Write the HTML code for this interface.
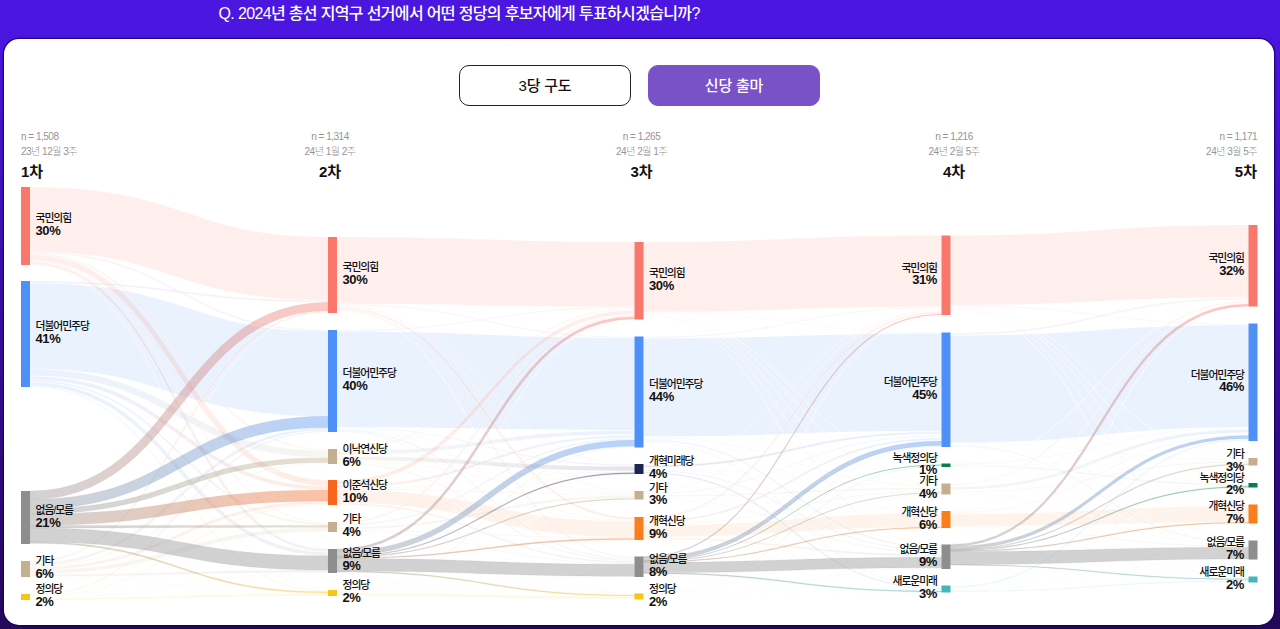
<!DOCTYPE html>
<html lang="ko"><head><meta charset="utf-8"><title>총선 지역구 투표 의향 패널 조사</title>
<style>
html,body{margin:0;padding:0}
body{width:1280px;height:629px;overflow:hidden;position:relative;background:linear-gradient(180deg,#4a16e0 0%,#4a16e0 5%,#370fa2 49%,#240859 100%);font-family:"Liberation Sans","Noto Sans CJK KR",sans-serif}
.title{position:absolute;left:218.5px;top:2px;height:24px;line-height:24px;color:#fff;font-size:16px;font-weight:500;letter-spacing:-0.65px;white-space:nowrap}
.card{position:absolute;left:4px;top:38.7px;width:1270.3px;height:586.3px;background:#fff;border-radius:15px;box-shadow:0 0 0 1.3px rgba(16,0,100,.75)}
.btn{position:absolute;top:65px;width:170px;height:38.5px;border-radius:10px;font-size:15px;font-weight:500;line-height:40.5px;text-align:center;letter-spacing:-0.2px}
.b1{left:459px;border:1px solid #222;background:#fff;color:#111}
.b2{left:648px;border:1px solid #7a52c8;background:#7a52c8;color:#fff}
svg{position:absolute;left:0;top:0}
svg text{font-family:"Liberation Sans","Noto Sans CJK KR",sans-serif}
.nm{font-size:10.8px;fill:#111;letter-spacing:-1.05px;font-weight:500}
.pc{font-size:13px;fill:#111;font-weight:700;letter-spacing:-0.4px}
.hn{font-size:10px;fill:#959595;letter-spacing:-0.5px;font-weight:300}
.hr{font-size:15px;fill:#111;font-weight:700}
.s{stroke:#fff;stroke-opacity:.45;stroke-width:1}
</style></head><body>
<div class="title">Q. 2024년 총선 지역구 선거에서 어떤 정당의 후보자에게 투표하시겠습니까?</div>
<div class="card"></div>
<div class="btn b1">3당 구도</div>
<div class="btn b2">신당 출마</div>
<svg width="1280" height="629" viewBox="0 0 1280 629">
<defs>
<linearGradient id="g1" gradientUnits="userSpaceOnUse" x1="30" x2="328" y1="0" y2="0"><stop offset="0" stop-color="#fa776c"/><stop offset="1" stop-color="#fa776c"/></linearGradient>
<linearGradient id="g2" gradientUnits="userSpaceOnUse" x1="30" x2="328" y1="0" y2="0"><stop offset="0" stop-color="#fa776c"/><stop offset="1" stop-color="#4d90f7"/></linearGradient>
<linearGradient id="g3" gradientUnits="userSpaceOnUse" x1="30" x2="328" y1="0" y2="0"><stop offset="0" stop-color="#fa776c"/><stop offset="1" stop-color="#c3af90"/></linearGradient>
<linearGradient id="g4" gradientUnits="userSpaceOnUse" x1="30" x2="328" y1="0" y2="0"><stop offset="0" stop-color="#fa776c"/><stop offset="1" stop-color="#f8651f"/></linearGradient>
<linearGradient id="g5" gradientUnits="userSpaceOnUse" x1="30" x2="328" y1="0" y2="0"><stop offset="0" stop-color="#fa776c"/><stop offset="1" stop-color="#c4b08f"/></linearGradient>
<linearGradient id="g6" gradientUnits="userSpaceOnUse" x1="30" x2="328" y1="0" y2="0"><stop offset="0" stop-color="#fa776c"/><stop offset="1" stop-color="#8e8e8e"/></linearGradient>
<linearGradient id="g7" gradientUnits="userSpaceOnUse" x1="30" x2="328" y1="0" y2="0"><stop offset="0" stop-color="#fa776c"/><stop offset="1" stop-color="#f5c518"/></linearGradient>
<linearGradient id="g8" gradientUnits="userSpaceOnUse" x1="30" x2="328" y1="0" y2="0"><stop offset="0" stop-color="#4d90f7"/><stop offset="1" stop-color="#fa776c"/></linearGradient>
<linearGradient id="g9" gradientUnits="userSpaceOnUse" x1="30" x2="328" y1="0" y2="0"><stop offset="0" stop-color="#4d90f7"/><stop offset="1" stop-color="#4d90f7"/></linearGradient>
<linearGradient id="g10" gradientUnits="userSpaceOnUse" x1="30" x2="328" y1="0" y2="0"><stop offset="0" stop-color="#4d90f7"/><stop offset="1" stop-color="#c3af90"/></linearGradient>
<linearGradient id="g11" gradientUnits="userSpaceOnUse" x1="30" x2="328" y1="0" y2="0"><stop offset="0" stop-color="#4d90f7"/><stop offset="1" stop-color="#f8651f"/></linearGradient>
<linearGradient id="g12" gradientUnits="userSpaceOnUse" x1="30" x2="328" y1="0" y2="0"><stop offset="0" stop-color="#4d90f7"/><stop offset="1" stop-color="#c4b08f"/></linearGradient>
<linearGradient id="g13" gradientUnits="userSpaceOnUse" x1="30" x2="328" y1="0" y2="0"><stop offset="0" stop-color="#4d90f7"/><stop offset="1" stop-color="#8e8e8e"/></linearGradient>
<linearGradient id="g14" gradientUnits="userSpaceOnUse" x1="30" x2="328" y1="0" y2="0"><stop offset="0" stop-color="#4d90f7"/><stop offset="1" stop-color="#f5c518"/></linearGradient>
<linearGradient id="g15" gradientUnits="userSpaceOnUse" x1="30" x2="328" y1="0" y2="0"><stop offset="0" stop-color="#8e8e8e"/><stop offset="1" stop-color="#fa776c"/></linearGradient>
<linearGradient id="g16" gradientUnits="userSpaceOnUse" x1="30" x2="328" y1="0" y2="0"><stop offset="0" stop-color="#8e8e8e"/><stop offset="1" stop-color="#4d90f7"/></linearGradient>
<linearGradient id="g17" gradientUnits="userSpaceOnUse" x1="30" x2="328" y1="0" y2="0"><stop offset="0" stop-color="#8e8e8e"/><stop offset="1" stop-color="#c3af90"/></linearGradient>
<linearGradient id="g18" gradientUnits="userSpaceOnUse" x1="30" x2="328" y1="0" y2="0"><stop offset="0" stop-color="#8e8e8e"/><stop offset="1" stop-color="#f8651f"/></linearGradient>
<linearGradient id="g19" gradientUnits="userSpaceOnUse" x1="30" x2="328" y1="0" y2="0"><stop offset="0" stop-color="#8e8e8e"/><stop offset="1" stop-color="#c4b08f"/></linearGradient>
<linearGradient id="g20" gradientUnits="userSpaceOnUse" x1="30" x2="328" y1="0" y2="0"><stop offset="0" stop-color="#8e8e8e"/><stop offset="1" stop-color="#8e8e8e"/></linearGradient>
<linearGradient id="g21" gradientUnits="userSpaceOnUse" x1="30" x2="328" y1="0" y2="0"><stop offset="0" stop-color="#8e8e8e"/><stop offset="1" stop-color="#f5c518"/></linearGradient>
<linearGradient id="g22" gradientUnits="userSpaceOnUse" x1="30" x2="328" y1="0" y2="0"><stop offset="0" stop-color="#c4b08f"/><stop offset="1" stop-color="#fa776c"/></linearGradient>
<linearGradient id="g23" gradientUnits="userSpaceOnUse" x1="30" x2="328" y1="0" y2="0"><stop offset="0" stop-color="#c4b08f"/><stop offset="1" stop-color="#4d90f7"/></linearGradient>
<linearGradient id="g24" gradientUnits="userSpaceOnUse" x1="30" x2="328" y1="0" y2="0"><stop offset="0" stop-color="#c4b08f"/><stop offset="1" stop-color="#c3af90"/></linearGradient>
<linearGradient id="g25" gradientUnits="userSpaceOnUse" x1="30" x2="328" y1="0" y2="0"><stop offset="0" stop-color="#c4b08f"/><stop offset="1" stop-color="#f8651f"/></linearGradient>
<linearGradient id="g26" gradientUnits="userSpaceOnUse" x1="30" x2="328" y1="0" y2="0"><stop offset="0" stop-color="#c4b08f"/><stop offset="1" stop-color="#c4b08f"/></linearGradient>
<linearGradient id="g27" gradientUnits="userSpaceOnUse" x1="30" x2="328" y1="0" y2="0"><stop offset="0" stop-color="#c4b08f"/><stop offset="1" stop-color="#8e8e8e"/></linearGradient>
<linearGradient id="g28" gradientUnits="userSpaceOnUse" x1="30" x2="328" y1="0" y2="0"><stop offset="0" stop-color="#c4b08f"/><stop offset="1" stop-color="#f5c518"/></linearGradient>
<linearGradient id="g29" gradientUnits="userSpaceOnUse" x1="30" x2="328" y1="0" y2="0"><stop offset="0" stop-color="#f5c518"/><stop offset="1" stop-color="#fa776c"/></linearGradient>
<linearGradient id="g30" gradientUnits="userSpaceOnUse" x1="30" x2="328" y1="0" y2="0"><stop offset="0" stop-color="#f5c518"/><stop offset="1" stop-color="#4d90f7"/></linearGradient>
<linearGradient id="g31" gradientUnits="userSpaceOnUse" x1="30" x2="328" y1="0" y2="0"><stop offset="0" stop-color="#f5c518"/><stop offset="1" stop-color="#c3af90"/></linearGradient>
<linearGradient id="g32" gradientUnits="userSpaceOnUse" x1="30" x2="328" y1="0" y2="0"><stop offset="0" stop-color="#f5c518"/><stop offset="1" stop-color="#f8651f"/></linearGradient>
<linearGradient id="g33" gradientUnits="userSpaceOnUse" x1="30" x2="328" y1="0" y2="0"><stop offset="0" stop-color="#f5c518"/><stop offset="1" stop-color="#c4b08f"/></linearGradient>
<linearGradient id="g34" gradientUnits="userSpaceOnUse" x1="30" x2="328" y1="0" y2="0"><stop offset="0" stop-color="#f5c518"/><stop offset="1" stop-color="#8e8e8e"/></linearGradient>
<linearGradient id="g35" gradientUnits="userSpaceOnUse" x1="30" x2="328" y1="0" y2="0"><stop offset="0" stop-color="#f5c518"/><stop offset="1" stop-color="#f5c518"/></linearGradient>
<linearGradient id="g36" gradientUnits="userSpaceOnUse" x1="337" x2="634.5" y1="0" y2="0"><stop offset="0" stop-color="#fa776c"/><stop offset="1" stop-color="#fa776c"/></linearGradient>
<linearGradient id="g37" gradientUnits="userSpaceOnUse" x1="337" x2="634.5" y1="0" y2="0"><stop offset="0" stop-color="#fa776c"/><stop offset="1" stop-color="#4d90f7"/></linearGradient>
<linearGradient id="g38" gradientUnits="userSpaceOnUse" x1="337" x2="634.5" y1="0" y2="0"><stop offset="0" stop-color="#fa776c"/><stop offset="1" stop-color="#1b2550"/></linearGradient>
<linearGradient id="g39" gradientUnits="userSpaceOnUse" x1="337" x2="634.5" y1="0" y2="0"><stop offset="0" stop-color="#fa776c"/><stop offset="1" stop-color="#c4b08f"/></linearGradient>
<linearGradient id="g40" gradientUnits="userSpaceOnUse" x1="337" x2="634.5" y1="0" y2="0"><stop offset="0" stop-color="#fa776c"/><stop offset="1" stop-color="#fa7d1e"/></linearGradient>
<linearGradient id="g41" gradientUnits="userSpaceOnUse" x1="337" x2="634.5" y1="0" y2="0"><stop offset="0" stop-color="#fa776c"/><stop offset="1" stop-color="#8e8e8e"/></linearGradient>
<linearGradient id="g42" gradientUnits="userSpaceOnUse" x1="337" x2="634.5" y1="0" y2="0"><stop offset="0" stop-color="#fa776c"/><stop offset="1" stop-color="#f5c518"/></linearGradient>
<linearGradient id="g43" gradientUnits="userSpaceOnUse" x1="337" x2="634.5" y1="0" y2="0"><stop offset="0" stop-color="#4d90f7"/><stop offset="1" stop-color="#fa776c"/></linearGradient>
<linearGradient id="g44" gradientUnits="userSpaceOnUse" x1="337" x2="634.5" y1="0" y2="0"><stop offset="0" stop-color="#4d90f7"/><stop offset="1" stop-color="#4d90f7"/></linearGradient>
<linearGradient id="g45" gradientUnits="userSpaceOnUse" x1="337" x2="634.5" y1="0" y2="0"><stop offset="0" stop-color="#4d90f7"/><stop offset="1" stop-color="#1b2550"/></linearGradient>
<linearGradient id="g46" gradientUnits="userSpaceOnUse" x1="337" x2="634.5" y1="0" y2="0"><stop offset="0" stop-color="#4d90f7"/><stop offset="1" stop-color="#c4b08f"/></linearGradient>
<linearGradient id="g47" gradientUnits="userSpaceOnUse" x1="337" x2="634.5" y1="0" y2="0"><stop offset="0" stop-color="#4d90f7"/><stop offset="1" stop-color="#fa7d1e"/></linearGradient>
<linearGradient id="g48" gradientUnits="userSpaceOnUse" x1="337" x2="634.5" y1="0" y2="0"><stop offset="0" stop-color="#4d90f7"/><stop offset="1" stop-color="#8e8e8e"/></linearGradient>
<linearGradient id="g49" gradientUnits="userSpaceOnUse" x1="337" x2="634.5" y1="0" y2="0"><stop offset="0" stop-color="#4d90f7"/><stop offset="1" stop-color="#f5c518"/></linearGradient>
<linearGradient id="g50" gradientUnits="userSpaceOnUse" x1="337" x2="634.5" y1="0" y2="0"><stop offset="0" stop-color="#c3af90"/><stop offset="1" stop-color="#fa776c"/></linearGradient>
<linearGradient id="g51" gradientUnits="userSpaceOnUse" x1="337" x2="634.5" y1="0" y2="0"><stop offset="0" stop-color="#c3af90"/><stop offset="1" stop-color="#4d90f7"/></linearGradient>
<linearGradient id="g52" gradientUnits="userSpaceOnUse" x1="337" x2="634.5" y1="0" y2="0"><stop offset="0" stop-color="#c3af90"/><stop offset="1" stop-color="#1b2550"/></linearGradient>
<linearGradient id="g53" gradientUnits="userSpaceOnUse" x1="337" x2="634.5" y1="0" y2="0"><stop offset="0" stop-color="#c3af90"/><stop offset="1" stop-color="#c4b08f"/></linearGradient>
<linearGradient id="g54" gradientUnits="userSpaceOnUse" x1="337" x2="634.5" y1="0" y2="0"><stop offset="0" stop-color="#c3af90"/><stop offset="1" stop-color="#fa7d1e"/></linearGradient>
<linearGradient id="g55" gradientUnits="userSpaceOnUse" x1="337" x2="634.5" y1="0" y2="0"><stop offset="0" stop-color="#c3af90"/><stop offset="1" stop-color="#8e8e8e"/></linearGradient>
<linearGradient id="g56" gradientUnits="userSpaceOnUse" x1="337" x2="634.5" y1="0" y2="0"><stop offset="0" stop-color="#c3af90"/><stop offset="1" stop-color="#f5c518"/></linearGradient>
<linearGradient id="g57" gradientUnits="userSpaceOnUse" x1="337" x2="634.5" y1="0" y2="0"><stop offset="0" stop-color="#f8651f"/><stop offset="1" stop-color="#fa776c"/></linearGradient>
<linearGradient id="g58" gradientUnits="userSpaceOnUse" x1="337" x2="634.5" y1="0" y2="0"><stop offset="0" stop-color="#f8651f"/><stop offset="1" stop-color="#4d90f7"/></linearGradient>
<linearGradient id="g59" gradientUnits="userSpaceOnUse" x1="337" x2="634.5" y1="0" y2="0"><stop offset="0" stop-color="#f8651f"/><stop offset="1" stop-color="#1b2550"/></linearGradient>
<linearGradient id="g60" gradientUnits="userSpaceOnUse" x1="337" x2="634.5" y1="0" y2="0"><stop offset="0" stop-color="#f8651f"/><stop offset="1" stop-color="#c4b08f"/></linearGradient>
<linearGradient id="g61" gradientUnits="userSpaceOnUse" x1="337" x2="634.5" y1="0" y2="0"><stop offset="0" stop-color="#f8651f"/><stop offset="1" stop-color="#fa7d1e"/></linearGradient>
<linearGradient id="g62" gradientUnits="userSpaceOnUse" x1="337" x2="634.5" y1="0" y2="0"><stop offset="0" stop-color="#f8651f"/><stop offset="1" stop-color="#8e8e8e"/></linearGradient>
<linearGradient id="g63" gradientUnits="userSpaceOnUse" x1="337" x2="634.5" y1="0" y2="0"><stop offset="0" stop-color="#f8651f"/><stop offset="1" stop-color="#f5c518"/></linearGradient>
<linearGradient id="g64" gradientUnits="userSpaceOnUse" x1="337" x2="634.5" y1="0" y2="0"><stop offset="0" stop-color="#c4b08f"/><stop offset="1" stop-color="#fa776c"/></linearGradient>
<linearGradient id="g65" gradientUnits="userSpaceOnUse" x1="337" x2="634.5" y1="0" y2="0"><stop offset="0" stop-color="#c4b08f"/><stop offset="1" stop-color="#4d90f7"/></linearGradient>
<linearGradient id="g66" gradientUnits="userSpaceOnUse" x1="337" x2="634.5" y1="0" y2="0"><stop offset="0" stop-color="#c4b08f"/><stop offset="1" stop-color="#1b2550"/></linearGradient>
<linearGradient id="g67" gradientUnits="userSpaceOnUse" x1="337" x2="634.5" y1="0" y2="0"><stop offset="0" stop-color="#c4b08f"/><stop offset="1" stop-color="#c4b08f"/></linearGradient>
<linearGradient id="g68" gradientUnits="userSpaceOnUse" x1="337" x2="634.5" y1="0" y2="0"><stop offset="0" stop-color="#c4b08f"/><stop offset="1" stop-color="#fa7d1e"/></linearGradient>
<linearGradient id="g69" gradientUnits="userSpaceOnUse" x1="337" x2="634.5" y1="0" y2="0"><stop offset="0" stop-color="#c4b08f"/><stop offset="1" stop-color="#8e8e8e"/></linearGradient>
<linearGradient id="g70" gradientUnits="userSpaceOnUse" x1="337" x2="634.5" y1="0" y2="0"><stop offset="0" stop-color="#c4b08f"/><stop offset="1" stop-color="#f5c518"/></linearGradient>
<linearGradient id="g71" gradientUnits="userSpaceOnUse" x1="337" x2="634.5" y1="0" y2="0"><stop offset="0" stop-color="#8e8e8e"/><stop offset="1" stop-color="#fa776c"/></linearGradient>
<linearGradient id="g72" gradientUnits="userSpaceOnUse" x1="337" x2="634.5" y1="0" y2="0"><stop offset="0" stop-color="#8e8e8e"/><stop offset="1" stop-color="#4d90f7"/></linearGradient>
<linearGradient id="g73" gradientUnits="userSpaceOnUse" x1="337" x2="634.5" y1="0" y2="0"><stop offset="0" stop-color="#8e8e8e"/><stop offset="1" stop-color="#1b2550"/></linearGradient>
<linearGradient id="g74" gradientUnits="userSpaceOnUse" x1="337" x2="634.5" y1="0" y2="0"><stop offset="0" stop-color="#8e8e8e"/><stop offset="1" stop-color="#c4b08f"/></linearGradient>
<linearGradient id="g75" gradientUnits="userSpaceOnUse" x1="337" x2="634.5" y1="0" y2="0"><stop offset="0" stop-color="#8e8e8e"/><stop offset="1" stop-color="#fa7d1e"/></linearGradient>
<linearGradient id="g76" gradientUnits="userSpaceOnUse" x1="337" x2="634.5" y1="0" y2="0"><stop offset="0" stop-color="#8e8e8e"/><stop offset="1" stop-color="#8e8e8e"/></linearGradient>
<linearGradient id="g77" gradientUnits="userSpaceOnUse" x1="337" x2="634.5" y1="0" y2="0"><stop offset="0" stop-color="#8e8e8e"/><stop offset="1" stop-color="#f5c518"/></linearGradient>
<linearGradient id="g78" gradientUnits="userSpaceOnUse" x1="337" x2="634.5" y1="0" y2="0"><stop offset="0" stop-color="#f5c518"/><stop offset="1" stop-color="#fa776c"/></linearGradient>
<linearGradient id="g79" gradientUnits="userSpaceOnUse" x1="337" x2="634.5" y1="0" y2="0"><stop offset="0" stop-color="#f5c518"/><stop offset="1" stop-color="#4d90f7"/></linearGradient>
<linearGradient id="g80" gradientUnits="userSpaceOnUse" x1="337" x2="634.5" y1="0" y2="0"><stop offset="0" stop-color="#f5c518"/><stop offset="1" stop-color="#1b2550"/></linearGradient>
<linearGradient id="g81" gradientUnits="userSpaceOnUse" x1="337" x2="634.5" y1="0" y2="0"><stop offset="0" stop-color="#f5c518"/><stop offset="1" stop-color="#c4b08f"/></linearGradient>
<linearGradient id="g82" gradientUnits="userSpaceOnUse" x1="337" x2="634.5" y1="0" y2="0"><stop offset="0" stop-color="#f5c518"/><stop offset="1" stop-color="#fa7d1e"/></linearGradient>
<linearGradient id="g83" gradientUnits="userSpaceOnUse" x1="337" x2="634.5" y1="0" y2="0"><stop offset="0" stop-color="#f5c518"/><stop offset="1" stop-color="#8e8e8e"/></linearGradient>
<linearGradient id="g84" gradientUnits="userSpaceOnUse" x1="337" x2="634.5" y1="0" y2="0"><stop offset="0" stop-color="#f5c518"/><stop offset="1" stop-color="#f5c518"/></linearGradient>
<linearGradient id="g85" gradientUnits="userSpaceOnUse" x1="643.5" x2="941.5" y1="0" y2="0"><stop offset="0" stop-color="#fa776c"/><stop offset="1" stop-color="#fa776c"/></linearGradient>
<linearGradient id="g86" gradientUnits="userSpaceOnUse" x1="643.5" x2="941.5" y1="0" y2="0"><stop offset="0" stop-color="#fa776c"/><stop offset="1" stop-color="#4d90f7"/></linearGradient>
<linearGradient id="g87" gradientUnits="userSpaceOnUse" x1="643.5" x2="941.5" y1="0" y2="0"><stop offset="0" stop-color="#fa776c"/><stop offset="1" stop-color="#0b7d48"/></linearGradient>
<linearGradient id="g88" gradientUnits="userSpaceOnUse" x1="643.5" x2="941.5" y1="0" y2="0"><stop offset="0" stop-color="#fa776c"/><stop offset="1" stop-color="#c4b08f"/></linearGradient>
<linearGradient id="g89" gradientUnits="userSpaceOnUse" x1="643.5" x2="941.5" y1="0" y2="0"><stop offset="0" stop-color="#fa776c"/><stop offset="1" stop-color="#fa7d1e"/></linearGradient>
<linearGradient id="g90" gradientUnits="userSpaceOnUse" x1="643.5" x2="941.5" y1="0" y2="0"><stop offset="0" stop-color="#fa776c"/><stop offset="1" stop-color="#8e8e8e"/></linearGradient>
<linearGradient id="g91" gradientUnits="userSpaceOnUse" x1="643.5" x2="941.5" y1="0" y2="0"><stop offset="0" stop-color="#fa776c"/><stop offset="1" stop-color="#45b5b8"/></linearGradient>
<linearGradient id="g92" gradientUnits="userSpaceOnUse" x1="643.5" x2="941.5" y1="0" y2="0"><stop offset="0" stop-color="#4d90f7"/><stop offset="1" stop-color="#fa776c"/></linearGradient>
<linearGradient id="g93" gradientUnits="userSpaceOnUse" x1="643.5" x2="941.5" y1="0" y2="0"><stop offset="0" stop-color="#4d90f7"/><stop offset="1" stop-color="#4d90f7"/></linearGradient>
<linearGradient id="g94" gradientUnits="userSpaceOnUse" x1="643.5" x2="941.5" y1="0" y2="0"><stop offset="0" stop-color="#4d90f7"/><stop offset="1" stop-color="#0b7d48"/></linearGradient>
<linearGradient id="g95" gradientUnits="userSpaceOnUse" x1="643.5" x2="941.5" y1="0" y2="0"><stop offset="0" stop-color="#4d90f7"/><stop offset="1" stop-color="#c4b08f"/></linearGradient>
<linearGradient id="g96" gradientUnits="userSpaceOnUse" x1="643.5" x2="941.5" y1="0" y2="0"><stop offset="0" stop-color="#4d90f7"/><stop offset="1" stop-color="#fa7d1e"/></linearGradient>
<linearGradient id="g97" gradientUnits="userSpaceOnUse" x1="643.5" x2="941.5" y1="0" y2="0"><stop offset="0" stop-color="#4d90f7"/><stop offset="1" stop-color="#8e8e8e"/></linearGradient>
<linearGradient id="g98" gradientUnits="userSpaceOnUse" x1="643.5" x2="941.5" y1="0" y2="0"><stop offset="0" stop-color="#4d90f7"/><stop offset="1" stop-color="#45b5b8"/></linearGradient>
<linearGradient id="g99" gradientUnits="userSpaceOnUse" x1="643.5" x2="941.5" y1="0" y2="0"><stop offset="0" stop-color="#1b2550"/><stop offset="1" stop-color="#fa776c"/></linearGradient>
<linearGradient id="g100" gradientUnits="userSpaceOnUse" x1="643.5" x2="941.5" y1="0" y2="0"><stop offset="0" stop-color="#1b2550"/><stop offset="1" stop-color="#4d90f7"/></linearGradient>
<linearGradient id="g101" gradientUnits="userSpaceOnUse" x1="643.5" x2="941.5" y1="0" y2="0"><stop offset="0" stop-color="#1b2550"/><stop offset="1" stop-color="#0b7d48"/></linearGradient>
<linearGradient id="g102" gradientUnits="userSpaceOnUse" x1="643.5" x2="941.5" y1="0" y2="0"><stop offset="0" stop-color="#1b2550"/><stop offset="1" stop-color="#c4b08f"/></linearGradient>
<linearGradient id="g103" gradientUnits="userSpaceOnUse" x1="643.5" x2="941.5" y1="0" y2="0"><stop offset="0" stop-color="#1b2550"/><stop offset="1" stop-color="#fa7d1e"/></linearGradient>
<linearGradient id="g104" gradientUnits="userSpaceOnUse" x1="643.5" x2="941.5" y1="0" y2="0"><stop offset="0" stop-color="#1b2550"/><stop offset="1" stop-color="#8e8e8e"/></linearGradient>
<linearGradient id="g105" gradientUnits="userSpaceOnUse" x1="643.5" x2="941.5" y1="0" y2="0"><stop offset="0" stop-color="#1b2550"/><stop offset="1" stop-color="#45b5b8"/></linearGradient>
<linearGradient id="g106" gradientUnits="userSpaceOnUse" x1="643.5" x2="941.5" y1="0" y2="0"><stop offset="0" stop-color="#c4b08f"/><stop offset="1" stop-color="#fa776c"/></linearGradient>
<linearGradient id="g107" gradientUnits="userSpaceOnUse" x1="643.5" x2="941.5" y1="0" y2="0"><stop offset="0" stop-color="#c4b08f"/><stop offset="1" stop-color="#4d90f7"/></linearGradient>
<linearGradient id="g108" gradientUnits="userSpaceOnUse" x1="643.5" x2="941.5" y1="0" y2="0"><stop offset="0" stop-color="#c4b08f"/><stop offset="1" stop-color="#0b7d48"/></linearGradient>
<linearGradient id="g109" gradientUnits="userSpaceOnUse" x1="643.5" x2="941.5" y1="0" y2="0"><stop offset="0" stop-color="#c4b08f"/><stop offset="1" stop-color="#c4b08f"/></linearGradient>
<linearGradient id="g110" gradientUnits="userSpaceOnUse" x1="643.5" x2="941.5" y1="0" y2="0"><stop offset="0" stop-color="#c4b08f"/><stop offset="1" stop-color="#fa7d1e"/></linearGradient>
<linearGradient id="g111" gradientUnits="userSpaceOnUse" x1="643.5" x2="941.5" y1="0" y2="0"><stop offset="0" stop-color="#c4b08f"/><stop offset="1" stop-color="#8e8e8e"/></linearGradient>
<linearGradient id="g112" gradientUnits="userSpaceOnUse" x1="643.5" x2="941.5" y1="0" y2="0"><stop offset="0" stop-color="#c4b08f"/><stop offset="1" stop-color="#45b5b8"/></linearGradient>
<linearGradient id="g113" gradientUnits="userSpaceOnUse" x1="643.5" x2="941.5" y1="0" y2="0"><stop offset="0" stop-color="#fa7d1e"/><stop offset="1" stop-color="#fa776c"/></linearGradient>
<linearGradient id="g114" gradientUnits="userSpaceOnUse" x1="643.5" x2="941.5" y1="0" y2="0"><stop offset="0" stop-color="#fa7d1e"/><stop offset="1" stop-color="#4d90f7"/></linearGradient>
<linearGradient id="g115" gradientUnits="userSpaceOnUse" x1="643.5" x2="941.5" y1="0" y2="0"><stop offset="0" stop-color="#fa7d1e"/><stop offset="1" stop-color="#0b7d48"/></linearGradient>
<linearGradient id="g116" gradientUnits="userSpaceOnUse" x1="643.5" x2="941.5" y1="0" y2="0"><stop offset="0" stop-color="#fa7d1e"/><stop offset="1" stop-color="#c4b08f"/></linearGradient>
<linearGradient id="g117" gradientUnits="userSpaceOnUse" x1="643.5" x2="941.5" y1="0" y2="0"><stop offset="0" stop-color="#fa7d1e"/><stop offset="1" stop-color="#fa7d1e"/></linearGradient>
<linearGradient id="g118" gradientUnits="userSpaceOnUse" x1="643.5" x2="941.5" y1="0" y2="0"><stop offset="0" stop-color="#fa7d1e"/><stop offset="1" stop-color="#8e8e8e"/></linearGradient>
<linearGradient id="g119" gradientUnits="userSpaceOnUse" x1="643.5" x2="941.5" y1="0" y2="0"><stop offset="0" stop-color="#fa7d1e"/><stop offset="1" stop-color="#45b5b8"/></linearGradient>
<linearGradient id="g120" gradientUnits="userSpaceOnUse" x1="643.5" x2="941.5" y1="0" y2="0"><stop offset="0" stop-color="#8e8e8e"/><stop offset="1" stop-color="#fa776c"/></linearGradient>
<linearGradient id="g121" gradientUnits="userSpaceOnUse" x1="643.5" x2="941.5" y1="0" y2="0"><stop offset="0" stop-color="#8e8e8e"/><stop offset="1" stop-color="#4d90f7"/></linearGradient>
<linearGradient id="g122" gradientUnits="userSpaceOnUse" x1="643.5" x2="941.5" y1="0" y2="0"><stop offset="0" stop-color="#8e8e8e"/><stop offset="1" stop-color="#0b7d48"/></linearGradient>
<linearGradient id="g123" gradientUnits="userSpaceOnUse" x1="643.5" x2="941.5" y1="0" y2="0"><stop offset="0" stop-color="#8e8e8e"/><stop offset="1" stop-color="#c4b08f"/></linearGradient>
<linearGradient id="g124" gradientUnits="userSpaceOnUse" x1="643.5" x2="941.5" y1="0" y2="0"><stop offset="0" stop-color="#8e8e8e"/><stop offset="1" stop-color="#fa7d1e"/></linearGradient>
<linearGradient id="g125" gradientUnits="userSpaceOnUse" x1="643.5" x2="941.5" y1="0" y2="0"><stop offset="0" stop-color="#8e8e8e"/><stop offset="1" stop-color="#8e8e8e"/></linearGradient>
<linearGradient id="g126" gradientUnits="userSpaceOnUse" x1="643.5" x2="941.5" y1="0" y2="0"><stop offset="0" stop-color="#8e8e8e"/><stop offset="1" stop-color="#45b5b8"/></linearGradient>
<linearGradient id="g127" gradientUnits="userSpaceOnUse" x1="643.5" x2="941.5" y1="0" y2="0"><stop offset="0" stop-color="#f5c518"/><stop offset="1" stop-color="#fa776c"/></linearGradient>
<linearGradient id="g128" gradientUnits="userSpaceOnUse" x1="643.5" x2="941.5" y1="0" y2="0"><stop offset="0" stop-color="#f5c518"/><stop offset="1" stop-color="#4d90f7"/></linearGradient>
<linearGradient id="g129" gradientUnits="userSpaceOnUse" x1="643.5" x2="941.5" y1="0" y2="0"><stop offset="0" stop-color="#f5c518"/><stop offset="1" stop-color="#0b7d48"/></linearGradient>
<linearGradient id="g130" gradientUnits="userSpaceOnUse" x1="643.5" x2="941.5" y1="0" y2="0"><stop offset="0" stop-color="#f5c518"/><stop offset="1" stop-color="#c4b08f"/></linearGradient>
<linearGradient id="g131" gradientUnits="userSpaceOnUse" x1="643.5" x2="941.5" y1="0" y2="0"><stop offset="0" stop-color="#f5c518"/><stop offset="1" stop-color="#fa7d1e"/></linearGradient>
<linearGradient id="g132" gradientUnits="userSpaceOnUse" x1="643.5" x2="941.5" y1="0" y2="0"><stop offset="0" stop-color="#f5c518"/><stop offset="1" stop-color="#8e8e8e"/></linearGradient>
<linearGradient id="g133" gradientUnits="userSpaceOnUse" x1="643.5" x2="941.5" y1="0" y2="0"><stop offset="0" stop-color="#f5c518"/><stop offset="1" stop-color="#45b5b8"/></linearGradient>
<linearGradient id="g134" gradientUnits="userSpaceOnUse" x1="950.5" x2="1248.5" y1="0" y2="0"><stop offset="0" stop-color="#fa776c"/><stop offset="1" stop-color="#fa776c"/></linearGradient>
<linearGradient id="g135" gradientUnits="userSpaceOnUse" x1="950.5" x2="1248.5" y1="0" y2="0"><stop offset="0" stop-color="#fa776c"/><stop offset="1" stop-color="#4d90f7"/></linearGradient>
<linearGradient id="g136" gradientUnits="userSpaceOnUse" x1="950.5" x2="1248.5" y1="0" y2="0"><stop offset="0" stop-color="#fa776c"/><stop offset="1" stop-color="#c4b08f"/></linearGradient>
<linearGradient id="g137" gradientUnits="userSpaceOnUse" x1="950.5" x2="1248.5" y1="0" y2="0"><stop offset="0" stop-color="#fa776c"/><stop offset="1" stop-color="#0b7d48"/></linearGradient>
<linearGradient id="g138" gradientUnits="userSpaceOnUse" x1="950.5" x2="1248.5" y1="0" y2="0"><stop offset="0" stop-color="#fa776c"/><stop offset="1" stop-color="#fa7d1e"/></linearGradient>
<linearGradient id="g139" gradientUnits="userSpaceOnUse" x1="950.5" x2="1248.5" y1="0" y2="0"><stop offset="0" stop-color="#fa776c"/><stop offset="1" stop-color="#8e8e8e"/></linearGradient>
<linearGradient id="g140" gradientUnits="userSpaceOnUse" x1="950.5" x2="1248.5" y1="0" y2="0"><stop offset="0" stop-color="#fa776c"/><stop offset="1" stop-color="#45b5b8"/></linearGradient>
<linearGradient id="g141" gradientUnits="userSpaceOnUse" x1="950.5" x2="1248.5" y1="0" y2="0"><stop offset="0" stop-color="#4d90f7"/><stop offset="1" stop-color="#fa776c"/></linearGradient>
<linearGradient id="g142" gradientUnits="userSpaceOnUse" x1="950.5" x2="1248.5" y1="0" y2="0"><stop offset="0" stop-color="#4d90f7"/><stop offset="1" stop-color="#4d90f7"/></linearGradient>
<linearGradient id="g143" gradientUnits="userSpaceOnUse" x1="950.5" x2="1248.5" y1="0" y2="0"><stop offset="0" stop-color="#4d90f7"/><stop offset="1" stop-color="#c4b08f"/></linearGradient>
<linearGradient id="g144" gradientUnits="userSpaceOnUse" x1="950.5" x2="1248.5" y1="0" y2="0"><stop offset="0" stop-color="#4d90f7"/><stop offset="1" stop-color="#0b7d48"/></linearGradient>
<linearGradient id="g145" gradientUnits="userSpaceOnUse" x1="950.5" x2="1248.5" y1="0" y2="0"><stop offset="0" stop-color="#4d90f7"/><stop offset="1" stop-color="#fa7d1e"/></linearGradient>
<linearGradient id="g146" gradientUnits="userSpaceOnUse" x1="950.5" x2="1248.5" y1="0" y2="0"><stop offset="0" stop-color="#4d90f7"/><stop offset="1" stop-color="#8e8e8e"/></linearGradient>
<linearGradient id="g147" gradientUnits="userSpaceOnUse" x1="950.5" x2="1248.5" y1="0" y2="0"><stop offset="0" stop-color="#4d90f7"/><stop offset="1" stop-color="#45b5b8"/></linearGradient>
<linearGradient id="g148" gradientUnits="userSpaceOnUse" x1="950.5" x2="1248.5" y1="0" y2="0"><stop offset="0" stop-color="#0b7d48"/><stop offset="1" stop-color="#fa776c"/></linearGradient>
<linearGradient id="g149" gradientUnits="userSpaceOnUse" x1="950.5" x2="1248.5" y1="0" y2="0"><stop offset="0" stop-color="#0b7d48"/><stop offset="1" stop-color="#4d90f7"/></linearGradient>
<linearGradient id="g150" gradientUnits="userSpaceOnUse" x1="950.5" x2="1248.5" y1="0" y2="0"><stop offset="0" stop-color="#0b7d48"/><stop offset="1" stop-color="#c4b08f"/></linearGradient>
<linearGradient id="g151" gradientUnits="userSpaceOnUse" x1="950.5" x2="1248.5" y1="0" y2="0"><stop offset="0" stop-color="#0b7d48"/><stop offset="1" stop-color="#0b7d48"/></linearGradient>
<linearGradient id="g152" gradientUnits="userSpaceOnUse" x1="950.5" x2="1248.5" y1="0" y2="0"><stop offset="0" stop-color="#0b7d48"/><stop offset="1" stop-color="#fa7d1e"/></linearGradient>
<linearGradient id="g153" gradientUnits="userSpaceOnUse" x1="950.5" x2="1248.5" y1="0" y2="0"><stop offset="0" stop-color="#0b7d48"/><stop offset="1" stop-color="#8e8e8e"/></linearGradient>
<linearGradient id="g154" gradientUnits="userSpaceOnUse" x1="950.5" x2="1248.5" y1="0" y2="0"><stop offset="0" stop-color="#0b7d48"/><stop offset="1" stop-color="#45b5b8"/></linearGradient>
<linearGradient id="g155" gradientUnits="userSpaceOnUse" x1="950.5" x2="1248.5" y1="0" y2="0"><stop offset="0" stop-color="#c4b08f"/><stop offset="1" stop-color="#fa776c"/></linearGradient>
<linearGradient id="g156" gradientUnits="userSpaceOnUse" x1="950.5" x2="1248.5" y1="0" y2="0"><stop offset="0" stop-color="#c4b08f"/><stop offset="1" stop-color="#4d90f7"/></linearGradient>
<linearGradient id="g157" gradientUnits="userSpaceOnUse" x1="950.5" x2="1248.5" y1="0" y2="0"><stop offset="0" stop-color="#c4b08f"/><stop offset="1" stop-color="#c4b08f"/></linearGradient>
<linearGradient id="g158" gradientUnits="userSpaceOnUse" x1="950.5" x2="1248.5" y1="0" y2="0"><stop offset="0" stop-color="#c4b08f"/><stop offset="1" stop-color="#0b7d48"/></linearGradient>
<linearGradient id="g159" gradientUnits="userSpaceOnUse" x1="950.5" x2="1248.5" y1="0" y2="0"><stop offset="0" stop-color="#c4b08f"/><stop offset="1" stop-color="#fa7d1e"/></linearGradient>
<linearGradient id="g160" gradientUnits="userSpaceOnUse" x1="950.5" x2="1248.5" y1="0" y2="0"><stop offset="0" stop-color="#c4b08f"/><stop offset="1" stop-color="#8e8e8e"/></linearGradient>
<linearGradient id="g161" gradientUnits="userSpaceOnUse" x1="950.5" x2="1248.5" y1="0" y2="0"><stop offset="0" stop-color="#c4b08f"/><stop offset="1" stop-color="#45b5b8"/></linearGradient>
<linearGradient id="g162" gradientUnits="userSpaceOnUse" x1="950.5" x2="1248.5" y1="0" y2="0"><stop offset="0" stop-color="#fa7d1e"/><stop offset="1" stop-color="#fa776c"/></linearGradient>
<linearGradient id="g163" gradientUnits="userSpaceOnUse" x1="950.5" x2="1248.5" y1="0" y2="0"><stop offset="0" stop-color="#fa7d1e"/><stop offset="1" stop-color="#4d90f7"/></linearGradient>
<linearGradient id="g164" gradientUnits="userSpaceOnUse" x1="950.5" x2="1248.5" y1="0" y2="0"><stop offset="0" stop-color="#fa7d1e"/><stop offset="1" stop-color="#c4b08f"/></linearGradient>
<linearGradient id="g165" gradientUnits="userSpaceOnUse" x1="950.5" x2="1248.5" y1="0" y2="0"><stop offset="0" stop-color="#fa7d1e"/><stop offset="1" stop-color="#0b7d48"/></linearGradient>
<linearGradient id="g166" gradientUnits="userSpaceOnUse" x1="950.5" x2="1248.5" y1="0" y2="0"><stop offset="0" stop-color="#fa7d1e"/><stop offset="1" stop-color="#fa7d1e"/></linearGradient>
<linearGradient id="g167" gradientUnits="userSpaceOnUse" x1="950.5" x2="1248.5" y1="0" y2="0"><stop offset="0" stop-color="#fa7d1e"/><stop offset="1" stop-color="#8e8e8e"/></linearGradient>
<linearGradient id="g168" gradientUnits="userSpaceOnUse" x1="950.5" x2="1248.5" y1="0" y2="0"><stop offset="0" stop-color="#fa7d1e"/><stop offset="1" stop-color="#45b5b8"/></linearGradient>
<linearGradient id="g169" gradientUnits="userSpaceOnUse" x1="950.5" x2="1248.5" y1="0" y2="0"><stop offset="0" stop-color="#8e8e8e"/><stop offset="1" stop-color="#fa776c"/></linearGradient>
<linearGradient id="g170" gradientUnits="userSpaceOnUse" x1="950.5" x2="1248.5" y1="0" y2="0"><stop offset="0" stop-color="#8e8e8e"/><stop offset="1" stop-color="#4d90f7"/></linearGradient>
<linearGradient id="g171" gradientUnits="userSpaceOnUse" x1="950.5" x2="1248.5" y1="0" y2="0"><stop offset="0" stop-color="#8e8e8e"/><stop offset="1" stop-color="#c4b08f"/></linearGradient>
<linearGradient id="g172" gradientUnits="userSpaceOnUse" x1="950.5" x2="1248.5" y1="0" y2="0"><stop offset="0" stop-color="#8e8e8e"/><stop offset="1" stop-color="#0b7d48"/></linearGradient>
<linearGradient id="g173" gradientUnits="userSpaceOnUse" x1="950.5" x2="1248.5" y1="0" y2="0"><stop offset="0" stop-color="#8e8e8e"/><stop offset="1" stop-color="#fa7d1e"/></linearGradient>
<linearGradient id="g174" gradientUnits="userSpaceOnUse" x1="950.5" x2="1248.5" y1="0" y2="0"><stop offset="0" stop-color="#8e8e8e"/><stop offset="1" stop-color="#8e8e8e"/></linearGradient>
<linearGradient id="g175" gradientUnits="userSpaceOnUse" x1="950.5" x2="1248.5" y1="0" y2="0"><stop offset="0" stop-color="#8e8e8e"/><stop offset="1" stop-color="#45b5b8"/></linearGradient>
<linearGradient id="g176" gradientUnits="userSpaceOnUse" x1="950.5" x2="1248.5" y1="0" y2="0"><stop offset="0" stop-color="#45b5b8"/><stop offset="1" stop-color="#fa776c"/></linearGradient>
<linearGradient id="g177" gradientUnits="userSpaceOnUse" x1="950.5" x2="1248.5" y1="0" y2="0"><stop offset="0" stop-color="#45b5b8"/><stop offset="1" stop-color="#4d90f7"/></linearGradient>
<linearGradient id="g178" gradientUnits="userSpaceOnUse" x1="950.5" x2="1248.5" y1="0" y2="0"><stop offset="0" stop-color="#45b5b8"/><stop offset="1" stop-color="#c4b08f"/></linearGradient>
<linearGradient id="g179" gradientUnits="userSpaceOnUse" x1="950.5" x2="1248.5" y1="0" y2="0"><stop offset="0" stop-color="#45b5b8"/><stop offset="1" stop-color="#0b7d48"/></linearGradient>
<linearGradient id="g180" gradientUnits="userSpaceOnUse" x1="950.5" x2="1248.5" y1="0" y2="0"><stop offset="0" stop-color="#45b5b8"/><stop offset="1" stop-color="#fa7d1e"/></linearGradient>
<linearGradient id="g181" gradientUnits="userSpaceOnUse" x1="950.5" x2="1248.5" y1="0" y2="0"><stop offset="0" stop-color="#45b5b8"/><stop offset="1" stop-color="#8e8e8e"/></linearGradient>
<linearGradient id="g182" gradientUnits="userSpaceOnUse" x1="950.5" x2="1248.5" y1="0" y2="0"><stop offset="0" stop-color="#45b5b8"/><stop offset="1" stop-color="#45b5b8"/></linearGradient>
</defs>
<g fill-opacity="0.118">
<path d="M30.0,187.0L47.4,187.2L63.6,187.9L78.8,189.0L93.0,190.4L106.3,192.2L118.8,194.3L130.5,196.6L141.6,199.2L152.0,202.0L161.9,204.8L171.3,207.8L180.4,210.7L189.1,213.6L197.6,216.5L205.9,219.2L214.3,221.8L222.9,224.3L231.7,226.6L240.9,228.8L250.7,230.8L261.1,232.5L272.4,234.0L284.6,235.3L297.9,236.2L312.3,236.8L328.0,237.0L328.0,300.3L310.6,300.1L294.4,299.5L279.2,298.4L265.0,297.0L251.8,295.3L239.3,293.2L227.6,290.9L216.5,288.4L206.1,285.7L196.1,282.9L186.7,280.0L177.7,277.1L168.9,274.3L160.4,271.5L152.0,268.8L143.6,266.3L135.0,263.9L126.2,261.6L117.0,259.5L107.2,257.6L96.8,255.9L85.5,254.4L73.4,253.2L60.1,252.3L45.7,251.7L30.0,251.5Z" fill="url(#g1)"/>
<path d="M30.0,283.0L47.7,283.2L64.2,283.9L79.6,284.9L94.1,286.4L107.7,288.1L120.5,290.2L132.5,292.6L143.8,295.1L154.5,297.9L164.6,300.7L174.2,303.6L183.3,306.5L192.1,309.3L200.5,312.1L208.8,314.7L217.1,317.2L225.4,319.5L234.0,321.7L242.9,323.8L252.4,325.6L262.5,327.3L273.5,328.7L285.4,329.9L298.4,330.8L312.5,331.3L328.0,331.5L328.0,416.3L310.4,416.1L293.9,415.4L278.4,414.4L264.0,413.0L250.4,411.3L237.6,409.2L225.6,406.9L214.2,404.4L203.5,401.8L193.4,399.0L183.8,396.2L174.7,393.4L165.9,390.6L157.5,387.9L149.1,385.3L140.9,382.9L132.5,380.6L124.0,378.5L115.0,376.5L105.5,374.7L95.4,373.1L84.4,371.7L72.6,370.6L59.6,369.7L45.4,369.2L30.0,369.0Z" fill="url(#g9)"/>
<path d="M337.0,237.0L353.6,237.0L369.0,237.1L383.2,237.2L396.5,237.3L408.8,237.5L420.3,237.7L431.2,237.9L441.4,238.1L451.1,238.4L460.3,238.7L469.3,238.9L478.0,239.2L486.6,239.5L495.2,239.8L503.9,240.1L512.7,240.4L521.9,240.6L531.4,240.9L541.4,241.1L552.1,241.3L563.5,241.5L575.6,241.7L588.7,241.8L602.8,241.9L618.0,242.0L634.5,242.0L634.5,306.6L617.9,306.6L602.5,306.5L588.3,306.5L575.0,306.4L562.7,306.3L551.2,306.2L540.3,306.1L530.1,306.0L520.5,305.8L511.2,305.7L502.2,305.5L493.5,305.4L484.9,305.2L476.3,305.0L467.6,304.9L458.8,304.7L449.6,304.6L440.1,304.4L430.0,304.3L419.4,304.2L408.0,304.1L395.9,304.0L382.8,303.9L368.7,303.9L353.5,303.8L337.0,303.8Z" fill="url(#g36)"/>
<path d="M337.0,331.5L353.6,331.5L369.1,331.6L383.4,331.7L396.7,331.9L409.1,332.1L420.7,332.4L431.6,332.7L441.8,333.0L451.6,333.3L460.9,333.7L469.9,334.0L478.6,334.4L487.2,334.8L495.8,335.1L504.4,335.5L513.3,335.9L522.4,336.2L531.9,336.5L541.8,336.9L552.4,337.1L563.7,337.4L575.8,337.6L588.9,337.8L602.9,337.9L618.1,338.0L634.5,338.0L634.5,429.9L617.9,429.9L602.4,429.9L588.1,429.8L574.8,429.7L562.4,429.6L550.8,429.5L540.0,429.4L529.7,429.3L520.0,429.1L510.6,429.0L501.7,428.8L492.9,428.7L484.3,428.5L475.7,428.3L467.0,428.2L458.2,428.0L449.1,427.9L439.6,427.7L429.6,427.6L419.1,427.5L407.8,427.4L395.6,427.3L382.6,427.2L368.6,427.2L353.4,427.1L337.0,427.1Z" fill="url(#g44)"/>
<path d="M337.0,489.7L353.6,489.8L369.1,490.2L383.4,490.8L396.7,491.7L409.1,492.8L420.7,494.0L431.6,495.4L441.8,496.9L451.6,498.6L460.9,500.3L469.9,502.1L478.7,503.9L487.3,505.7L495.9,507.6L504.6,509.4L513.4,511.1L522.5,512.8L532.0,514.4L542.0,515.9L552.6,517.2L563.8,518.4L575.9,519.5L588.9,520.3L603.0,520.9L618.1,521.3L634.5,521.5L634.5,537.2L617.8,537.1L602.4,536.6L588.0,535.9L574.7,535.0L562.3,533.9L550.7,532.5L539.8,531.0L529.5,529.4L519.8,527.6L510.5,525.7L501.5,523.8L492.8,521.8L484.2,519.9L475.6,517.9L467.0,516.0L458.2,514.1L449.1,512.2L439.6,510.5L429.6,508.9L419.0,507.5L407.8,506.2L395.7,505.0L382.6,504.1L368.6,503.4L353.4,503.0L337.0,502.9Z" fill="url(#g61)" fill-opacity=".09"/>
<path d="M643.5,242.0L659.9,242.0L675.1,241.9L689.2,241.8L702.3,241.6L714.4,241.4L725.8,241.1L736.4,240.9L746.4,240.5L755.9,240.2L765.0,239.9L773.9,239.5L782.5,239.2L791.1,238.8L799.8,238.4L808.5,238.0L817.5,237.7L826.8,237.3L836.6,237.0L846.8,236.7L857.7,236.4L869.3,236.1L881.7,235.9L895.1,235.7L909.4,235.6L924.8,235.5L941.5,235.5L941.5,306.6L925.1,306.6L909.9,306.7L895.8,306.8L882.7,306.9L870.6,307.1L859.3,307.3L848.6,307.5L838.6,307.7L829.1,308.0L820.0,308.3L811.1,308.5L802.5,308.8L793.9,309.1L785.2,309.4L776.5,309.7L767.5,310.0L758.2,310.3L748.4,310.6L738.1,310.8L727.3,311.0L715.7,311.2L703.3,311.4L689.9,311.5L675.6,311.6L660.2,311.7L643.5,311.7Z" fill="url(#g85)"/>
<path d="M643.5,338.5L659.9,338.5L675.1,338.4L689.1,338.3L702.2,338.2L714.3,338.0L725.5,337.8L736.1,337.6L746.1,337.4L755.6,337.1L764.7,336.9L773.5,336.6L782.2,336.3L790.8,336.0L799.4,335.7L808.2,335.5L817.2,335.2L826.5,334.9L836.3,334.7L846.6,334.4L857.5,334.2L869.2,334.0L881.6,333.8L895.0,333.7L909.3,333.6L924.8,333.5L941.5,333.5L941.5,430.8L925.1,430.8L909.9,430.9L895.9,431.0L882.8,431.1L870.7,431.3L859.4,431.5L848.9,431.8L838.9,432.1L829.4,432.3L820.3,432.6L811.5,432.9L802.8,433.3L794.2,433.6L785.6,433.9L776.8,434.2L767.8,434.6L758.5,434.9L748.7,435.2L738.4,435.4L727.5,435.7L715.8,435.9L703.4,436.1L690.0,436.2L675.7,436.4L660.2,436.4L643.5,436.5Z" fill="url(#g93)"/>
<path d="M643.5,525.4L660.0,525.4L675.3,525.2L689.5,525.0L702.6,524.7L714.9,524.3L726.3,523.8L737.0,523.3L747.1,522.7L756.7,522.1L765.8,521.5L774.7,520.8L783.4,520.1L792.0,519.4L800.7,518.7L809.4,518.0L818.3,517.4L827.6,516.7L837.2,516.1L847.4,515.5L858.2,515.0L869.7,514.5L882.1,514.2L895.3,513.8L909.5,513.6L924.9,513.4L941.5,513.4L941.5,527.0L925.0,527.0L909.7,527.1L895.5,527.3L882.4,527.6L870.2,527.9L858.8,528.3L848.1,528.7L838.0,529.2L828.4,529.7L819.2,530.3L810.3,530.8L801.6,531.4L793.0,531.9L784.3,532.5L775.6,533.1L766.7,533.6L757.4,534.2L747.7,534.7L737.5,535.2L726.8,535.6L715.2,536.0L702.9,536.3L689.7,536.6L675.4,536.8L660.1,536.9L643.5,536.9Z" fill="url(#g117)" fill-opacity=".09"/>
<path d="M950.5,235.5L966.9,235.5L982.0,235.3L996.0,235.1L1009.0,234.8L1021.1,234.5L1032.3,234.1L1042.9,233.7L1052.8,233.2L1062.3,232.6L1071.3,232.1L1080.1,231.5L1088.8,230.9L1097.3,230.3L1106.0,229.7L1114.8,229.1L1123.8,228.5L1133.2,227.9L1143.0,227.4L1153.3,226.9L1164.3,226.4L1176.0,226.0L1188.5,225.7L1201.9,225.4L1216.3,225.2L1231.8,225.0L1248.5,225.0L1248.5,297.2L1232.1,297.3L1217.0,297.4L1203.0,297.5L1190.0,297.7L1177.9,298.0L1166.7,298.3L1156.2,298.6L1146.2,298.9L1136.8,299.3L1127.7,299.7L1118.9,300.1L1110.2,300.6L1101.7,301.0L1093.0,301.5L1084.2,301.9L1075.2,302.3L1065.8,302.7L1056.0,303.1L1045.6,303.5L1034.7,303.9L1023.0,304.2L1010.5,304.4L997.1,304.6L982.7,304.8L967.2,304.9L950.5,304.9Z" fill="url(#g134)"/>
<path d="M950.5,335.5L966.7,335.4L981.6,335.3L995.4,335.1L1008.1,334.8L1019.9,334.5L1030.9,334.1L1041.2,333.7L1051.0,333.2L1060.2,332.7L1069.1,332.2L1077.8,331.6L1086.4,331.0L1094.9,330.4L1103.6,329.8L1112.5,329.2L1121.7,328.6L1131.2,328.0L1141.2,327.5L1151.8,327.0L1163.0,326.5L1174.9,326.1L1187.6,325.7L1201.3,325.4L1215.9,325.2L1231.6,325.1L1248.5,325.0L1248.5,426.9L1232.3,427.0L1217.4,427.2L1203.6,427.5L1190.8,427.9L1179.0,428.4L1168.0,429.0L1157.7,429.7L1148.0,430.4L1138.7,431.2L1129.8,432.0L1121.2,432.8L1112.6,433.7L1104.1,434.6L1095.4,435.5L1086.6,436.4L1077.4,437.3L1067.9,438.2L1057.8,439.0L1047.3,439.8L1036.1,440.5L1024.2,441.1L1011.4,441.6L997.8,442.1L983.2,442.4L967.4,442.6L950.5,442.7Z" fill="url(#g142)"/>
<path d="M950.5,514.0L967.0,514.0L982.3,513.9L996.5,513.7L1009.7,513.5L1021.9,513.3L1033.4,513.0L1044.1,512.6L1054.2,512.2L1063.8,511.8L1073.0,511.4L1081.9,511.0L1090.6,510.5L1099.2,510.1L1107.8,509.6L1116.6,509.2L1125.5,508.7L1134.7,508.3L1144.4,507.9L1154.5,507.5L1165.3,507.2L1176.8,506.9L1189.1,506.6L1202.3,506.4L1216.6,506.2L1231.9,506.1L1248.5,506.1L1248.5,522.2L1232.0,522.3L1216.7,522.3L1202.5,522.4L1189.3,522.5L1177.1,522.6L1165.7,522.8L1154.9,522.9L1144.8,523.1L1135.2,523.3L1126.0,523.5L1117.1,523.7L1108.4,524.0L1099.8,524.2L1091.2,524.4L1082.4,524.7L1073.5,524.9L1064.2,525.1L1054.6,525.3L1044.4,525.5L1033.7,525.6L1022.2,525.8L1009.9,525.9L996.6,526.0L982.4,526.1L967.1,526.2L950.5,526.2Z" fill="url(#g166)" fill-opacity=".09"/>
<path class="s" d="M30.0,251.5L46.6,251.8L61.9,252.8L76.2,254.4L89.4,256.5L101.7,259.1L113.2,262.1L124.0,265.5L134.2,269.3L143.8,273.3L153.1,277.5L162.0,281.8L170.7,286.3L179.4,290.8L188.0,295.4L196.7,299.8L205.6,304.2L214.8,308.4L224.4,312.3L234.5,316.0L245.2,319.4L256.6,322.4L268.9,325.0L282.0,327.1L296.2,328.7L311.5,329.7L328.0,330.0L328.0,331.5L311.4,331.2L296.1,330.2L281.8,328.6L268.6,326.5L256.3,323.9L244.8,320.9L234.0,317.5L223.8,313.7L214.2,309.7L204.9,305.5L196.0,301.2L187.3,296.7L178.6,292.2L170.0,287.7L161.3,283.2L152.4,278.8L143.2,274.6L133.6,270.7L123.5,267.0L112.8,263.6L101.4,260.6L89.1,258.0L76.0,255.9L61.8,254.3L46.5,253.3L30.0,253.0Z" fill="url(#g2)"/>
<path class="s" d="M30.0,253.0L46.6,253.9L62.0,256.3L76.3,260.3L89.6,265.6L101.9,272.1L113.5,279.6L124.2,288.2L134.4,297.5L144.1,307.4L153.3,317.9L162.3,328.8L171.0,340.0L179.6,351.3L188.2,362.6L196.9,373.7L205.8,384.6L215.0,395.0L224.6,405.0L234.7,414.2L245.4,422.6L256.8,430.1L269.0,436.6L282.2,441.8L296.3,445.7L311.5,448.2L328.0,449.0L328.0,450.5L311.4,449.7L296.0,447.2L281.7,443.3L268.4,438.0L256.1,431.5L244.5,423.9L233.7,415.4L223.6,406.1L213.9,396.1L204.7,385.6L195.7,374.7L187.0,363.5L178.4,352.2L169.8,340.9L161.1,329.8L152.2,318.9L143.0,308.5L133.4,298.5L123.3,289.3L112.6,280.9L101.2,273.4L89.0,266.9L75.8,261.7L61.7,257.8L46.5,255.3L30.0,254.5Z" fill="url(#g3)"/>
<path class="s" d="M30.0,254.5L46.9,255.5L62.6,258.4L77.2,263.0L90.7,269.2L103.2,276.8L114.9,285.7L125.9,295.6L136.1,306.4L145.9,318.0L155.2,330.1L164.1,342.7L172.9,355.6L181.5,368.6L190.1,381.6L198.8,394.4L207.7,406.8L216.8,418.8L226.4,430.1L236.4,440.6L246.9,450.2L258.2,458.7L270.1,466.0L283.0,471.9L296.9,476.3L311.8,479.0L328.0,480.0L328.0,486.0L311.1,485.1L295.4,482.2L280.8,477.5L267.3,471.3L254.7,463.7L243.1,454.9L232.1,444.9L221.8,434.1L212.1,422.5L202.8,410.4L193.8,397.8L185.1,384.9L176.5,371.9L167.9,359.0L159.2,346.2L150.3,333.7L141.2,321.7L131.7,310.4L121.7,299.9L111.1,290.3L99.9,281.8L87.9,274.5L75.0,268.6L61.1,264.2L46.2,261.5L30.0,260.5Z" fill="url(#g4)"/>
<path class="s" d="M30.0,260.5L46.6,261.6L62.0,264.9L76.3,270.2L89.5,277.2L101.9,285.9L113.4,296.0L124.1,307.3L134.3,319.7L144.0,333.0L153.2,347.0L162.1,361.6L170.8,376.5L179.5,391.5L188.1,406.6L196.8,421.4L205.7,436.0L214.9,449.9L224.5,463.2L234.7,475.5L245.4,486.8L256.8,496.8L269.0,505.4L282.1,512.4L296.3,517.6L311.5,520.9L328.0,522.0L328.0,523.1L311.4,522.0L296.0,518.7L281.7,513.4L268.4,506.4L256.1,497.7L244.6,487.6L233.8,476.3L223.7,463.8L214.0,450.5L204.8,436.5L195.9,422.0L187.2,407.1L178.5,392.0L169.9,377.0L161.2,362.1L152.3,347.6L143.1,333.6L133.5,320.4L123.4,308.0L112.7,296.7L101.2,286.7L89.0,278.1L75.9,271.1L61.7,265.9L46.5,262.6L30.0,261.5Z" fill="url(#g5)"/>
<path class="s" d="M30.0,261.5L46.8,262.8L62.3,266.4L76.7,272.3L90.1,280.1L102.5,289.7L114.1,300.8L124.9,313.4L135.1,327.0L144.8,341.7L154.0,357.1L163.0,373.1L171.7,389.5L180.3,406.0L188.9,422.6L197.6,438.9L206.5,454.9L215.7,470.2L225.3,484.7L235.4,498.3L246.1,510.6L257.4,521.6L269.5,530.9L282.6,538.6L296.6,544.2L311.7,547.8L328.0,549.0L328.0,551.9L311.2,550.7L295.7,547.0L281.3,541.2L267.9,533.4L255.5,523.8L243.9,512.6L233.1,500.1L222.9,486.4L213.2,471.8L204.0,456.3L195.0,440.3L186.3,424.0L177.7,407.4L169.1,390.9L160.4,374.5L151.5,358.6L142.3,343.3L132.7,328.8L122.6,315.2L111.9,302.9L100.6,291.9L88.4,282.6L75.4,274.9L61.4,269.3L46.3,265.7L30.0,264.5Z" fill="url(#g6)"/>
<path class="s" d="M30.0,264.5L46.6,265.9L62.0,270.0L76.2,276.5L89.4,285.3L101.7,296.1L113.2,308.6L124.0,322.7L134.1,338.1L143.8,354.6L153.0,372.1L161.9,390.1L170.6,408.7L179.2,427.4L187.9,446.2L196.6,464.7L205.5,482.7L214.7,500.1L224.3,516.6L234.5,532.0L245.2,546.1L256.7,558.6L268.9,569.3L282.1,578.0L296.2,584.5L311.5,588.6L328.0,590.0L328.0,590.6L311.4,589.2L296.0,585.1L281.8,578.5L268.5,569.8L256.2,559.0L244.8,546.5L234.0,532.4L223.9,516.9L214.2,500.4L205.0,483.0L196.1,464.9L187.4,446.4L178.8,427.6L170.1,408.9L161.4,390.4L152.5,372.3L143.3,354.9L133.7,338.4L123.6,323.0L112.8,308.9L101.4,296.4L89.1,285.7L76.0,277.0L61.8,270.5L46.5,266.4L30.0,265.0Z" fill="url(#g7)"/>
<path class="s" d="M30.0,281.0L46.6,281.1L61.9,281.3L76.1,281.7L89.3,282.2L101.6,282.9L113.1,283.6L123.8,284.5L134.0,285.4L143.6,286.4L152.9,287.4L161.8,288.5L170.5,289.6L179.1,290.7L187.7,291.8L196.5,292.9L205.4,294.0L214.6,295.0L224.2,296.0L234.3,296.9L245.1,297.7L256.5,298.5L268.8,299.1L281.9,299.6L296.1,300.0L311.5,300.2L328.0,300.3L328.0,302.3L311.4,302.3L296.1,302.0L281.9,301.6L268.7,301.1L256.4,300.5L244.9,299.7L234.2,298.9L224.0,298.0L214.4,297.0L205.1,296.0L196.2,294.9L187.5,293.8L178.9,292.7L170.3,291.6L161.5,290.4L152.6,289.4L143.4,288.3L133.8,287.4L123.7,286.4L112.9,285.6L101.5,284.9L89.2,284.2L76.1,283.7L61.9,283.3L46.5,283.1L30.0,283.0Z" fill="url(#g8)"/>
<path class="s" d="M30.0,369.0L46.7,369.4L62.2,370.4L76.6,372.0L89.9,374.3L102.4,377.0L114.0,380.2L124.9,383.7L135.2,387.7L145.0,391.9L154.3,396.3L163.3,400.8L172.1,405.5L180.7,410.2L189.3,414.9L198.0,419.5L206.8,424.0L215.9,428.3L225.4,432.4L235.4,436.2L246.0,439.7L257.3,442.7L269.4,445.4L282.4,447.6L296.4,449.2L311.6,450.2L328.0,450.5L328.0,457.7L311.3,457.3L295.8,456.3L281.4,454.6L268.1,452.4L255.6,449.7L244.0,446.5L233.0,442.9L222.8,439.0L213.0,434.8L203.7,430.4L194.7,425.8L185.9,421.1L177.3,416.4L168.7,411.7L160.0,407.1L151.2,402.6L142.1,398.3L132.6,394.2L122.6,390.4L112.0,386.9L100.7,383.8L88.6,381.1L75.6,379.0L61.6,377.4L46.4,376.3L30.0,376.0Z" fill="url(#g10)"/>
<path class="s" d="M30.0,376.0L46.7,376.5L62.1,377.9L76.5,380.1L89.8,383.1L102.2,386.7L113.8,391.0L124.6,395.8L134.9,401.1L144.6,406.7L153.9,412.7L162.8,418.8L171.6,425.1L180.2,431.4L188.8,437.7L197.5,444.0L206.4,450.1L215.5,455.9L225.1,461.5L235.1,466.6L245.7,471.3L257.1,475.5L269.2,479.1L282.3,482.0L296.4,484.2L311.6,485.6L328.0,486.0L328.0,490.1L311.3,489.6L295.9,488.2L281.5,486.0L268.2,483.0L255.8,479.3L244.2,475.1L233.4,470.2L223.1,465.0L213.4,459.3L204.1,453.4L195.2,447.3L186.4,441.0L177.8,434.6L169.2,428.3L160.5,422.1L151.6,416.0L142.5,410.1L132.9,404.6L122.9,399.4L112.3,394.7L100.9,390.5L88.8,387.0L75.7,384.0L61.6,381.8L46.4,380.5L30.0,380.0Z" fill="url(#g11)"/>
<path class="s" d="M30.0,380.0L46.6,380.6L62.0,382.4L76.3,385.3L89.6,389.2L102.0,393.9L113.5,399.5L124.3,405.7L134.5,412.5L144.2,419.8L153.4,427.5L162.4,435.5L171.1,443.6L179.7,451.9L188.3,460.1L197.1,468.2L206.0,476.2L215.1,483.8L224.7,491.0L234.8,497.8L245.5,503.9L256.9,509.4L269.1,514.1L282.2,517.9L296.3,520.7L311.5,522.5L328.0,523.1L328.0,525.4L311.4,524.7L295.9,522.9L281.6,520.1L268.4,516.2L256.0,511.4L244.5,505.9L233.7,499.6L223.5,492.8L213.8,485.5L204.5,477.8L195.6,469.8L186.9,461.6L178.3,453.4L169.7,445.1L161.0,437.0L152.1,429.1L142.9,421.4L133.3,414.2L123.2,407.4L112.5,401.3L101.1,395.8L89.0,391.1L75.8,387.3L61.7,384.4L46.5,382.6L30.0,382.0Z" fill="url(#g12)"/>
<path class="s" d="M30.0,382.0L46.7,382.7L62.2,384.9L76.6,388.3L90.0,393.0L102.5,398.7L114.1,405.3L124.9,412.7L135.2,420.8L144.9,429.5L154.2,438.7L163.1,448.2L171.9,457.8L180.5,467.6L189.1,477.4L197.8,487.1L206.7,496.4L215.8,505.5L225.4,514.0L235.4,522.0L246.0,529.3L257.3,535.7L269.5,541.2L282.5,545.7L296.5,549.1L311.6,551.2L328.0,551.9L328.0,555.8L311.3,555.1L295.8,552.9L281.4,549.5L268.0,544.9L255.6,539.2L243.9,532.6L233.1,525.1L222.8,517.0L213.1,508.3L203.8,499.2L194.9,489.7L186.1,480.0L177.5,470.2L168.9,460.5L160.2,450.8L151.3,441.4L142.2,432.4L132.6,423.9L122.6,415.9L112.0,408.7L100.6,402.2L88.5,396.7L75.5,392.2L61.5,388.8L46.4,386.7L30.0,386.0Z" fill="url(#g13)"/>
<path class="s" d="M30.0,386.0L46.6,386.9L62.0,389.5L76.3,393.6L89.5,399.1L101.8,405.9L113.3,413.8L124.1,422.6L134.3,432.3L143.9,442.7L153.2,453.7L162.1,465.1L170.8,476.7L179.4,488.5L188.1,500.3L196.8,511.9L205.7,523.3L214.9,534.2L224.5,544.6L234.6,554.2L245.3,563.0L256.8,570.9L269.0,577.6L282.1,583.1L296.3,587.2L311.5,589.7L328.0,590.6L328.0,591.8L311.4,590.9L296.0,588.3L281.7,584.2L268.5,578.7L256.1,571.9L244.6,564.0L233.9,555.1L223.7,545.4L214.0,535.0L204.8,524.0L195.9,512.6L187.2,500.9L178.6,489.2L170.0,477.4L161.2,465.7L152.3,454.4L143.1,443.4L133.5,433.1L123.4,423.4L112.7,414.6L101.3,406.7L89.1,400.0L75.9,394.5L61.8,390.4L46.5,387.9L30.0,387.0Z" fill="url(#g14)"/>
<path class="s" d="M30.0,561.0L46.4,559.9L61.6,556.8L75.7,551.9L88.8,545.2L100.9,537.0L112.3,527.4L123.0,516.7L133.1,504.9L142.7,492.2L151.9,478.8L160.8,465.0L169.5,450.7L178.1,436.3L186.8,421.9L195.5,407.7L204.4,393.7L213.7,380.3L223.3,367.6L233.5,355.7L244.3,344.8L255.8,335.1L268.2,326.8L281.5,320.0L295.9,314.9L311.3,311.8L328.0,310.7L328.0,312.7L311.6,313.8L296.4,316.9L282.3,321.8L269.2,328.5L257.1,336.7L245.7,346.3L235.0,357.0L224.9,368.8L215.3,381.5L206.1,394.8L197.2,408.7L188.5,423.0L179.9,437.4L171.2,451.8L162.5,466.0L153.6,480.0L144.3,493.4L134.7,506.1L124.5,518.0L113.7,528.9L102.2,538.6L89.8,546.9L76.5,553.7L62.1,558.7L46.7,561.9L30.0,563.0Z" fill="url(#g22)"/>
<path class="s" d="M30.0,563.0L46.4,562.4L61.7,560.7L75.7,558.0L88.8,554.4L101.0,550.0L112.3,544.8L123.0,539.0L133.1,532.7L142.6,525.8L151.8,518.6L160.7,511.1L169.4,503.4L178.0,495.6L186.6,487.8L195.3,480.1L204.3,472.5L213.6,465.2L223.3,458.3L233.5,451.8L244.3,445.9L255.9,440.7L268.3,436.1L281.6,432.5L295.9,429.7L311.3,428.0L328.0,427.4L328.0,430.5L311.6,431.1L296.4,432.7L282.3,435.4L269.2,439.0L257.0,443.5L245.7,448.6L235.0,454.4L224.9,460.8L215.4,467.6L206.2,474.9L197.3,482.4L188.6,490.0L180.0,497.8L171.4,505.7L162.7,513.4L153.7,520.9L144.4,528.2L134.7,535.1L124.5,541.6L113.7,547.5L102.1,552.8L89.7,557.3L76.4,561.0L62.1,563.7L46.7,565.4L30.0,566.0Z" fill="url(#g23)"/>
<path class="s" d="M30.0,566.0L46.5,565.6L61.8,564.3L76.0,562.2L89.2,559.4L101.4,556.0L112.8,552.0L123.6,547.6L133.7,542.7L143.3,537.4L152.5,531.9L161.4,526.2L170.1,520.3L178.7,514.3L187.3,508.4L196.0,502.5L205.0,496.7L214.2,491.2L223.9,485.9L234.0,481.0L244.8,476.5L256.3,472.5L268.6,469.1L281.8,466.3L296.1,464.2L311.4,462.9L328.0,462.5L328.0,463.5L311.5,463.9L296.2,465.2L282.0,467.3L268.8,470.1L256.6,473.5L245.2,477.4L234.4,481.9L224.3,486.8L214.7,492.0L205.5,497.6L196.6,503.3L187.9,509.2L179.3,515.2L170.7,521.1L162.0,527.0L153.0,532.8L143.8,538.3L134.1,543.6L124.0,548.5L113.2,553.0L101.7,557.0L89.4,560.4L76.2,563.2L61.9,565.3L46.6,566.6L30.0,567.0Z" fill="url(#g24)"/>
<path class="s" d="M30.0,567.0L46.5,566.7L61.8,565.9L75.9,564.6L89.0,562.8L101.3,560.6L112.7,558.1L123.3,555.3L133.4,552.2L143.0,548.8L152.2,545.3L161.1,541.7L169.8,537.9L178.4,534.1L187.0,530.3L195.7,526.5L204.7,522.9L214.0,519.3L223.6,516.0L233.8,512.8L244.6,509.9L256.2,507.4L268.5,505.2L281.7,503.4L296.0,502.1L311.4,501.3L328.0,501.0L328.0,504.0L311.5,504.3L296.2,505.1L282.1,506.4L269.0,508.2L256.7,510.3L245.3,512.9L234.7,515.7L224.6,518.8L215.0,522.2L205.8,525.7L196.9,529.3L188.2,533.1L179.6,536.9L171.0,540.7L162.3,544.4L153.3,548.1L144.0,551.7L134.4,555.0L124.2,558.2L113.4,561.0L101.8,563.6L89.5,565.8L76.3,567.6L62.0,568.9L46.6,569.7L30.0,570.0Z" fill="url(#g25)"/>
<path class="s" d="M30.0,570.0L46.5,569.8L61.8,569.3L75.9,568.4L89.1,567.3L101.3,565.9L112.7,564.2L123.4,562.4L133.5,560.4L143.1,558.2L152.2,556.0L161.1,553.6L169.8,551.2L178.4,548.7L187.0,546.3L195.8,543.8L204.7,541.4L214.0,539.2L223.6,537.0L233.8,534.9L244.6,533.1L256.2,531.4L268.5,530.0L281.8,528.9L296.0,528.0L311.4,527.5L328.0,527.3L328.0,531.8L311.5,532.0L296.2,532.5L282.1,533.3L268.9,534.5L256.7,535.8L245.3,537.5L234.6,539.3L224.6,541.3L215.0,543.4L205.8,545.6L196.9,548.0L188.2,550.4L179.6,552.8L171.0,555.2L162.2,557.6L153.3,560.0L144.0,562.3L134.3,564.4L124.1,566.4L113.3,568.3L101.8,569.9L89.5,571.3L76.2,572.4L62.0,573.3L46.6,573.8L30.0,574.0Z" fill="url(#g26)"/>
<path class="s" d="M30.0,574.0L46.5,574.0L61.9,573.9L76.1,573.9L89.3,573.7L101.5,573.6L113.0,573.5L123.7,573.3L133.9,573.1L143.5,572.9L152.7,572.7L161.6,572.5L170.4,572.3L179.0,572.0L187.6,571.8L196.3,571.6L205.2,571.4L214.4,571.2L224.1,571.0L234.2,570.8L245.0,570.6L256.4,570.5L268.7,570.3L281.9,570.2L296.1,570.1L311.4,570.1L328.0,570.1L328.0,572.5L311.5,572.5L296.1,572.6L281.9,572.7L268.7,572.8L256.5,572.9L245.0,573.1L234.3,573.2L224.1,573.4L214.5,573.6L205.3,573.8L196.4,574.0L187.6,574.3L179.0,574.5L170.4,574.7L161.7,575.0L152.8,575.2L143.6,575.4L133.9,575.6L123.8,575.8L113.0,576.0L101.6,576.1L89.3,576.2L76.1,576.4L61.9,576.4L46.6,576.5L30.0,576.5Z" fill="url(#g27)"/>
<path class="s" d="M30.0,576.5L46.6,576.6L61.9,576.8L76.1,577.1L89.3,577.6L101.6,578.1L113.0,578.7L123.8,579.5L133.9,580.2L143.6,581.1L152.8,582.0L161.7,582.9L170.4,583.8L179.0,584.8L187.6,585.7L196.4,586.7L205.3,587.6L214.5,588.5L224.1,589.3L234.3,590.1L245.0,590.8L256.5,591.5L268.7,592.0L281.9,592.4L296.1,592.8L311.5,593.0L328.0,593.1L328.0,593.6L311.4,593.6L296.1,593.4L281.9,593.0L268.7,592.6L256.4,592.0L245.0,591.4L234.2,590.7L224.1,589.9L214.4,589.0L205.2,588.2L196.3,587.2L187.6,586.3L179.0,585.3L170.4,584.4L161.6,583.4L152.7,582.5L143.5,581.6L133.9,580.8L123.7,580.0L113.0,579.2L101.5,578.6L89.3,578.1L76.1,577.6L61.9,577.3L46.5,577.1L30.0,577.0Z" fill="url(#g28)"/>
<path class="s" d="M30.0,594.0L46.5,592.8L61.8,589.3L76.0,583.6L89.2,576.1L101.5,566.8L112.9,556.0L123.6,543.9L133.8,530.6L143.4,516.3L152.6,501.2L161.5,485.6L170.3,469.6L178.9,453.4L187.5,437.2L196.2,421.2L205.1,405.6L214.3,390.6L224.0,376.3L234.1,362.9L244.9,350.8L256.4,339.9L268.6,330.6L281.9,323.1L296.1,317.4L311.4,313.9L328.0,312.7L328.0,313.0L311.5,314.2L296.2,317.7L282.0,323.4L268.8,330.9L256.5,340.2L245.1,351.0L234.4,363.1L224.2,376.4L214.6,390.7L205.4,405.8L196.5,421.4L187.7,437.4L179.1,453.6L170.5,469.8L161.8,485.8L152.9,501.4L143.7,516.4L134.0,530.7L123.9,544.1L113.1,556.2L101.6,567.1L89.4,576.3L76.1,583.9L61.9,589.6L46.6,593.1L30.0,594.3Z" fill="url(#g29)"/>
<path class="s" d="M30.0,594.3L46.5,593.6L61.7,591.6L75.9,588.3L89.0,583.9L101.2,578.5L112.6,572.3L123.3,565.2L133.4,557.5L143.0,549.2L152.2,540.5L161.1,531.4L169.8,522.1L178.4,512.6L187.1,503.2L195.8,493.9L204.7,484.8L214.0,476.0L223.6,467.6L233.8,459.8L244.6,452.7L256.1,446.4L268.5,441.0L281.7,436.5L296.0,433.2L311.4,431.2L328.0,430.5L328.0,432.0L311.5,432.7L296.3,434.7L282.1,438.0L269.0,442.4L256.8,447.8L245.4,454.0L234.7,461.1L224.6,468.8L215.0,477.1L205.8,485.8L196.9,494.9L188.2,504.2L179.6,513.7L170.9,523.1L162.2,532.4L153.3,541.5L144.0,550.3L134.4,558.7L124.2,566.4L113.4,573.5L101.9,579.9L89.5,585.3L76.3,589.7L62.0,593.0L46.6,595.1L30.0,595.8Z" fill="url(#g30)"/>
<path class="s" d="M30.0,595.8L46.5,595.2L61.8,593.6L76.0,590.9L89.2,587.4L101.5,583.0L112.9,577.9L123.6,572.2L133.8,566.0L143.4,559.3L152.6,552.2L161.5,544.9L170.2,537.3L178.8,529.7L187.4,522.1L196.2,514.6L205.1,507.2L214.3,500.1L224.0,493.4L234.1,487.1L244.9,481.4L256.4,476.3L268.6,471.9L281.9,468.4L296.1,465.7L311.4,464.1L328.0,463.5L328.0,464.0L311.5,464.6L296.2,466.2L282.0,468.9L268.8,472.4L256.5,476.8L245.1,481.9L234.4,487.6L224.2,493.8L214.6,500.5L205.4,507.6L196.5,514.9L187.8,522.5L179.2,530.1L170.6,537.7L161.8,545.2L152.9,552.6L143.7,559.7L134.0,566.4L123.9,572.7L113.1,578.4L101.6,583.5L89.3,587.9L76.1,591.4L61.9,594.1L46.6,595.7L30.0,596.3Z" fill="url(#g31)"/>
<path class="s" d="M30.0,596.3L46.5,595.9L61.8,594.7L76.0,592.9L89.2,590.4L101.4,587.4L112.8,583.8L123.6,579.9L133.7,575.5L143.3,570.8L152.5,565.9L161.4,560.8L170.1,555.5L178.7,550.2L187.4,544.9L196.1,539.6L205.0,534.5L214.2,529.6L223.9,524.9L234.1,520.5L244.8,516.5L256.3,512.9L268.6,509.9L281.8,507.4L296.1,505.5L311.4,504.4L328.0,504.0L328.0,505.0L311.5,505.4L296.2,506.6L282.0,508.4L268.8,510.9L256.6,513.9L245.2,517.5L234.4,521.4L224.3,525.8L214.7,530.5L205.5,535.4L196.6,540.5L187.9,545.8L179.3,551.1L170.6,556.4L161.9,561.6L153.0,566.8L143.8,571.7L134.1,576.4L123.9,580.8L113.2,584.8L101.7,588.4L89.4,591.4L76.2,593.9L61.9,595.7L46.6,596.9L30.0,597.3Z" fill="url(#g32)"/>
<path class="s" d="M30.0,597.3L46.5,597.0L61.9,596.2L76.1,594.9L89.3,593.1L101.5,591.0L113.0,588.4L123.7,585.6L133.9,582.5L143.5,579.2L152.7,575.7L161.6,572.0L170.3,568.3L179.0,564.5L187.6,560.8L196.3,557.0L205.2,553.4L214.4,549.9L224.1,546.6L234.2,543.5L245.0,540.6L256.4,538.1L268.7,536.0L281.9,534.2L296.1,532.9L311.4,532.1L328.0,531.8L328.0,532.0L311.5,532.3L296.1,533.1L281.9,534.4L268.7,536.2L256.5,538.3L245.0,540.9L234.3,543.7L224.1,546.8L214.5,550.1L205.3,553.6L196.4,557.2L187.7,561.0L179.0,564.7L170.4,568.5L161.7,572.2L152.8,575.9L143.6,579.4L133.9,582.7L123.8,585.8L113.0,588.6L101.6,591.2L89.3,593.3L76.1,595.1L61.9,596.4L46.6,597.2L30.0,597.5Z" fill="url(#g33)"/>
<path class="s" d="M30.0,597.5L46.5,597.4L61.9,597.1L76.1,596.6L89.3,595.9L101.5,595.1L113.0,594.1L123.7,593.0L133.9,591.9L143.5,590.6L152.7,589.3L161.6,587.9L170.3,586.4L179.0,585.0L187.6,583.6L196.3,582.1L205.2,580.8L214.4,579.4L224.1,578.2L234.2,577.0L245.0,575.9L256.4,574.9L268.7,574.1L281.9,573.4L296.1,572.9L311.4,572.6L328.0,572.5L328.0,573.0L311.5,573.1L296.1,573.4L281.9,573.9L268.7,574.6L256.5,575.4L245.0,576.4L234.3,577.5L224.1,578.6L214.5,579.9L205.3,581.2L196.4,582.6L187.7,584.1L179.0,585.5L170.4,586.9L161.7,588.4L152.8,589.7L143.6,591.1L133.9,592.4L123.8,593.5L113.0,594.6L101.6,595.6L89.3,596.4L76.1,597.1L61.9,597.6L46.6,597.9L30.0,598.0Z" fill="url(#g34)"/>
<path class="s" d="M30.0,598.0L46.5,598.0L61.9,597.9L76.1,597.8L89.3,597.7L101.5,597.6L113.0,597.4L123.7,597.2L133.9,597.0L143.5,596.8L152.7,596.6L161.6,596.3L170.4,596.1L179.0,595.8L187.6,595.6L196.3,595.3L205.2,595.1L214.4,594.9L224.1,594.6L234.2,594.4L245.0,594.2L256.4,594.1L268.7,593.9L281.9,593.8L296.1,593.7L311.4,593.7L328.0,593.6L328.0,596.0L311.5,596.0L296.1,596.1L281.9,596.1L268.7,596.3L256.5,596.4L245.0,596.5L234.3,596.7L224.1,596.9L214.5,597.1L205.3,597.3L196.4,597.5L187.6,597.8L179.0,598.0L170.4,598.2L161.7,598.5L152.8,598.7L143.6,598.9L133.9,599.1L123.8,599.3L113.0,599.5L101.6,599.6L89.3,599.7L76.1,599.9L61.9,599.9L46.6,600.0L30.0,600.0Z" fill="url(#g35)"/>
<path class="s" d="M337.0,304.0L353.5,304.1L368.8,304.5L383.0,305.2L396.2,306.1L408.5,307.1L419.9,308.4L430.7,309.8L440.8,311.4L450.4,313.0L459.7,314.8L468.6,316.6L477.3,318.4L485.9,320.3L494.5,322.2L503.2,324.1L512.1,325.9L521.3,327.6L530.9,329.3L541.0,330.8L551.7,332.2L563.1,333.5L575.4,334.6L588.5,335.4L602.7,336.1L618.0,336.5L634.5,336.7L634.5,337.9L618.0,337.7L602.7,337.3L588.5,336.7L575.3,335.8L563.0,334.7L551.6,333.4L540.8,332.0L530.7,330.5L521.1,328.8L511.8,327.1L502.9,325.2L494.2,323.4L485.6,321.5L477.0,319.6L468.3,317.8L459.4,315.9L450.2,314.2L440.6,312.5L430.5,311.0L419.8,309.6L408.4,308.3L396.1,307.3L383.0,306.4L368.8,305.7L353.5,305.3L337.0,305.2Z" fill="url(#g37)"/>
<path class="s" d="M337.0,305.4L353.5,306.1L368.9,308.0L383.1,311.2L396.2,315.5L408.5,320.7L420.0,326.9L430.7,333.7L440.9,341.2L450.5,349.3L459.7,357.8L468.6,366.6L477.3,375.6L485.9,384.8L494.5,393.9L503.2,402.9L512.1,411.8L521.3,420.2L530.9,428.3L541.0,435.8L551.7,442.6L563.2,448.7L575.4,454.0L588.6,458.2L602.7,461.4L618.0,463.4L634.5,464.1L634.5,464.5L618.0,463.8L602.6,461.8L588.4,458.7L575.2,454.4L563.0,449.1L551.5,443.0L540.8,436.2L530.6,428.6L521.0,420.6L511.8,412.1L502.9,403.3L494.2,394.2L485.6,385.1L477.0,375.9L468.3,366.9L459.4,358.1L450.2,349.6L440.6,341.6L430.5,334.1L419.8,327.2L408.3,321.1L396.1,315.9L383.0,311.6L368.8,308.4L353.5,306.5L337.0,305.8Z" fill="url(#g38)"/>
<path class="s" d="M337.0,305.9L353.6,306.7L368.9,309.0L383.1,312.8L396.3,317.8L408.6,323.9L420.1,331.0L430.9,339.1L441.0,347.8L450.6,357.3L459.9,367.2L468.8,377.5L477.5,388.0L486.1,398.7L494.7,409.3L503.4,419.9L512.3,430.1L521.5,440.0L531.1,449.4L541.2,458.2L551.9,466.2L563.3,473.3L575.5,479.3L588.6,484.3L602.8,488.0L618.0,490.3L634.5,491.1L634.5,492.0L617.9,491.2L602.6,488.9L588.4,485.1L575.1,480.2L562.9,474.0L551.4,466.9L540.6,458.8L530.5,450.1L520.9,440.6L511.6,430.7L502.7,420.4L494.0,409.9L485.4,399.2L476.8,388.5L468.1,378.0L459.2,367.7L450.0,357.8L440.4,348.4L430.3,339.7L419.6,331.7L408.2,324.6L396.0,318.5L382.9,313.5L368.7,309.8L353.5,307.5L337.0,306.7Z" fill="url(#g39)"/>
<path class="s" d="M337.0,307.1L353.6,308.0L369.1,310.6L383.3,314.9L396.6,320.6L409.0,327.6L420.5,335.7L431.3,344.8L441.5,354.9L451.1,365.6L460.4,376.9L469.3,388.6L478.0,400.5L486.7,412.7L495.3,424.8L504.0,436.7L512.8,448.4L522.0,459.6L531.6,470.2L541.7,480.1L552.4,489.1L563.7,497.2L575.9,504.0L588.9,509.6L603.0,513.8L618.1,516.4L634.5,517.3L634.5,519.7L617.8,518.8L602.4,516.1L588.1,511.9L574.8,506.2L562.4,499.2L550.9,491.0L540.1,481.8L529.9,471.8L520.3,461.1L511.1,449.8L502.1,438.1L493.4,426.1L484.8,413.9L476.3,401.8L467.6,389.8L458.7,378.2L449.5,366.9L440.0,356.3L429.9,346.4L419.2,337.3L407.9,329.3L395.7,322.4L382.7,316.8L368.6,312.6L353.4,310.0L337.0,309.1Z" fill="url(#g40)"/>
<path class="s" d="M337.0,309.5L353.6,310.5L369.0,313.6L383.2,318.6L396.5,325.3L408.8,333.5L420.3,343.0L431.0,353.8L441.2,365.5L450.8,378.1L460.1,391.3L469.0,405.0L477.7,419.1L486.3,433.4L494.9,447.6L503.6,461.6L512.5,475.4L521.7,488.6L531.3,501.1L541.4,512.7L552.0,523.4L563.4,532.9L575.6,541.0L588.7,547.6L602.8,552.5L618.1,555.6L634.5,556.7L634.5,557.9L617.9,556.8L602.5,553.7L588.2,548.7L575.0,542.1L562.7,533.9L551.2,524.3L540.4,513.6L530.3,501.9L520.7,489.3L511.4,476.0L502.5,462.3L493.8,448.2L485.2,434.0L476.6,419.8L467.9,405.7L459.0,392.0L449.9,378.8L440.3,366.3L430.2,354.6L419.5,343.9L408.1,334.5L395.9,326.3L382.8,319.7L368.7,314.8L353.4,311.7L337.0,310.7Z" fill="url(#g41)"/>
<path class="s" d="M337.0,310.8L353.5,312.0L368.8,315.6L383.0,321.3L396.2,328.9L408.5,338.2L419.9,349.1L430.7,361.3L440.8,374.7L450.4,389.0L459.6,404.2L468.5,419.9L477.2,435.9L485.8,452.2L494.4,468.5L503.1,484.6L512.0,500.3L521.2,515.4L530.8,529.7L541.0,543.1L551.7,555.3L563.1,566.2L575.4,575.5L588.5,583.1L602.7,588.8L618.0,592.3L634.5,593.5L634.5,593.7L618.0,592.5L602.7,588.9L588.5,583.2L575.3,575.7L563.0,566.3L551.6,555.4L540.8,543.2L530.7,529.8L521.1,515.5L511.9,500.4L503.0,484.7L494.3,468.6L485.7,452.3L477.1,436.0L468.4,419.9L459.5,404.2L450.3,389.1L440.7,374.8L430.5,361.4L419.8,349.2L408.4,338.3L396.1,329.0L383.0,321.4L368.8,315.7L353.5,312.2L337.0,311.0Z" fill="url(#g42)"/>
<path class="s" d="M337.0,330.1L353.5,330.0L368.8,329.8L383.0,329.3L396.1,328.7L408.4,327.9L419.8,327.0L430.5,326.0L440.7,324.9L450.3,323.7L459.5,322.4L468.4,321.1L477.1,319.8L485.7,318.4L494.3,317.1L503.0,315.8L511.9,314.5L521.1,313.2L530.7,312.0L540.8,310.9L551.6,309.9L563.0,309.0L575.3,308.2L588.5,307.6L602.7,307.1L618.0,306.8L634.5,306.7L634.5,307.9L618.0,308.0L602.7,308.3L588.5,308.8L575.4,309.4L563.1,310.2L551.7,311.1L541.0,312.1L530.8,313.2L521.2,314.4L512.0,315.7L503.1,317.0L494.4,318.3L485.8,319.6L477.2,321.0L468.5,322.3L459.6,323.6L450.4,324.9L440.8,326.1L430.7,327.2L419.9,328.2L408.5,329.1L396.2,329.9L383.0,330.5L368.8,331.0L353.5,331.2L337.0,331.3Z" fill="url(#g43)"/>
<path class="s" d="M337.0,427.2L353.5,427.4L368.8,427.9L383.0,428.6L396.2,429.6L408.5,430.8L419.9,432.3L430.7,433.9L440.8,435.7L450.4,437.6L459.6,439.6L468.6,441.7L477.3,443.8L485.9,446.0L494.5,448.1L503.2,450.3L512.1,452.3L521.3,454.3L530.9,456.2L541.0,458.0L551.7,459.6L563.1,461.1L575.4,462.3L588.5,463.3L602.7,464.1L618.0,464.5L634.5,464.7L634.5,465.6L618.0,465.5L602.7,465.0L588.5,464.2L575.3,463.2L563.0,462.0L551.6,460.5L540.8,458.9L530.7,457.1L521.1,455.2L511.9,453.2L502.9,451.1L494.2,449.0L485.6,446.8L477.0,444.6L468.4,442.5L459.5,440.4L450.3,438.4L440.6,436.5L430.5,434.7L419.8,433.1L408.4,431.7L396.1,430.4L383.0,429.4L368.8,428.6L353.5,428.2L337.0,428.0Z" fill="url(#g45)"/>
<path class="s" d="M337.0,428.2L353.5,428.5L368.8,429.3L383.0,430.5L396.2,432.3L408.5,434.4L419.9,436.8L430.7,439.6L440.8,442.6L450.4,445.9L459.7,449.3L468.6,452.9L477.3,456.5L485.9,460.2L494.5,463.9L503.2,467.5L512.1,471.1L521.3,474.5L530.9,477.7L541.0,480.8L551.7,483.5L563.1,486.0L575.4,488.1L588.5,489.8L602.7,491.1L618.0,491.9L634.5,492.2L634.5,492.8L618.0,492.5L602.7,491.7L588.5,490.4L575.3,488.7L563.0,486.6L551.6,484.1L540.8,481.4L530.7,478.3L521.1,475.1L511.8,471.6L502.9,468.1L494.2,464.4L485.6,460.7L477.0,457.1L468.3,453.4L459.4,449.9L450.2,446.4L440.6,443.2L430.5,440.2L419.8,437.4L408.4,434.9L396.1,432.8L383.0,431.1L368.8,429.8L353.5,429.0L337.0,428.7Z" fill="url(#g46)"/>
<path class="s" d="M337.0,428.9L353.5,429.3L368.9,430.4L383.0,432.2L396.2,434.7L408.5,437.7L420.0,441.2L430.7,445.2L440.8,449.5L450.5,454.1L459.7,459.0L468.6,464.1L477.3,469.3L485.9,474.5L494.5,479.8L503.2,485.0L512.1,490.0L521.3,494.9L530.9,499.5L541.0,503.9L551.7,507.8L563.2,511.3L575.4,514.3L588.5,516.8L602.7,518.6L618.0,519.7L634.5,520.1L634.5,520.8L618.0,520.4L602.6,519.2L588.4,517.4L575.3,515.0L563.0,511.9L551.5,508.4L540.8,504.5L530.6,500.1L521.0,495.5L511.8,490.6L502.9,485.5L494.2,480.3L485.6,475.1L477.0,469.8L468.3,464.6L459.4,459.5L450.2,454.7L440.6,450.0L430.5,445.7L419.8,441.8L408.4,438.3L396.1,435.3L383.0,432.8L368.8,431.0L353.5,429.8L337.0,429.4Z" fill="url(#g47)"/>
<path class="s" d="M337.0,429.7L353.6,430.2L368.9,431.8L383.1,434.4L396.3,437.9L408.6,442.1L420.1,447.1L430.9,452.7L441.1,458.8L450.7,465.3L459.9,472.2L468.8,479.4L477.5,486.7L486.1,494.1L494.7,501.5L503.4,508.8L512.3,515.9L521.5,522.8L531.1,529.3L541.2,535.4L551.9,540.9L563.3,545.8L575.5,550.1L588.6,553.5L602.8,556.1L618.0,557.7L634.5,558.2L634.5,559.5L617.9,558.9L602.6,557.3L588.4,554.7L575.1,551.2L562.8,547.0L551.4,542.0L540.6,536.4L530.4,530.3L520.8,523.8L511.6,516.9L502.7,509.7L494.0,502.4L485.4,495.0L476.8,487.6L468.1,480.3L459.2,473.2L450.0,466.3L440.4,459.8L430.3,453.7L419.6,448.2L408.2,443.3L396.0,439.0L382.9,435.6L368.7,433.0L353.5,431.4L337.0,430.9Z" fill="url(#g48)"/>
<path class="s" d="M337.0,431.1L353.6,431.8L368.9,433.8L383.1,437.1L396.3,441.5L408.6,446.9L420.1,453.2L430.8,460.2L441.0,467.9L450.6,476.2L459.8,484.9L468.7,494.0L477.4,503.2L486.0,512.6L494.6,521.9L503.3,531.2L512.2,540.2L521.4,548.9L531.0,557.2L541.1,564.8L551.8,571.9L563.2,578.1L575.5,583.5L588.6,587.8L602.7,591.1L618.0,593.1L634.5,593.8L634.5,594.6L617.9,593.9L602.6,591.9L588.4,588.6L575.2,584.2L562.9,578.8L551.4,572.5L540.7,565.5L530.5,557.8L520.9,549.5L511.7,540.8L502.8,531.8L494.1,522.5L485.5,513.1L476.9,503.8L468.2,494.5L459.3,485.5L450.1,476.8L440.5,468.5L430.4,460.9L419.7,453.8L408.3,447.6L396.0,442.2L382.9,437.9L368.8,434.6L353.5,432.6L337.0,431.9Z" fill="url(#g49)"/>
<path class="s" d="M337.0,449.2L353.5,448.5L368.7,446.8L382.9,444.0L396.0,440.2L408.2,435.6L419.6,430.2L430.3,424.1L440.4,417.5L450.0,410.3L459.2,402.8L468.0,395.0L476.7,387.0L485.3,378.9L493.9,370.8L502.6,362.7L511.6,354.9L520.8,347.3L530.4,340.2L540.6,333.5L551.3,327.4L562.8,321.9L575.1,317.3L588.4,313.5L602.6,310.6L617.9,308.9L634.5,308.2L634.5,309.5L618.0,310.1L602.8,311.8L588.6,314.6L575.5,318.4L563.3,323.0L551.9,328.4L541.2,334.5L531.1,341.2L521.5,348.3L512.3,355.8L503.5,363.6L494.8,371.6L486.2,379.8L477.6,387.9L468.9,395.9L459.9,403.7L450.7,411.3L441.1,418.5L430.9,425.2L420.2,431.3L408.7,436.7L396.4,441.4L383.2,445.2L368.9,448.0L353.6,449.8L337.0,450.4Z" fill="url(#g50)"/>
<path class="s" d="M337.0,451.1L353.5,451.0L368.8,450.7L382.9,450.3L396.1,449.7L408.3,449.1L419.7,448.3L430.4,447.4L440.5,446.4L450.1,445.4L459.3,444.3L468.2,443.1L476.9,441.9L485.5,440.8L494.1,439.6L502.8,438.4L511.7,437.2L520.9,436.1L530.6,435.1L540.7,434.1L551.5,433.2L562.9,432.4L575.2,431.7L588.4,431.2L602.6,430.8L618.0,430.5L634.5,430.4L634.5,434.4L618.0,434.5L602.7,434.8L588.6,435.2L575.4,435.8L563.2,436.4L551.8,437.2L541.1,438.1L531.0,439.1L521.4,440.2L512.2,441.3L503.3,442.4L494.6,443.6L486.0,444.8L477.4,446.0L468.7,447.2L459.8,448.3L450.6,449.4L440.9,450.5L430.8,451.5L420.0,452.4L408.6,453.2L396.3,453.8L383.1,454.4L368.9,454.8L353.5,455.1L337.0,455.2Z" fill="url(#g51)"/>
<path class="s" d="M337.0,456.2L353.5,456.2L368.8,456.4L383.0,456.6L396.2,456.8L408.5,457.2L420.0,457.6L430.7,458.0L440.8,458.5L450.5,459.0L459.7,459.5L468.6,460.1L477.3,460.7L485.9,461.3L494.5,461.8L503.2,462.4L512.1,463.0L521.3,463.5L530.9,464.0L541.0,464.5L551.7,465.0L563.1,465.3L575.4,465.7L588.5,466.0L602.7,466.2L618.0,466.3L634.5,466.3L634.5,471.0L618.0,470.9L602.7,470.8L588.5,470.6L575.3,470.3L563.0,469.9L551.5,469.5L540.8,469.1L530.7,468.6L521.0,468.0L511.8,467.4L502.9,466.9L494.2,466.2L485.6,465.6L477.0,465.0L468.3,464.4L459.4,463.8L450.2,463.2L440.6,462.7L430.5,462.2L419.8,461.7L408.4,461.3L396.1,461.0L383.0,460.7L368.8,460.5L353.5,460.3L337.0,460.3Z" fill="url(#g52)"/>
<path class="s" d="M337.0,460.9L353.5,461.1L368.8,461.5L383.0,462.1L396.2,463.0L408.5,464.0L419.9,465.3L430.7,466.6L440.8,468.2L450.4,469.8L459.6,471.5L468.5,473.3L477.2,475.1L485.8,477.0L494.4,478.8L503.1,480.6L512.0,482.4L521.2,484.1L530.8,485.8L541.0,487.3L551.7,488.7L563.1,489.9L575.4,490.9L588.5,491.8L602.7,492.4L618.0,492.8L634.5,493.0L634.5,493.9L618.0,493.7L602.7,493.3L588.5,492.7L575.3,491.8L563.0,490.8L551.6,489.5L540.8,488.1L530.7,486.6L521.1,485.0L511.9,483.3L503.0,481.5L494.3,479.6L485.7,477.8L477.1,475.9L468.4,474.1L459.5,472.3L450.3,470.6L440.7,469.0L430.5,467.5L419.8,466.1L408.4,464.8L396.1,463.8L383.0,462.9L368.8,462.3L353.5,461.9L337.0,461.7Z" fill="url(#g53)"/>
<path class="s" d="M337.0,461.9L353.5,462.1L368.8,462.9L383.0,464.1L396.2,465.7L408.5,467.6L419.9,469.9L430.7,472.4L440.8,475.2L450.4,478.2L459.6,481.4L468.5,484.7L477.2,488.0L485.8,491.4L494.4,494.8L503.1,498.2L512.0,501.5L521.2,504.6L530.8,507.6L541.0,510.4L551.7,513.0L563.1,515.2L575.4,517.2L588.5,518.8L602.7,519.9L618.0,520.7L634.5,520.9L634.5,521.4L618.0,521.2L602.7,520.4L588.5,519.2L575.3,517.6L563.0,515.7L551.6,513.4L540.8,510.9L530.7,508.1L521.1,505.1L511.9,501.9L503.0,498.6L494.3,495.2L485.7,491.8L477.1,488.4L468.4,485.1L459.5,481.8L450.3,478.6L440.7,475.6L430.6,472.8L419.8,470.3L408.4,468.0L396.1,466.1L383.0,464.5L368.8,463.3L353.5,462.6L337.0,462.3Z" fill="url(#g54)"/>
<path class="s" d="M337.0,462.5L353.6,462.9L368.9,464.2L383.1,466.1L396.3,468.7L408.6,471.9L420.1,475.7L430.8,479.9L441.0,484.5L450.6,489.5L459.9,494.7L468.8,500.1L477.5,505.6L486.1,511.2L494.7,516.8L503.4,522.4L512.3,527.8L521.5,533.0L531.0,537.9L541.1,542.5L551.8,546.7L563.2,550.4L575.5,553.6L588.6,556.2L602.7,558.1L618.0,559.4L634.5,559.8L634.5,561.0L617.9,560.6L602.6,559.4L588.4,557.4L575.2,554.8L562.9,551.6L551.4,547.8L540.7,543.6L530.5,539.0L520.9,534.1L511.6,528.8L502.7,523.4L494.0,517.9L485.4,512.3L476.8,506.7L468.1,501.2L459.2,495.8L450.0,490.6L440.5,485.6L430.4,481.1L419.7,476.9L408.3,473.1L396.0,469.9L382.9,467.3L368.8,465.4L353.5,464.2L337.0,463.7Z" fill="url(#g55)"/>
<path class="s" d="M337.0,463.9L353.5,464.5L368.8,466.1L383.0,468.7L396.2,472.2L408.4,476.6L419.9,481.6L430.6,487.3L440.7,493.4L450.4,500.1L459.6,507.1L468.5,514.3L477.2,521.8L485.8,529.3L494.4,536.9L503.1,544.3L512.0,551.6L521.2,558.5L530.8,565.2L540.9,571.4L551.6,577.0L563.1,582.1L575.3,586.4L588.5,589.9L602.7,592.5L618.0,594.1L634.5,594.7L634.5,594.8L618.0,594.2L602.7,592.6L588.5,590.0L575.3,586.5L563.1,582.1L551.6,577.1L540.9,571.4L530.8,565.3L521.1,558.6L511.9,551.6L503.0,544.4L494.3,536.9L485.7,529.4L477.1,521.8L468.4,514.4L459.5,507.1L450.3,500.1L440.7,493.5L430.6,487.3L419.9,481.7L408.4,476.6L396.2,472.3L383.0,468.8L368.8,466.2L353.5,464.6L337.0,464.0Z" fill="url(#g56)"/>
<path class="s" d="M337.0,480.5L353.3,479.8L368.4,477.7L382.4,474.3L395.4,469.8L407.5,464.3L418.8,457.8L429.4,450.5L439.4,442.5L448.9,433.9L458.1,424.9L467.0,415.5L475.6,405.8L484.2,396.0L492.8,386.2L501.6,376.5L510.5,367.0L519.8,357.8L529.5,349.1L539.7,340.9L550.6,333.5L562.1,326.8L574.6,321.1L587.9,316.5L602.3,313.0L617.8,310.9L634.5,310.1L634.5,314.2L618.2,314.9L603.1,317.0L589.1,320.4L576.1,324.9L564.0,330.4L552.7,336.9L542.1,344.2L532.1,352.1L522.6,360.7L513.4,369.8L504.5,379.2L495.9,388.9L487.3,398.7L478.7,408.5L469.9,418.2L461.0,427.7L451.7,436.9L442.0,445.6L431.8,453.8L421.0,461.2L409.4,467.9L396.9,473.6L383.6,478.2L369.2,481.7L353.7,483.8L337.0,484.6Z" fill="url(#g57)"/>
<path class="s" d="M337.0,485.4L353.5,485.2L368.8,484.5L382.9,483.5L396.0,482.2L408.2,480.6L419.6,478.6L430.3,476.5L440.4,474.1L450.0,471.6L459.2,468.9L468.1,466.1L476.8,463.3L485.4,460.4L494.0,457.5L502.7,454.6L511.6,451.8L520.8,449.2L530.5,446.6L540.6,444.2L551.4,442.0L562.9,440.1L575.2,438.4L588.4,437.1L602.6,436.1L617.9,435.5L634.5,435.2L634.5,437.7L618.0,437.9L602.7,438.5L588.6,439.5L575.5,440.8L563.3,442.5L551.8,444.4L541.2,446.6L531.1,448.9L521.5,451.5L512.3,454.2L503.4,456.9L494.7,459.8L486.1,462.7L477.5,465.6L468.8,468.4L459.9,471.2L450.7,473.9L441.0,476.5L430.9,478.8L420.1,481.0L408.6,483.0L396.3,484.6L383.1,486.0L368.9,487.0L353.6,487.6L337.0,487.8Z" fill="url(#g58)"/>
<path class="s" d="M337.0,488.2L353.5,488.1L368.8,487.9L383.0,487.6L396.2,487.1L408.4,486.6L419.9,485.9L430.6,485.2L440.7,484.4L450.3,483.6L459.5,482.7L468.4,481.8L477.1,480.9L485.7,479.9L494.3,478.9L503.0,478.0L511.9,477.1L521.1,476.2L530.8,475.4L540.9,474.6L551.6,473.9L563.1,473.2L575.3,472.7L588.5,472.2L602.7,471.9L618.0,471.7L634.5,471.6L634.5,472.1L618.0,472.2L602.7,472.4L588.5,472.7L575.3,473.1L563.1,473.7L551.6,474.3L540.9,475.0L530.8,475.8L521.2,476.6L512.0,477.5L503.1,478.4L494.4,479.4L485.8,480.3L477.2,481.3L468.5,482.2L459.6,483.1L450.4,484.0L440.7,484.9L430.6,485.6L419.9,486.4L408.4,487.0L396.2,487.5L383.0,488.0L368.8,488.3L353.5,488.5L337.0,488.6Z" fill="url(#g59)"/>
<path class="s" d="M337.0,488.7L353.5,488.8L368.8,488.8L383.0,488.9L396.2,489.1L408.4,489.3L419.9,489.5L430.6,489.7L440.7,489.9L450.4,490.2L459.6,490.5L468.5,490.8L477.2,491.1L485.8,491.4L494.4,491.7L503.1,492.0L512.0,492.3L521.2,492.6L530.8,492.9L540.9,493.1L551.6,493.4L563.1,493.6L575.3,493.7L588.5,493.9L602.7,494.0L618.0,494.1L634.5,494.1L634.5,495.0L618.0,495.0L602.7,494.9L588.5,494.8L575.3,494.6L563.1,494.4L551.6,494.2L540.9,494.0L530.8,493.7L521.1,493.5L511.9,493.2L503.0,492.9L494.3,492.6L485.7,492.3L477.1,492.0L468.4,491.6L459.5,491.3L450.3,491.1L440.7,490.8L430.6,490.5L419.9,490.3L408.4,490.1L396.2,489.9L383.0,489.8L368.8,489.6L353.5,489.6L337.0,489.6Z" fill="url(#g60)"/>
<path class="s" d="M337.0,503.1L353.5,503.3L368.9,504.1L383.1,505.2L396.3,506.8L408.6,508.7L420.0,511.0L430.8,513.5L441.0,516.3L450.6,519.2L459.8,522.4L468.7,525.6L477.4,528.9L486.1,532.3L494.6,535.6L503.3,539.0L512.2,542.2L521.4,545.3L531.0,548.3L541.1,551.0L551.8,553.5L563.2,555.8L575.4,557.7L588.6,559.2L602.7,560.4L618.0,561.1L634.5,561.4L634.5,563.1L618.0,562.8L602.6,562.1L588.4,560.9L575.2,559.3L562.9,557.4L551.5,555.1L540.7,552.6L530.5,549.8L520.9,546.9L511.7,543.8L502.8,540.5L494.1,537.2L485.4,533.8L476.9,530.5L468.2,527.1L459.3,523.9L450.1,520.8L440.5,517.8L430.4,515.1L419.7,512.6L408.3,510.3L396.1,508.4L382.9,506.8L368.8,505.7L353.5,504.9L337.0,504.7Z" fill="url(#g62)"/>
<path class="s" d="M337.0,504.9L353.5,505.3L368.8,506.4L383.0,508.2L396.2,510.6L408.4,513.6L419.9,517.1L430.6,521.0L440.7,525.2L450.4,529.8L459.6,534.6L468.5,539.6L477.2,544.7L485.8,549.9L494.4,555.0L503.1,560.2L512.0,565.1L521.2,570.0L530.8,574.5L540.9,578.8L551.6,582.7L563.1,586.1L575.3,589.1L588.5,591.5L602.7,593.3L618.0,594.4L634.5,594.8L634.5,594.9L618.0,594.5L602.7,593.4L588.5,591.6L575.3,589.2L563.1,586.2L551.6,582.7L540.9,578.8L530.8,574.6L521.1,570.0L511.9,565.2L503.0,560.2L494.3,555.1L485.7,549.9L477.1,544.8L468.4,539.6L459.5,534.7L450.3,529.8L440.7,525.3L430.6,521.0L419.9,517.1L408.4,513.7L396.2,510.7L383.0,508.3L368.8,506.5L353.5,505.4L337.0,505.0Z" fill="url(#g63)"/>
<path class="s" d="M337.0,522.2L353.4,521.3L368.6,518.7L382.7,514.6L395.8,509.1L408.0,502.3L419.4,494.3L430.0,485.4L440.1,475.6L449.7,465.2L458.9,454.1L467.8,442.6L476.5,430.8L485.1,418.9L493.7,406.9L502.4,395.1L511.3,383.6L520.5,372.5L530.2,361.9L540.4,352.1L551.1,343.1L562.6,335.0L575.0,328.2L588.2,322.5L602.5,318.4L617.9,315.8L634.5,314.9L634.5,316.5L618.1,317.4L602.9,319.9L588.8,324.1L575.7,329.6L563.5,336.4L552.1,344.3L541.4,353.3L531.4,363.0L521.8,373.5L512.6,384.6L503.7,396.1L495.0,407.9L486.4,419.8L477.8,431.8L469.1,443.6L460.2,455.1L451.0,466.2L441.3,476.8L431.2,486.7L420.4,495.7L408.9,503.7L396.5,510.6L383.3,516.2L369.0,520.4L353.6,523.0L337.0,523.9Z" fill="url(#g64)"/>
<path class="s" d="M337.0,524.3L353.5,523.9L368.7,522.8L382.9,521.1L396.0,518.8L408.2,516.0L419.6,512.7L430.3,509.0L440.4,504.9L450.0,500.6L459.2,496.0L468.1,491.2L476.7,486.3L485.3,481.3L493.9,476.4L502.7,471.5L511.6,466.7L520.8,462.1L530.5,457.7L540.6,453.6L551.4,449.8L562.9,446.5L575.2,443.7L588.4,441.3L602.6,439.6L617.9,438.5L634.5,438.2L634.5,439.8L618.0,440.1L602.8,441.2L588.6,442.9L575.5,445.2L563.3,448.1L551.9,451.4L541.2,455.1L531.1,459.2L521.5,463.5L512.3,468.1L503.4,472.9L494.8,477.8L486.2,482.8L477.6,487.7L468.8,492.6L459.9,497.4L450.7,502.0L441.1,506.4L430.9,510.5L420.1,514.3L408.6,517.6L396.3,520.4L383.1,522.8L368.9,524.5L353.6,525.6L337.0,526.0Z" fill="url(#g65)"/>
<path class="s" d="M337.0,526.2L353.5,526.0L368.8,525.3L383.0,524.2L396.1,522.8L408.4,521.0L419.8,518.9L430.6,516.6L440.7,514.0L450.3,511.3L459.5,508.4L468.4,505.4L477.1,502.3L485.7,499.2L494.3,496.1L503.0,493.0L511.9,490.0L521.1,487.1L530.7,484.4L540.8,481.8L551.6,479.5L563.0,477.4L575.3,475.6L588.5,474.2L602.7,473.1L618.0,472.4L634.5,472.2L634.5,472.7L618.0,472.9L602.7,473.6L588.5,474.7L575.4,476.1L563.1,477.9L551.7,480.0L540.9,482.3L530.8,484.8L521.2,487.6L512.0,490.5L503.1,493.5L494.4,496.5L485.8,499.6L477.2,502.7L468.5,505.8L459.6,508.8L450.4,511.7L440.8,514.4L430.7,517.0L419.9,519.3L408.5,521.4L396.2,523.2L383.0,524.6L368.8,525.7L353.5,526.4L337.0,526.6Z" fill="url(#g66)"/>
<path class="s" d="M337.0,527.0L353.5,526.9L368.8,526.5L382.9,525.8L396.1,525.0L408.3,524.0L419.7,522.7L430.4,521.4L440.5,519.9L450.1,518.3L459.3,516.6L468.2,514.8L476.9,513.1L485.5,511.2L494.1,509.4L502.8,507.6L511.7,505.9L520.9,504.2L530.6,502.6L540.7,501.1L551.5,499.7L562.9,498.5L575.2,497.4L588.4,496.6L602.6,495.9L618.0,495.6L634.5,495.4L634.5,498.1L618.0,498.2L602.7,498.6L588.6,499.2L575.4,500.1L563.2,501.1L551.8,502.3L541.1,503.7L531.0,505.1L521.4,506.7L512.2,508.4L503.3,510.2L494.6,511.9L486.0,513.8L477.4,515.6L468.7,517.4L459.8,519.1L450.6,520.8L440.9,522.4L430.8,523.9L420.0,525.2L408.5,526.5L396.3,527.5L383.1,528.3L368.9,529.0L353.5,529.4L337.0,529.5Z" fill="url(#g67)"/>
<path class="s" d="M337.0,529.9L353.5,529.9L368.8,530.0L383.0,530.2L396.2,530.4L408.4,530.6L419.9,530.9L430.6,531.2L440.7,531.6L450.4,532.0L459.6,532.4L468.5,532.8L477.2,533.2L485.8,533.6L494.4,534.1L503.1,534.5L512.0,534.9L521.2,535.3L530.8,535.7L540.9,536.0L551.6,536.3L563.1,536.6L575.3,536.9L588.5,537.1L602.7,537.2L618.0,537.3L634.5,537.3L634.5,538.3L618.0,538.3L602.7,538.2L588.5,538.0L575.3,537.8L563.1,537.6L551.6,537.3L540.9,537.0L530.8,536.6L521.1,536.2L511.9,535.8L503.0,535.4L494.3,535.0L485.7,534.5L477.1,534.1L468.4,533.7L459.5,533.2L450.3,532.8L440.7,532.5L430.6,532.1L419.9,531.8L408.4,531.5L396.2,531.2L383.0,531.0L368.8,530.9L353.5,530.8L337.0,530.8Z" fill="url(#g68)"/>
<path class="s" d="M337.0,531.0L353.5,531.1L368.8,531.5L383.0,532.2L396.2,533.0L408.5,534.1L419.9,535.3L430.7,536.7L440.8,538.3L450.4,539.9L459.6,541.7L468.5,543.5L477.2,545.3L485.8,547.2L494.4,549.0L503.1,550.9L512.0,552.7L521.2,554.4L530.8,556.1L541.0,557.6L551.7,559.0L563.1,560.2L575.4,561.3L588.5,562.2L602.7,562.8L618.0,563.2L634.5,563.4L634.5,564.2L618.0,564.1L602.7,563.7L588.5,563.0L575.3,562.1L563.0,561.1L551.6,559.8L540.8,558.4L530.7,556.9L521.1,555.2L511.9,553.5L503.0,551.7L494.3,549.9L485.7,548.0L477.1,546.1L468.4,544.3L459.5,542.5L450.3,540.7L440.7,539.1L430.5,537.6L419.8,536.2L408.4,534.9L396.1,533.9L383.0,533.0L368.8,532.3L353.5,531.9L337.0,531.8Z" fill="url(#g69)"/>
<path class="s" d="M337.0,531.9L353.5,532.2L368.8,533.0L383.0,534.2L396.2,535.9L408.4,538.0L419.9,540.4L430.6,543.1L440.7,546.1L450.4,549.3L459.6,552.7L468.5,556.2L477.2,559.8L485.8,563.4L494.4,567.0L503.1,570.6L512.0,574.1L521.2,577.5L530.8,580.7L540.9,583.7L551.6,586.4L563.1,588.8L575.3,590.9L588.5,592.6L602.7,593.8L618.0,594.6L634.5,594.9L634.5,595.0L618.0,594.7L602.7,593.9L588.5,592.7L575.3,591.0L563.1,588.9L551.6,586.5L540.9,583.7L530.8,580.8L521.1,577.6L511.9,574.2L503.0,570.7L494.3,567.1L485.7,563.5L477.1,559.9L468.4,556.3L459.5,552.8L450.3,549.4L440.7,546.2L430.6,543.2L419.9,540.5L408.4,538.1L396.2,536.0L383.0,534.3L368.8,533.1L353.5,532.3L337.0,532.0Z" fill="url(#g70)"/>
<path class="s" d="M337.0,590.0L353.5,588.9L368.8,585.5L382.9,580.1L396.1,572.8L408.3,563.9L419.7,553.5L430.5,541.8L440.6,528.9L450.2,515.2L459.4,500.7L468.3,485.7L477.0,470.2L485.6,454.6L494.2,439.0L502.9,423.6L511.8,408.6L521.0,394.1L530.6,380.3L540.7,367.5L551.5,355.7L562.9,345.3L575.2,336.3L588.4,329.1L602.6,323.6L618.0,320.2L634.5,319.0L634.5,319.4L618.0,320.6L602.7,324.0L588.6,329.4L575.4,336.7L563.2,345.6L551.8,356.0L541.0,367.7L530.9,380.5L521.3,394.3L512.1,408.8L503.2,423.8L494.5,439.2L485.9,454.8L477.3,470.4L468.6,485.8L459.7,500.9L450.5,515.4L440.9,529.1L430.7,542.0L420.0,553.7L408.5,564.1L396.3,573.1L383.1,580.4L368.9,585.8L353.5,589.2L337.0,590.4Z" fill="url(#g78)"/>
<path class="s" d="M337.0,590.6L353.5,589.9L368.7,588.1L382.9,585.2L396.0,581.4L408.2,576.6L419.6,571.1L430.3,564.9L440.4,558.1L450.0,550.7L459.2,543.0L468.1,535.0L476.8,526.8L485.4,518.5L494.0,510.2L502.7,502.0L511.6,493.9L520.8,486.2L530.4,478.9L540.6,472.0L551.3,465.7L562.8,460.2L575.1,455.4L588.3,451.5L602.6,448.6L617.9,446.8L634.5,446.1L634.5,447.3L618.0,448.0L602.8,449.8L588.6,452.6L575.5,456.5L563.3,461.3L551.9,466.8L541.2,473.0L531.1,479.8L521.5,487.1L512.3,494.8L503.4,502.8L494.7,511.0L486.1,519.3L477.5,527.6L468.8,535.8L459.9,543.9L450.7,551.6L441.0,558.9L430.9,565.8L420.1,572.0L408.6,577.6L396.3,582.4L383.1,586.3L368.9,589.2L353.6,591.0L337.0,591.6Z" fill="url(#g79)"/>
<path class="s" d="M337.0,591.7L353.5,591.2L368.8,589.8L383.0,587.4L396.1,584.2L408.4,580.3L419.8,575.8L430.6,570.7L440.7,565.1L450.3,559.1L459.5,552.8L468.4,546.3L477.1,539.5L485.7,532.7L494.3,525.9L503.0,519.2L511.9,512.7L521.1,506.4L530.7,500.4L540.8,494.8L551.6,489.7L563.0,485.1L575.3,481.2L588.5,478.0L602.7,475.7L618.0,474.2L634.5,473.7L634.5,474.0L618.0,474.5L602.7,476.0L588.5,478.3L575.4,481.5L563.1,485.4L551.7,489.9L541.0,495.0L530.8,500.6L521.2,506.6L512.0,512.9L503.1,519.4L494.4,526.1L485.8,532.9L477.2,539.7L468.5,546.4L459.6,553.0L450.4,559.3L440.8,565.3L430.7,570.9L419.9,576.0L408.5,580.5L396.2,584.4L383.0,587.6L368.8,590.0L353.5,591.4L337.0,591.9Z" fill="url(#g80)"/>
<path class="s" d="M337.0,592.0L353.5,591.6L368.8,590.4L383.0,588.6L396.2,586.1L408.4,583.0L419.8,579.5L430.6,575.5L440.7,571.1L450.3,566.4L459.5,561.4L468.4,556.3L477.1,551.0L485.7,545.7L494.3,540.3L503.0,535.0L511.9,529.9L521.1,524.9L530.7,520.2L540.9,515.8L551.6,511.8L563.0,508.3L575.3,505.2L588.5,502.7L602.7,500.9L618.0,499.7L634.5,499.3L634.5,499.5L618.0,499.9L602.7,501.0L588.5,502.9L575.3,505.4L563.1,508.4L551.7,512.0L540.9,516.0L530.8,520.4L521.2,525.1L512.0,530.0L503.1,535.2L494.4,540.5L485.8,545.8L477.2,551.1L468.5,556.4L459.6,561.5L450.4,566.5L440.8,571.2L430.6,575.6L419.9,579.6L408.4,583.2L396.2,586.2L383.0,588.7L368.8,590.6L353.5,591.7L337.0,592.1Z" fill="url(#g81)"/>
<path class="s" d="M337.0,592.2L353.5,591.9L368.8,591.3L383.0,590.2L396.2,588.8L408.4,587.1L419.9,585.1L430.6,582.8L440.7,580.3L450.3,577.7L459.5,574.9L468.4,571.9L477.1,569.0L485.7,565.9L494.3,562.9L503.0,559.9L511.9,557.0L521.1,554.2L530.7,551.5L540.9,549.0L551.6,546.8L563.0,544.8L575.3,543.0L588.5,541.6L602.7,540.6L618.0,539.9L634.5,539.7L634.5,540.0L618.0,540.2L602.7,540.8L588.5,541.9L575.3,543.3L563.1,545.0L551.7,547.0L540.9,549.3L530.8,551.8L521.2,554.5L512.0,557.3L503.1,560.2L494.4,563.1L485.8,566.2L477.2,569.2L468.5,572.2L459.6,575.1L450.4,577.9L440.8,580.5L430.6,583.0L419.9,585.3L408.4,587.3L396.2,589.0L383.0,590.4L368.8,591.5L353.5,592.1L337.0,592.4Z" fill="url(#g82)"/>
<path class="s" d="M337.0,592.5L353.5,592.4L368.8,592.2L383.0,591.9L396.2,591.4L408.4,590.9L419.9,590.3L430.6,589.6L440.7,588.8L450.3,588.0L459.5,587.1L468.4,586.2L477.1,585.3L485.7,584.4L494.3,583.5L503.0,582.6L511.9,581.7L521.1,580.8L530.8,580.0L540.9,579.2L551.6,578.5L563.1,577.9L575.3,577.4L588.5,576.9L602.7,576.6L618.0,576.4L634.5,576.3L634.5,576.9L618.0,577.0L602.7,577.2L588.5,577.5L575.3,577.9L563.1,578.5L551.6,579.1L540.9,579.8L530.8,580.5L521.2,581.4L512.0,582.2L503.1,583.1L494.4,584.0L485.8,584.9L477.2,585.9L468.5,586.8L459.6,587.7L450.4,588.5L440.7,589.3L430.6,590.1L419.9,590.8L408.4,591.4L396.2,591.9L383.0,592.3L368.8,592.7L353.5,592.9L337.0,592.9Z" fill="url(#g83)"/>
<path class="s" d="M337.0,593.3L353.5,593.3L368.8,593.4L383.0,593.4L396.2,593.5L408.4,593.6L419.9,593.7L430.6,593.8L440.7,594.0L450.4,594.1L459.6,594.3L468.5,594.5L477.2,594.6L485.8,594.8L494.4,595.0L503.1,595.2L512.0,595.3L521.2,595.5L530.8,595.7L540.9,595.8L551.6,595.9L563.1,596.1L575.3,596.2L588.5,596.2L602.7,596.3L618.0,596.3L634.5,596.4L634.5,599.2L618.0,599.1L602.7,599.1L588.5,599.0L575.3,598.9L563.1,598.8L551.6,598.7L540.9,598.5L530.8,598.4L521.1,598.2L511.9,598.0L503.0,597.8L494.3,597.6L485.7,597.4L477.1,597.2L468.4,597.0L459.5,596.8L450.3,596.7L440.7,596.5L430.6,596.3L419.9,596.2L408.4,596.0L396.2,595.9L383.0,595.8L368.8,595.8L353.5,595.7L337.0,595.7Z" fill="url(#g84)"/>
<path class="s" d="M643.5,312.0L660.1,312.0L675.4,312.3L689.6,312.7L702.8,313.3L715.1,314.0L726.5,314.8L737.3,315.7L747.4,316.6L757.1,317.7L766.3,318.8L775.2,320.0L783.9,321.1L792.5,322.3L801.2,323.5L809.9,324.7L818.8,325.9L828.0,327.0L837.6,328.0L847.8,329.0L858.5,329.9L870.0,330.7L882.2,331.4L895.4,332.0L909.6,332.4L925.0,332.6L941.5,332.7L941.5,333.3L924.9,333.2L909.6,332.9L895.4,332.5L882.2,332.0L869.9,331.3L858.5,330.5L847.7,329.6L837.6,328.6L827.9,327.5L818.7,326.4L809.8,325.3L801.1,324.1L792.5,322.9L783.8,321.7L775.1,320.5L766.2,319.4L757.0,318.2L747.4,317.2L737.2,316.2L726.5,315.3L715.0,314.5L702.8,313.8L689.6,313.3L675.4,312.9L660.0,312.6L643.5,312.5Z" fill="url(#g86)"/>
<path class="s" d="M643.5,312.7L660.1,313.4L675.4,315.3L689.6,318.3L702.8,322.4L715.1,327.3L726.5,333.1L737.3,339.7L747.4,346.8L757.0,354.4L766.3,362.5L775.2,370.9L783.9,379.5L792.5,388.1L801.1,396.8L809.8,405.4L818.8,413.8L828.0,421.8L837.6,429.5L847.8,436.6L858.5,443.1L870.0,448.9L882.2,453.9L895.4,458.0L909.6,461.0L925.0,462.9L941.5,463.5L941.5,463.6L924.9,462.9L909.6,461.1L895.4,458.0L882.2,454.0L869.9,449.0L858.5,443.2L847.7,436.7L837.6,429.5L827.9,421.9L818.7,413.8L809.8,405.5L801.1,396.9L792.5,388.2L783.9,379.5L775.2,370.9L766.2,362.6L757.0,354.5L747.4,346.8L737.2,339.7L726.5,333.2L715.0,327.4L702.8,322.4L689.6,318.4L675.4,315.3L660.0,313.5L643.5,312.8Z" fill="url(#g87)"/>
<path class="s" d="M643.5,313.0L660.1,313.7L675.4,315.9L689.6,319.3L702.8,323.9L715.1,329.5L726.6,336.1L737.4,343.5L747.5,351.6L757.2,360.3L766.4,369.4L775.3,378.9L784.1,388.6L792.7,398.4L801.3,408.3L810.0,418.0L818.9,427.5L828.1,436.6L837.8,445.2L847.9,453.3L858.6,460.7L870.1,467.2L882.3,472.9L895.5,477.4L909.7,480.8L925.0,483.0L941.5,483.7L941.5,484.3L924.9,483.5L909.6,481.4L895.3,477.9L882.1,473.3L869.8,467.7L858.4,461.1L847.6,453.7L837.4,445.6L827.8,436.9L818.6,427.8L809.7,418.3L800.9,408.6L792.3,398.7L783.7,388.9L775.0,379.2L766.1,369.7L756.9,360.6L747.3,351.9L737.1,343.8L726.4,336.4L715.0,329.9L702.7,324.2L689.5,319.7L675.3,316.2L660.0,314.1L643.5,313.4Z" fill="url(#g88)"/>
<path class="s" d="M643.5,313.6L660.1,314.5L675.4,317.0L689.6,320.9L702.8,326.2L715.1,332.8L726.6,340.4L737.4,348.9L747.5,358.3L757.1,368.3L766.4,378.9L775.3,389.8L784.0,401.1L792.6,412.4L801.2,423.8L809.9,435.0L818.9,446.0L828.1,456.6L837.7,466.6L847.8,475.9L858.6,484.5L870.0,492.0L882.3,498.6L895.5,503.9L909.7,507.8L925.0,510.3L941.5,511.1L941.5,511.4L924.9,510.6L909.6,508.1L895.4,504.1L882.2,498.8L869.9,492.3L858.4,484.7L847.6,476.2L837.5,466.8L827.9,456.8L818.6,446.2L809.7,435.2L801.0,424.0L792.4,412.6L783.8,401.2L775.1,390.0L766.1,379.0L756.9,368.5L747.3,358.5L737.2,349.1L726.4,340.6L715.0,333.0L702.7,326.5L689.5,321.2L675.3,317.2L660.0,314.8L643.5,313.9Z" fill="url(#g89)"/>
<path class="s" d="M643.5,314.3L660.1,315.3L675.5,318.2L689.7,322.8L702.9,329.0L715.2,336.7L726.7,345.5L737.5,355.5L747.7,366.5L757.3,378.2L766.5,390.5L775.5,403.3L784.2,416.5L792.8,429.7L801.4,443.0L810.2,456.1L819.1,468.9L828.3,481.3L837.9,492.9L848.0,503.8L858.8,513.8L870.2,522.6L882.4,530.2L895.6,536.4L909.7,541.0L925.0,543.9L941.5,544.9L941.5,545.7L924.9,544.7L909.5,541.8L895.3,537.2L882.0,531.0L869.7,523.3L858.2,514.4L847.4,504.4L837.3,493.5L827.7,481.8L818.4,469.4L809.5,456.6L800.8,443.4L792.2,430.2L783.6,416.9L774.9,403.8L766.0,390.9L756.7,378.6L747.1,366.9L737.0,356.0L726.3,346.1L714.9,337.2L702.6,329.6L689.5,323.4L675.3,318.8L660.0,315.9L643.5,314.9Z" fill="url(#g90)"/>
<path class="s" d="M643.5,315.3L660.1,316.5L675.4,319.8L689.6,325.3L702.8,332.5L715.1,341.4L726.6,351.8L737.3,363.5L747.5,376.3L757.1,390.1L766.3,404.5L775.2,419.5L784.0,434.9L792.6,450.5L801.2,466.0L809.9,481.4L818.8,496.4L828.0,510.9L837.7,524.6L847.8,537.4L858.5,549.1L870.0,559.4L882.3,568.4L895.5,575.6L909.6,581.0L925.0,584.4L941.5,585.6L941.5,585.7L924.9,584.6L909.6,581.2L895.4,575.8L882.2,568.5L869.9,559.6L858.4,549.2L847.7,537.5L837.5,524.7L827.9,511.0L818.7,496.5L809.8,481.5L801.0,466.1L792.4,450.6L783.8,435.0L775.1,419.6L766.2,404.6L757.0,390.2L747.3,376.4L737.2,363.6L726.5,352.0L715.0,341.6L702.7,332.7L689.5,325.4L675.4,320.0L660.0,316.6L643.5,315.4Z" fill="url(#g91)"/>
<path class="s" d="M643.5,336.9L660.0,336.8L675.4,336.4L689.6,335.8L702.7,335.0L715.0,334.1L726.5,332.9L737.2,331.6L747.3,330.2L756.9,328.7L766.2,327.1L775.1,325.4L783.8,323.7L792.4,322.0L801.0,320.3L809.7,318.6L818.6,316.9L827.9,315.3L837.5,313.8L847.7,312.4L858.4,311.1L869.9,310.0L882.2,309.0L895.4,308.2L909.6,307.6L924.9,307.2L941.5,307.1L941.5,308.2L925.0,308.3L909.6,308.7L895.4,309.3L882.3,310.1L870.0,311.1L858.6,312.2L847.8,313.5L837.7,314.9L828.1,316.4L818.8,318.0L809.9,319.7L801.2,321.4L792.6,323.1L784.0,324.8L775.3,326.5L766.4,328.2L757.1,329.8L747.5,331.3L737.3,332.7L726.6,334.0L715.1,335.2L702.8,336.1L689.6,336.9L675.4,337.5L660.1,337.9L643.5,338.0Z" fill="url(#g92)"/>
<path class="s" d="M643.5,436.5L660.0,436.6L675.4,437.0L689.6,437.5L702.8,438.3L715.1,439.2L726.5,440.2L737.3,441.4L747.4,442.7L757.0,444.0L766.3,445.5L775.2,447.0L783.9,448.6L792.5,450.1L801.1,451.7L809.8,453.2L818.8,454.7L828.0,456.2L837.6,457.6L847.8,458.9L858.5,460.0L870.0,461.1L882.2,462.0L895.4,462.7L909.6,463.2L925.0,463.6L941.5,463.7L941.5,463.9L925.0,463.8L909.6,463.4L895.4,462.9L882.2,462.2L869.9,461.3L858.5,460.2L847.7,459.0L837.6,457.8L828.0,456.4L818.7,454.9L809.8,453.4L801.1,451.9L792.5,450.3L783.9,448.7L775.2,447.2L766.2,445.7L757.0,444.2L747.4,442.8L737.3,441.5L726.5,440.4L715.0,439.3L702.8,438.4L689.6,437.7L675.4,437.1L660.0,436.8L643.5,436.7Z" fill="url(#g94)"/>
<path class="s" d="M643.5,437.0L660.1,437.2L675.4,437.8L689.6,438.8L702.8,440.1L715.1,441.7L726.6,443.5L737.3,445.6L747.5,447.8L757.1,450.3L766.4,452.8L775.3,455.5L784.0,458.2L792.6,461.0L801.2,463.7L809.9,466.4L818.9,469.1L828.1,471.6L837.7,474.1L847.8,476.3L858.6,478.4L870.0,480.2L882.3,481.8L895.5,483.1L909.6,484.0L925.0,484.6L941.5,484.9L941.5,485.8L924.9,485.6L909.6,485.0L895.4,484.0L882.2,482.7L869.9,481.1L858.4,479.3L847.7,477.2L837.5,474.9L827.9,472.5L818.6,469.9L809.7,467.2L801.0,464.5L792.4,461.7L783.8,458.9L775.1,456.2L766.2,453.5L756.9,451.0L747.3,448.5L737.2,446.3L726.5,444.2L715.0,442.3L702.7,440.7L689.6,439.5L675.4,438.5L660.0,437.9L643.5,437.7Z" fill="url(#g95)"/>
<path class="s" d="M643.5,438.1L660.1,438.4L675.4,439.3L689.6,440.8L702.8,442.8L715.1,445.2L726.6,448.0L737.3,451.2L747.5,454.7L757.1,458.5L766.3,462.4L775.2,466.5L784.0,470.7L792.6,474.9L801.2,479.2L809.9,483.3L818.8,487.4L828.0,491.4L837.7,495.1L847.8,498.6L858.5,501.8L870.0,504.6L882.3,507.0L895.4,509.0L909.6,510.5L925.0,511.4L941.5,511.7L941.5,512.1L924.9,511.8L909.6,510.9L895.4,509.4L882.2,507.4L869.9,505.0L858.4,502.1L847.7,498.9L837.5,495.4L827.9,491.7L818.7,487.8L809.8,483.7L801.0,479.5L792.4,475.2L783.8,471.0L775.1,466.8L766.2,462.7L757.0,458.8L747.3,455.0L737.2,451.6L726.5,448.4L715.0,445.5L702.7,443.1L689.6,441.1L675.4,439.7L660.0,438.7L643.5,438.4Z" fill="url(#g96)"/>
<path class="s" d="M643.5,439.1L660.1,439.6L675.5,440.9L689.7,443.1L702.9,446.0L715.3,449.6L726.8,453.7L737.6,458.4L747.7,463.5L757.4,469.0L766.7,474.8L775.6,480.8L784.3,486.9L793.0,493.1L801.6,499.3L810.3,505.4L819.2,511.4L828.4,517.1L838.0,522.6L848.1,527.7L858.8,532.3L870.2,536.4L882.4,540.0L895.6,542.9L909.7,545.0L925.0,546.3L941.5,546.8L941.5,548.6L924.9,548.1L909.5,546.8L895.3,544.6L882.0,541.7L869.7,538.1L858.2,533.9L847.4,529.2L837.2,524.1L827.5,518.6L818.3,512.8L809.4,506.8L800.6,500.6L792.0,494.4L783.4,488.2L774.7,482.0L765.8,476.0L756.6,470.3L747.1,464.8L737.0,459.7L726.2,455.0L714.8,450.9L702.6,447.3L689.5,444.5L675.3,442.3L660.0,440.9L643.5,440.5Z" fill="url(#g97)"/>
<path class="s" d="M643.5,441.4L660.1,442.0L675.4,443.8L689.7,446.7L702.9,450.6L715.2,455.4L726.7,461.0L737.5,467.3L747.6,474.1L757.3,481.5L766.5,489.3L775.5,497.3L784.2,505.5L792.8,513.9L801.4,522.2L810.1,530.4L819.0,538.5L828.2,546.2L837.8,553.5L848.0,560.4L858.7,566.6L870.1,572.2L882.4,577.0L895.5,580.8L909.7,583.7L925.0,585.5L941.5,586.2L941.5,587.0L924.9,586.4L909.6,584.6L895.3,581.7L882.1,577.8L869.8,573.0L858.3,567.4L847.5,561.1L837.4,554.2L827.7,546.9L818.5,539.1L809.5,531.1L800.8,522.8L792.2,514.5L783.6,506.1L774.9,497.9L766.0,489.9L756.8,482.1L747.2,474.8L737.0,468.0L726.3,461.7L714.9,456.2L702.6,451.4L689.5,447.5L675.3,444.6L660.0,442.8L643.5,442.2Z" fill="url(#g98)"/>
<path class="s" d="M643.5,464.1L660.0,463.4L675.4,461.5L689.5,458.4L702.7,454.2L715.0,449.1L726.4,443.1L737.2,436.4L747.3,429.1L756.9,421.2L766.2,412.9L775.1,404.3L783.8,395.4L792.4,386.5L801.0,377.5L809.7,368.7L818.7,360.1L827.9,351.8L837.5,343.9L847.7,336.5L858.4,329.8L869.9,323.8L882.2,318.7L895.4,314.5L909.6,311.4L924.9,309.5L941.5,308.8L941.5,309.1L925.0,309.7L909.6,311.7L895.5,314.8L882.3,319.0L870.0,324.1L858.6,330.0L847.8,336.8L837.7,344.1L828.1,352.0L818.8,360.3L809.9,368.9L801.2,377.7L792.6,386.7L784.0,395.6L775.3,404.5L766.3,413.1L757.1,421.4L747.5,429.3L737.3,436.6L726.6,443.4L715.1,449.3L702.8,454.5L689.6,458.7L675.4,461.8L660.1,463.7L643.5,464.4Z" fill="url(#g99)"/>
<path class="s" d="M643.5,465.4L660.0,465.2L675.3,464.8L689.5,464.1L702.7,463.2L714.9,462.1L726.4,460.8L737.1,459.4L747.2,457.8L756.8,456.1L766.0,454.3L774.9,452.4L783.6,450.5L792.3,448.6L800.9,446.6L809.6,444.7L818.5,442.8L827.8,441.0L837.4,439.3L847.6,437.7L858.4,436.3L869.8,435.0L882.1,433.8L895.4,432.9L909.6,432.3L924.9,431.8L941.5,431.7L941.5,433.9L925.0,434.1L909.7,434.5L895.5,435.2L882.3,436.1L870.1,437.2L858.6,438.5L847.9,439.9L837.8,441.5L828.2,443.2L819.0,445.0L810.1,446.9L801.4,448.8L792.7,450.7L784.1,452.7L775.4,454.6L766.5,456.4L757.2,458.2L747.6,460.0L737.4,461.6L726.6,463.0L715.2,464.3L702.9,465.4L689.6,466.3L675.4,467.0L660.1,467.4L643.5,467.6Z" fill="url(#g100)"/>
<path class="s" d="M643.5,468.5L660.0,468.5L675.4,468.4L689.6,468.3L702.8,468.2L715.0,468.0L726.5,467.9L737.3,467.7L747.4,467.5L757.0,467.2L766.3,467.0L775.2,466.8L783.9,466.5L792.5,466.2L801.1,466.0L809.8,465.7L818.7,465.5L828.0,465.2L837.6,465.0L847.7,464.8L858.5,464.6L869.9,464.4L882.2,464.3L895.4,464.2L909.6,464.1L925.0,464.0L941.5,464.0L941.5,464.1L925.0,464.1L909.6,464.2L895.4,464.2L882.2,464.4L870.0,464.5L858.5,464.7L847.7,464.9L837.6,465.1L828.0,465.3L818.7,465.5L809.8,465.8L801.1,466.0L792.5,466.3L783.9,466.6L775.2,466.8L766.3,467.1L757.0,467.3L747.4,467.5L737.3,467.7L726.5,467.9L715.1,468.1L702.8,468.2L689.6,468.4L675.4,468.5L660.0,468.5L643.5,468.5Z" fill="url(#g101)"/>
<path class="s" d="M643.5,468.7L660.0,468.7L675.4,469.0L689.6,469.3L702.8,469.8L715.1,470.4L726.5,471.1L737.3,471.8L747.4,472.6L757.0,473.5L766.3,474.5L775.2,475.5L783.9,476.5L792.5,477.5L801.1,478.5L809.8,479.5L818.8,480.5L828.0,481.4L837.6,482.3L847.8,483.2L858.5,483.9L870.0,484.6L882.2,485.2L895.4,485.7L909.6,486.0L925.0,486.2L941.5,486.3L941.5,486.7L925.0,486.6L909.6,486.4L895.4,486.0L882.2,485.6L869.9,485.0L858.5,484.3L847.7,483.5L837.6,482.7L828.0,481.8L818.7,480.8L809.8,479.8L801.1,478.8L792.5,477.8L783.9,476.8L775.2,475.8L766.2,474.8L757.0,473.8L747.4,472.9L737.2,472.1L726.5,471.3L715.0,470.7L702.8,470.1L689.6,469.6L675.4,469.2L660.0,469.0L643.5,468.9Z" fill="url(#g102)"/>
<path class="s" d="M643.5,469.2L660.1,469.3L675.4,469.9L689.6,470.8L702.8,471.9L715.1,473.3L726.5,475.0L737.3,476.9L747.4,478.9L757.1,481.1L766.3,483.4L775.2,485.8L783.9,488.3L792.5,490.8L801.2,493.3L809.9,495.7L818.8,498.1L828.0,500.4L837.6,502.6L847.8,504.7L858.5,506.5L870.0,508.2L882.2,509.6L895.4,510.8L909.6,511.6L925.0,512.2L941.5,512.4L941.5,512.7L924.9,512.5L909.6,512.0L895.4,511.1L882.2,509.9L869.9,508.5L858.5,506.8L847.7,505.0L837.6,502.9L827.9,500.7L818.7,498.4L809.8,496.0L801.1,493.5L792.5,491.1L783.8,488.6L775.1,486.1L766.2,483.7L757.0,481.4L747.4,479.2L737.2,477.1L726.5,475.3L715.0,473.6L702.8,472.2L689.6,471.0L675.4,470.2L660.0,469.6L643.5,469.4Z" fill="url(#g103)"/>
<path class="s" d="M643.5,469.9L660.1,470.2L675.4,471.2L689.6,472.8L702.9,475.0L715.1,477.6L726.6,480.7L737.4,484.2L747.6,488.0L757.2,492.0L766.5,496.3L775.4,500.7L784.1,505.3L792.7,509.9L801.3,514.5L810.1,519.0L819.0,523.5L828.2,527.7L837.8,531.8L847.9,535.6L858.6,539.0L870.1,542.1L882.3,544.7L895.5,546.8L909.7,548.4L925.0,549.4L941.5,549.8L941.5,550.9L924.9,550.5L909.6,549.5L895.3,547.9L882.1,545.8L869.8,543.1L858.3,540.0L847.6,536.5L837.4,532.7L827.8,528.7L818.5,524.4L809.6,519.9L800.9,515.3L792.3,510.7L783.7,506.1L775.0,501.6L766.1,497.1L756.8,492.8L747.2,488.8L737.1,485.0L726.4,481.5L715.0,478.4L702.7,475.8L689.5,473.6L675.3,472.0L660.0,471.0L643.5,470.7Z" fill="url(#g104)"/>
<path class="s" d="M643.5,471.7L660.1,472.2L675.5,473.7L689.7,476.0L703.0,479.1L715.3,483.0L726.8,487.5L737.6,492.5L747.8,498.1L757.5,504.0L766.7,510.2L775.7,516.7L784.4,523.3L793.0,530.0L801.6,536.7L810.3,543.4L819.2,549.8L828.4,556.0L838.0,561.9L848.1,567.4L858.8,572.4L870.2,576.8L882.5,580.7L895.6,583.8L909.7,586.1L925.0,587.5L941.5,588.0L941.5,589.7L924.9,589.2L909.5,587.8L895.2,585.4L882.0,582.3L869.7,578.4L858.2,573.9L847.4,568.9L837.2,563.4L827.5,557.4L818.3,551.2L809.3,544.7L800.6,538.1L792.0,531.4L783.4,524.7L774.7,518.0L765.8,511.6L756.6,505.4L747.0,499.5L736.9,494.0L726.2,489.0L714.8,484.5L702.6,480.7L689.4,477.6L675.3,475.3L660.0,473.8L643.5,473.3Z" fill="url(#g105)"/>
<path class="s" d="M643.5,491.3L660.0,490.6L675.3,488.3L689.5,484.7L702.6,479.8L714.9,473.8L726.3,466.8L737.0,459.0L747.1,450.4L756.7,441.2L765.9,431.5L774.9,421.4L783.6,411.1L792.2,400.6L800.8,390.1L809.5,379.8L818.4,369.7L827.7,359.9L837.3,350.7L847.5,342.1L858.3,334.2L869.7,327.2L882.1,321.2L895.3,316.3L909.5,312.6L924.9,310.3L941.5,309.5L941.5,310.4L925.0,311.2L909.7,313.4L895.5,317.1L882.4,321.9L870.2,327.9L858.7,334.9L848.0,342.7L837.9,351.3L828.3,360.5L819.1,370.2L810.1,380.3L801.4,390.7L792.8,401.1L784.2,411.6L775.5,421.9L766.6,432.0L757.3,441.8L747.7,451.0L737.5,459.6L726.7,467.5L715.2,474.5L702.9,480.5L689.7,485.4L675.5,489.1L660.1,491.4L643.5,492.2Z" fill="url(#g106)"/>
<path class="s" d="M643.5,492.9L660.0,492.7L675.3,492.0L689.5,490.8L702.7,489.3L715.0,487.4L726.4,485.2L737.1,482.7L747.2,480.0L756.9,477.0L766.1,474.0L775.0,470.8L783.7,467.5L792.3,464.2L800.9,460.8L809.6,457.6L818.6,454.4L827.8,451.3L837.4,448.3L847.6,445.6L858.4,443.1L869.9,440.9L882.2,439.0L895.4,437.4L909.6,436.3L924.9,435.5L941.5,435.3L941.5,436.4L925.0,436.7L909.7,437.4L895.5,438.5L882.3,440.1L870.0,442.0L858.6,444.2L847.9,446.7L837.8,449.4L828.1,452.3L818.9,455.4L810.0,458.6L801.3,461.9L792.7,465.2L784.1,468.5L775.4,471.8L766.4,475.0L757.2,478.1L747.6,481.0L737.4,483.7L726.6,486.2L715.1,488.5L702.8,490.4L689.6,491.9L675.4,493.1L660.1,493.8L643.5,494.1Z" fill="url(#g107)"/>
<path class="s" d="M643.5,494.5L660.0,494.4L675.4,494.0L689.6,493.4L702.8,492.6L715.0,491.6L726.5,490.4L737.3,489.1L747.4,487.7L757.0,486.1L766.2,484.5L775.2,482.8L783.9,481.1L792.5,479.4L801.1,477.6L809.8,475.9L818.7,474.2L828.0,472.6L837.6,471.0L847.7,469.6L858.5,468.3L869.9,467.1L882.2,466.1L895.4,465.3L909.6,464.7L925.0,464.3L941.5,464.2L941.5,464.3L925.0,464.4L909.6,464.8L895.4,465.4L882.2,466.2L870.0,467.2L858.5,468.4L847.7,469.7L837.6,471.1L828.0,472.7L818.8,474.3L809.8,476.0L801.1,477.7L792.5,479.5L783.9,481.2L775.2,482.9L766.3,484.6L757.0,486.3L747.4,487.8L737.3,489.2L726.5,490.5L715.1,491.7L702.8,492.7L689.6,493.5L675.4,494.1L660.0,494.5L643.5,494.7Z" fill="url(#g108)"/>
<path class="s" d="M643.5,495.3L660.0,495.2L675.4,495.1L689.6,495.0L702.8,494.8L715.0,494.5L726.5,494.2L737.2,493.9L747.4,493.5L757.0,493.2L766.2,492.7L775.1,492.3L783.8,491.9L792.5,491.4L801.1,491.0L809.8,490.6L818.7,490.1L827.9,489.7L837.6,489.3L847.7,489.0L858.5,488.7L869.9,488.4L882.2,488.1L895.4,487.9L909.6,487.8L924.9,487.7L941.5,487.6L941.5,489.5L925.0,489.6L909.6,489.7L895.4,489.8L882.2,490.0L870.0,490.2L858.5,490.5L847.8,490.8L837.6,491.1L828.0,491.5L818.8,491.9L809.9,492.3L801.2,492.7L792.5,493.1L783.9,493.5L775.2,493.9L766.3,494.3L757.1,494.7L747.4,495.0L737.3,495.4L726.5,495.7L715.1,496.0L702.8,496.2L689.6,496.4L675.4,496.5L660.1,496.6L643.5,496.6Z" fill="url(#g109)"/>
<path class="s" d="M643.5,497.3L660.0,497.4L675.4,497.6L689.6,497.9L702.8,498.3L715.1,498.8L726.5,499.4L737.3,500.1L747.4,500.8L757.0,501.6L766.3,502.5L775.2,503.3L783.9,504.2L792.5,505.1L801.1,506.0L809.8,506.9L818.8,507.8L828.0,508.6L837.6,509.4L847.7,510.2L858.5,510.8L870.0,511.4L882.2,511.9L895.4,512.4L909.6,512.7L925.0,512.9L941.5,512.9L941.5,513.3L925.0,513.2L909.6,513.0L895.4,512.7L882.2,512.3L869.9,511.7L858.5,511.1L847.7,510.5L837.6,509.7L828.0,508.9L818.7,508.1L809.8,507.2L801.1,506.3L792.5,505.4L783.9,504.5L775.2,503.6L766.2,502.8L757.0,501.9L747.4,501.1L737.3,500.4L726.5,499.7L715.0,499.1L702.8,498.6L689.6,498.2L675.4,497.9L660.0,497.7L643.5,497.6Z" fill="url(#g110)"/>
<path class="s" d="M643.5,498.0L660.1,498.3L675.4,498.9L689.6,500.0L702.8,501.5L715.1,503.2L726.6,505.3L737.4,507.6L747.5,510.2L757.2,512.9L766.4,515.8L775.3,518.8L784.0,521.8L792.7,524.9L801.3,528.0L810.0,531.1L818.9,534.1L828.1,536.9L837.7,539.6L847.9,542.2L858.6,544.5L870.0,546.6L882.3,548.3L895.5,549.8L909.7,550.9L925.0,551.5L941.5,551.8L941.5,552.8L924.9,552.6L909.6,551.9L895.4,550.8L882.2,549.4L869.9,547.6L858.4,545.5L847.6,543.2L837.5,540.6L827.8,537.9L818.6,535.0L809.7,532.0L801.0,528.9L792.3,525.8L783.7,522.7L775.0,519.6L766.1,516.7L756.9,513.8L747.3,511.0L737.2,508.5L726.4,506.2L715.0,504.1L702.7,502.3L689.5,500.9L675.4,499.8L660.0,499.1L643.5,498.9Z" fill="url(#g111)"/>
<path class="s" d="M643.5,499.3L660.1,499.7L675.4,500.8L689.6,502.6L702.8,505.1L715.1,508.1L726.5,511.6L737.3,515.6L747.4,519.9L757.1,524.5L766.3,529.4L775.2,534.5L783.9,539.6L792.5,544.9L801.2,550.2L809.9,555.3L818.8,560.4L828.0,565.3L837.6,569.9L847.8,574.2L858.5,578.2L870.0,581.7L882.2,584.7L895.4,587.1L909.6,589.0L925.0,590.1L941.5,590.5L941.5,590.7L924.9,590.3L909.6,589.1L895.4,587.3L882.2,584.9L869.9,581.9L858.5,578.3L847.7,574.4L837.6,570.1L827.9,565.4L818.7,560.6L809.8,555.5L801.1,550.3L792.5,545.0L783.8,539.8L775.1,534.6L766.2,529.5L757.0,524.7L747.4,520.0L737.2,515.7L726.5,511.8L715.0,508.3L702.8,505.2L689.6,502.8L675.4,501.0L660.0,499.8L643.5,499.4Z" fill="url(#g112)"/>
<path class="s" d="M643.5,517.6L660.0,516.8L675.2,514.2L689.3,510.1L702.4,504.6L714.6,497.8L726.0,489.9L736.7,481.1L746.8,471.3L756.4,460.9L765.6,449.9L774.5,438.5L783.2,426.8L791.8,414.9L800.4,403.0L809.2,391.3L818.1,379.8L827.3,368.7L837.0,358.3L847.2,348.5L858.0,339.5L869.5,331.5L881.9,324.7L895.1,319.1L909.4,314.9L924.9,312.3L941.5,311.4L941.5,313.2L925.0,314.0L909.8,316.6L895.7,320.7L882.6,326.2L870.4,333.0L859.0,340.8L848.3,349.7L838.2,359.4L828.6,369.9L819.4,380.8L810.5,392.3L801.8,404.0L793.2,415.9L784.5,427.7L775.8,439.5L766.9,450.9L757.6,462.0L748.0,472.5L737.8,482.3L727.0,491.2L715.5,499.2L703.1,506.0L689.8,511.6L675.6,515.7L660.1,518.3L643.5,519.2Z" fill="url(#g113)"/>
<path class="s" d="M643.5,520.7L660.0,520.4L675.3,519.3L689.4,517.7L702.6,515.5L714.8,512.7L726.2,509.6L736.9,506.0L747.0,502.1L756.6,497.9L765.8,493.5L774.7,488.9L783.4,484.2L792.0,479.4L800.6,474.6L809.3,469.9L818.3,465.3L827.5,460.8L837.2,456.6L847.4,452.6L858.2,449.0L869.7,445.8L882.0,443.1L895.3,440.8L909.5,439.2L924.9,438.1L941.5,437.8L941.5,440.0L925.0,440.4L909.7,441.4L895.6,443.1L882.4,445.3L870.2,448.0L858.8,451.2L848.1,454.7L838.0,458.6L828.4,462.8L819.2,467.2L810.3,471.8L801.6,476.5L793.0,481.3L784.4,486.1L775.7,490.8L766.7,495.4L757.5,499.8L747.8,504.1L737.6,508.0L726.8,511.6L715.3,514.8L703.0,517.5L689.7,519.8L675.5,521.4L660.1,522.5L643.5,522.8Z" fill="url(#g114)"/>
<path class="s" d="M643.5,523.8L660.0,523.5L675.4,522.8L689.6,521.6L702.8,520.0L715.0,518.0L726.5,515.8L737.2,513.2L747.4,510.4L757.0,507.4L766.2,504.2L775.1,500.9L783.9,497.5L792.5,494.1L801.1,490.7L809.8,487.3L818.7,484.0L827.9,480.8L837.6,477.8L847.7,475.0L858.5,472.5L869.9,470.2L882.2,468.2L895.4,466.6L909.6,465.4L924.9,464.7L941.5,464.4L941.5,464.6L925.0,464.9L909.6,465.6L895.4,466.8L882.2,468.4L870.0,470.4L858.5,472.6L847.8,475.2L837.6,478.0L828.0,481.0L818.8,484.2L809.9,487.5L801.1,490.9L792.5,494.3L783.9,497.7L775.2,501.1L766.3,504.4L757.1,507.5L747.4,510.5L737.3,513.3L726.5,515.9L715.1,518.2L702.8,520.2L689.6,521.7L675.4,522.9L660.1,523.7L643.5,523.9Z" fill="url(#g115)"/>
<path class="s" d="M643.5,524.3L660.0,524.2L675.4,523.8L689.6,523.1L702.7,522.2L715.0,521.1L726.5,519.8L737.2,518.3L747.3,516.8L756.9,515.1L766.2,513.3L775.1,511.4L783.8,509.5L792.4,507.6L801.0,505.6L809.7,503.7L818.6,501.9L827.9,500.1L837.5,498.4L847.7,496.8L858.4,495.3L869.9,494.0L882.2,492.9L895.4,492.0L909.6,491.4L924.9,490.9L941.5,490.8L941.5,491.9L925.0,492.1L909.6,492.5L895.4,493.2L882.3,494.1L870.0,495.1L858.6,496.4L847.8,497.9L837.7,499.4L828.1,501.1L818.8,502.9L809.9,504.7L801.2,506.6L792.6,508.5L784.0,510.4L775.3,512.3L766.3,514.2L757.1,515.9L747.5,517.6L737.3,519.2L726.6,520.6L715.1,521.9L702.8,523.0L689.6,523.9L675.4,524.6L660.1,525.0L643.5,525.1Z" fill="url(#g116)"/>
<path class="s" d="M643.5,537.6L660.1,537.7L675.4,537.9L689.6,538.2L702.8,538.6L715.1,539.2L726.6,539.8L737.3,540.5L747.5,541.3L757.1,542.2L766.3,543.1L775.3,544.0L784.0,544.9L792.6,545.9L801.2,546.8L809.9,547.8L818.8,548.7L828.1,549.6L837.7,550.4L847.8,551.2L858.6,551.9L870.0,552.6L882.3,553.1L895.4,553.6L909.6,553.9L925.0,554.1L941.5,554.2L941.5,556.3L924.9,556.2L909.6,556.0L895.4,555.7L882.2,555.2L869.9,554.7L858.4,554.0L847.7,553.3L837.5,552.4L827.9,551.6L818.6,550.7L809.7,549.7L801.0,548.7L792.4,547.7L783.8,546.7L775.1,545.8L766.2,544.8L756.9,543.9L747.3,543.0L737.2,542.2L726.5,541.5L715.0,540.8L702.7,540.3L689.6,539.8L675.4,539.5L660.0,539.2L643.5,539.2Z" fill="url(#g118)"/>
<path class="s" d="M643.5,539.9L660.0,540.1L675.4,540.7L689.6,541.7L702.8,543.1L715.1,544.8L726.5,546.7L737.3,548.9L747.4,551.4L757.0,553.9L766.3,556.7L775.2,559.5L783.9,562.4L792.5,565.3L801.1,568.3L809.8,571.2L818.8,574.0L828.0,576.7L837.6,579.3L847.8,581.7L858.5,583.9L870.0,585.9L882.2,587.6L895.4,588.9L909.6,589.9L925.0,590.6L941.5,590.8L941.5,590.9L925.0,590.7L909.6,590.1L895.4,589.0L882.2,587.7L869.9,586.0L858.5,584.0L847.7,581.8L837.6,579.4L828.0,576.8L818.7,574.1L809.8,571.3L801.1,568.4L792.5,565.4L783.9,562.5L775.2,559.6L766.2,556.8L757.0,554.0L747.4,551.5L737.2,549.0L726.5,546.8L715.0,544.9L702.8,543.2L689.6,541.8L675.4,540.8L660.0,540.2L643.5,540.0Z" fill="url(#g119)"/>
<path class="s" d="M643.5,593.6L660.0,592.4L675.4,588.9L689.5,583.3L702.7,575.8L715.0,566.6L726.5,555.9L737.2,543.9L747.3,530.7L757.0,516.5L766.2,501.6L775.1,486.1L783.8,470.3L792.4,454.2L801.0,438.2L809.8,422.3L818.7,406.8L827.9,391.9L837.5,377.7L847.7,364.5L858.4,352.5L869.9,341.7L882.2,332.5L895.4,325.0L909.6,319.5L924.9,316.0L941.5,314.8L941.5,314.9L925.0,316.1L909.7,319.6L895.5,325.2L882.3,332.7L870.0,341.9L858.5,352.6L847.8,364.6L837.7,377.8L828.0,392.0L818.8,406.9L809.9,422.4L801.2,438.2L792.6,454.3L784.0,470.3L775.2,486.2L766.3,501.7L757.1,516.6L747.5,530.8L737.3,544.0L726.6,556.0L715.1,566.7L702.8,576.0L689.6,583.4L675.4,589.0L660.1,592.5L643.5,593.7Z" fill="url(#g127)"/>
<path class="s" d="M643.5,594.1L660.0,593.5L675.3,591.6L689.5,588.7L702.6,584.7L714.9,579.8L726.3,574.1L737.0,567.7L747.2,560.7L756.8,553.2L766.0,545.3L774.9,537.1L783.6,528.6L792.2,520.1L800.8,511.6L809.5,503.1L818.5,494.9L827.7,486.9L837.4,479.4L847.5,472.4L858.3,465.9L869.8,460.2L882.1,455.3L895.3,451.3L909.6,448.3L924.9,446.5L941.5,445.8L941.5,446.7L925.0,447.3L909.7,449.2L895.5,452.1L882.4,456.1L870.1,461.0L858.7,466.7L848.0,473.1L837.8,480.1L828.2,487.6L819.0,495.5L810.1,503.7L801.4,512.2L792.8,520.7L784.2,529.2L775.5,537.7L766.5,545.9L757.3,553.9L747.6,561.4L737.5,568.4L726.7,574.9L715.2,580.6L702.9,585.5L689.7,589.5L675.4,592.5L660.1,594.3L643.5,595.0Z" fill="url(#g128)"/>
<path class="s" d="M643.5,595.6L660.0,595.1L675.3,593.5L689.5,590.9L702.7,587.4L714.9,583.1L726.3,578.1L737.1,572.5L747.2,566.3L756.8,559.8L766.0,552.8L774.9,545.6L783.6,538.2L792.2,530.7L800.8,523.2L809.5,515.8L818.5,508.6L827.7,501.6L837.3,495.0L847.5,488.9L858.3,483.2L869.8,478.2L882.1,473.9L895.3,470.4L909.6,467.8L924.9,466.2L941.5,465.6L941.5,466.6L925.0,467.2L909.7,468.8L895.5,471.4L882.4,474.8L870.1,479.1L858.7,484.1L848.0,489.7L837.9,495.8L828.2,502.4L819.0,509.3L810.1,516.6L801.4,523.9L792.8,531.4L784.2,538.9L775.5,546.3L766.5,553.5L757.3,560.5L747.6,567.1L737.5,573.2L726.7,578.9L715.2,583.9L702.9,588.2L689.7,591.7L675.4,594.3L660.1,595.9L643.5,596.5Z" fill="url(#g129)"/>
<path class="s" d="M643.5,597.0L660.0,596.6L675.3,595.3L689.5,593.2L702.7,590.4L715.0,587.0L726.4,583.0L737.1,578.6L747.3,573.7L756.9,568.4L766.1,562.9L775.0,557.1L783.7,551.2L792.3,545.3L800.9,539.3L809.6,533.4L818.6,527.7L827.8,522.1L837.4,516.9L847.6,511.9L858.4,507.5L869.8,503.5L882.1,500.0L895.4,497.2L909.6,495.2L924.9,493.9L941.5,493.4L941.5,494.2L925.0,494.6L909.7,495.9L895.5,498.0L882.3,500.8L870.1,504.2L858.6,508.1L847.9,512.6L837.8,517.5L828.1,522.7L818.9,528.3L810.0,534.0L801.3,539.9L792.7,545.8L784.1,551.8L775.3,557.7L766.4,563.4L757.2,568.9L747.5,574.2L737.4,579.1L726.6,583.6L715.1,587.6L702.8,591.0L689.6,593.8L675.4,595.8L660.1,597.1L643.5,597.6Z" fill="url(#g130)"/>
<path class="s" d="M643.5,597.8L660.0,597.5L675.4,596.7L689.6,595.3L702.8,593.4L715.0,591.1L726.5,588.4L737.2,585.4L747.4,582.0L757.0,578.5L766.2,574.7L775.1,570.9L783.9,566.9L792.5,562.8L801.1,558.8L809.8,554.8L818.7,550.9L827.9,547.2L837.6,543.6L847.7,540.3L858.5,537.3L869.9,534.6L882.2,532.3L895.4,530.4L909.6,529.0L924.9,528.1L941.5,527.8L941.5,527.9L925.0,528.3L909.6,529.1L895.4,530.5L882.2,532.4L870.0,534.7L858.5,537.4L847.8,540.4L837.6,543.8L828.0,547.3L818.8,551.0L809.9,554.9L801.1,558.9L792.5,562.9L783.9,567.0L775.2,571.0L766.3,574.8L757.1,578.6L747.4,582.1L737.3,585.5L726.5,588.5L715.1,591.2L702.8,593.5L689.6,595.4L675.4,596.8L660.1,597.7L643.5,598.0Z" fill="url(#g131)"/>
<path class="s" d="M643.5,598.2L660.0,598.1L675.4,597.7L689.6,597.1L702.8,596.3L715.0,595.3L726.5,594.1L737.2,592.8L747.4,591.4L757.0,589.9L766.2,588.3L775.1,586.6L783.8,584.9L792.4,583.1L801.0,581.4L809.8,579.6L818.7,578.0L827.9,576.4L837.5,574.8L847.7,573.4L858.5,572.1L869.9,570.9L882.2,569.9L895.4,569.1L909.6,568.5L924.9,568.1L941.5,568.0L941.5,568.7L925.0,568.8L909.6,569.2L895.4,569.8L882.3,570.6L870.0,571.6L858.5,572.8L847.8,574.1L837.7,575.5L828.0,577.0L818.8,578.6L809.9,580.3L801.2,582.0L792.6,583.7L783.9,585.5L775.2,587.2L766.3,588.8L757.1,590.5L747.4,592.0L737.3,593.4L726.5,594.7L715.1,595.9L702.8,596.9L689.6,597.7L675.4,598.3L660.1,598.6L643.5,598.8Z" fill="url(#g132)"/>
<path class="s" d="M643.5,599.1L660.0,599.1L675.4,599.0L689.6,598.9L702.8,598.7L715.0,598.4L726.5,598.2L737.3,597.9L747.4,597.5L757.0,597.2L766.2,596.8L775.2,596.4L783.9,596.0L792.5,595.6L801.1,595.2L809.8,594.8L818.7,594.4L828.0,594.0L837.6,593.7L847.7,593.4L858.5,593.0L869.9,592.8L882.2,592.5L895.4,592.4L909.6,592.2L925.0,592.1L941.5,592.1L941.5,592.4L925.0,592.4L909.6,592.5L895.4,592.6L882.2,592.8L870.0,593.1L858.5,593.3L847.7,593.6L837.6,594.0L828.0,594.3L818.8,594.7L809.8,595.1L801.1,595.5L792.5,595.9L783.9,596.3L775.2,596.7L766.3,597.1L757.0,597.5L747.4,597.8L737.3,598.1L726.5,598.4L715.1,598.7L702.8,598.9L689.6,599.1L675.4,599.3L660.0,599.4L643.5,599.4Z" fill="url(#g133)"/>
<path class="s" d="M950.5,305.2L967.1,305.3L982.4,305.6L996.6,305.9L1009.8,306.4L1022.1,307.0L1033.5,307.8L1044.3,308.6L1054.4,309.4L1064.1,310.4L1073.3,311.4L1082.2,312.4L1090.9,313.5L1099.6,314.6L1108.2,315.6L1116.9,316.7L1125.8,317.7L1135.0,318.7L1144.6,319.6L1154.8,320.5L1165.5,321.3L1177.0,322.0L1189.2,322.7L1202.4,323.2L1216.6,323.5L1232.0,323.8L1248.5,323.8L1248.5,324.7L1231.9,324.6L1216.6,324.4L1202.4,324.0L1189.2,323.5L1176.9,322.9L1165.5,322.2L1154.7,321.4L1144.6,320.5L1134.9,319.5L1125.7,318.5L1116.8,317.5L1108.1,316.4L1099.4,315.4L1090.8,314.3L1082.1,313.2L1073.2,312.2L1064.0,311.2L1054.4,310.3L1044.2,309.4L1033.5,308.6L1022.0,307.9L1009.8,307.3L996.6,306.8L982.4,306.4L967.0,306.2L950.5,306.1Z" fill="url(#g135)"/>
<path class="s" d="M950.5,306.5L967.1,307.2L982.4,309.1L996.6,312.1L1009.8,316.2L1022.1,321.2L1033.6,327.0L1044.3,333.6L1054.5,340.8L1064.1,348.5L1073.4,356.6L1082.3,365.0L1091.0,373.7L1099.6,382.4L1108.2,391.1L1116.9,399.8L1125.9,408.2L1135.1,416.3L1144.7,424.0L1154.8,431.1L1165.6,437.7L1177.0,443.5L1189.3,448.5L1202.5,452.6L1216.7,455.6L1232.0,457.5L1248.5,458.2L1248.5,458.6L1231.9,457.9L1216.6,456.0L1202.4,453.0L1189.2,448.9L1176.9,443.9L1165.4,438.0L1154.6,431.4L1144.5,424.3L1134.9,416.6L1125.6,408.4L1116.7,400.0L1108.0,391.4L1099.4,382.6L1090.8,373.9L1082.1,365.3L1073.1,356.8L1063.9,348.7L1054.3,341.0L1044.2,333.9L1033.4,327.3L1022.0,321.5L1009.7,316.5L996.5,312.4L982.4,309.4L967.0,307.5L950.5,306.8Z" fill="url(#g136)"/>
<path class="s" d="M950.5,306.9L967.1,307.7L982.4,309.9L996.6,313.4L1009.8,318.2L1022.1,324.0L1033.5,330.7L1044.3,338.4L1054.4,346.7L1064.1,355.6L1073.3,365.1L1082.2,374.8L1090.9,384.9L1099.5,395.0L1108.1,405.1L1116.9,415.2L1125.8,424.9L1135.0,434.3L1144.6,443.3L1154.8,451.6L1165.5,459.2L1177.0,466.0L1189.2,471.8L1202.4,476.5L1216.6,480.1L1232.0,482.3L1248.5,483.0L1248.5,483.1L1231.9,482.3L1216.6,480.1L1202.4,476.6L1189.2,471.9L1176.9,466.1L1165.5,459.3L1154.7,451.7L1144.6,443.3L1134.9,434.4L1125.7,425.0L1116.8,415.2L1108.1,405.2L1099.5,395.0L1090.9,384.9L1082.1,374.9L1073.2,365.1L1064.0,355.7L1054.4,346.7L1044.2,338.4L1033.5,330.8L1022.0,324.0L1009.8,318.2L996.6,313.5L982.4,310.0L967.0,307.7L950.5,307.0Z" fill="url(#g137)"/>
<path class="s" d="M950.5,307.1L967.1,308.0L982.4,310.5L996.6,314.4L1009.8,319.7L1022.1,326.2L1033.6,333.8L1044.4,342.4L1054.5,351.8L1064.1,361.8L1073.4,372.4L1082.3,383.3L1091.0,394.6L1099.6,405.9L1108.2,417.3L1116.9,428.5L1125.9,439.5L1135.1,450.1L1144.7,460.1L1154.8,469.4L1165.6,478.0L1177.0,485.5L1189.3,492.1L1202.5,497.4L1216.7,501.3L1232.0,503.8L1248.5,504.6L1248.5,504.9L1231.9,504.1L1216.6,501.6L1202.4,497.7L1189.2,492.3L1176.9,485.8L1165.4,478.2L1154.6,469.7L1144.5,460.3L1134.9,450.3L1125.6,439.7L1116.7,428.7L1108.0,417.5L1099.4,406.1L1090.8,394.7L1082.1,383.5L1073.1,372.5L1063.9,362.0L1054.3,352.0L1044.2,342.6L1033.4,334.1L1022.0,326.5L1009.7,320.0L996.5,314.7L982.3,310.7L967.0,308.3L950.5,307.4Z" fill="url(#g138)"/>
<path class="s" d="M950.5,307.8L967.1,308.8L982.5,311.7L996.7,316.4L1009.9,322.7L1022.2,330.4L1033.7,339.4L1044.5,349.5L1054.7,360.5L1064.3,372.3L1073.5,384.8L1082.5,397.8L1091.2,411.0L1099.8,424.5L1108.4,437.9L1117.1,451.1L1126.0,464.1L1135.3,476.5L1144.9,488.3L1155.0,499.3L1165.7,509.4L1177.2,518.3L1189.4,526.0L1202.6,532.2L1216.7,536.9L1232.0,539.8L1248.5,540.8L1248.5,541.5L1231.9,540.5L1216.5,537.6L1202.3,532.9L1189.0,526.6L1176.7,518.9L1165.3,509.9L1154.5,499.8L1144.3,488.8L1134.7,476.9L1125.5,464.5L1116.5,451.5L1107.8,438.2L1099.2,424.8L1090.6,411.4L1081.9,398.1L1073.0,385.2L1063.8,372.8L1054.1,360.9L1044.0,349.9L1033.3,339.9L1021.9,330.9L1009.6,323.3L996.5,317.0L982.3,312.4L967.0,309.4L950.5,308.4Z" fill="url(#g139)"/>
<path class="s" d="M950.5,308.8L967.1,309.9L982.4,313.3L996.6,318.7L1009.8,325.9L1022.1,334.7L1033.6,345.0L1044.3,356.6L1054.5,369.3L1064.1,382.9L1073.3,397.2L1082.3,412.1L1091.0,427.3L1099.6,442.7L1108.2,458.2L1116.9,473.4L1125.8,488.3L1135.1,502.6L1144.7,516.2L1154.8,528.8L1165.6,540.4L1177.0,550.7L1189.3,559.5L1202.5,566.7L1216.7,572.1L1232.0,575.4L1248.5,576.6L1248.5,576.8L1231.9,575.7L1216.6,572.3L1202.4,566.9L1189.2,559.7L1176.9,550.9L1165.4,540.6L1154.7,529.0L1144.5,516.3L1134.9,502.7L1125.7,488.4L1116.7,473.5L1108.0,458.3L1099.4,442.8L1090.8,427.4L1082.1,412.2L1073.2,397.3L1064.0,383.0L1054.3,369.4L1044.2,356.7L1033.5,345.1L1022.0,334.8L1009.7,326.0L996.5,318.8L982.4,313.4L967.0,310.1L950.5,308.9Z" fill="url(#g140)"/>
<path class="s" d="M950.5,333.2L967.0,333.0L982.3,332.6L996.5,331.9L1009.7,330.9L1022.0,329.8L1033.4,328.4L1044.1,326.9L1054.3,325.2L1063.9,323.4L1073.1,321.6L1082.0,319.6L1090.7,317.6L1099.3,315.6L1107.9,313.5L1116.6,311.5L1125.6,309.6L1134.8,307.7L1144.5,305.9L1154.6,304.2L1165.4,302.7L1176.9,301.3L1189.2,300.2L1202.4,299.2L1216.6,298.5L1231.9,298.1L1248.5,297.9L1248.5,299.6L1232.0,299.8L1216.7,300.2L1202.5,300.9L1189.3,301.8L1177.0,303.0L1165.6,304.4L1154.9,305.9L1144.7,307.5L1135.1,309.3L1125.9,311.2L1117.0,313.1L1108.3,315.1L1099.7,317.2L1091.1,319.2L1082.4,321.2L1073.4,323.2L1064.2,325.0L1054.5,326.8L1044.4,328.5L1033.6,330.0L1022.1,331.4L1009.8,332.5L996.6,333.5L982.4,334.2L967.1,334.6L950.5,334.8Z" fill="url(#g141)"/>
<path class="s" d="M950.5,442.9L967.1,443.0L982.4,443.2L996.6,443.5L1009.8,443.9L1022.1,444.5L1033.5,445.1L1044.3,445.8L1054.4,446.5L1064.1,447.4L1073.3,448.2L1082.2,449.1L1090.9,450.0L1099.5,451.0L1108.1,451.9L1116.9,452.8L1125.8,453.7L1135.0,454.6L1144.6,455.4L1154.8,456.2L1165.5,456.9L1177.0,457.5L1189.2,458.0L1202.4,458.5L1216.6,458.8L1232.0,459.0L1248.5,459.0L1248.5,459.8L1231.9,459.8L1216.6,459.6L1202.4,459.2L1189.2,458.8L1176.9,458.3L1165.5,457.6L1154.7,456.9L1144.6,456.1L1134.9,455.3L1125.7,454.4L1116.8,453.5L1108.1,452.6L1099.5,451.6L1090.9,450.7L1082.1,449.8L1073.2,448.8L1064.0,448.0L1054.4,447.1L1044.2,446.4L1033.5,445.7L1022.0,445.0L1009.8,444.5L996.6,444.0L982.4,443.7L967.0,443.5L950.5,443.4Z" fill="url(#g143)"/>
<path class="s" d="M950.5,443.8L967.1,443.9L982.4,444.4L996.6,445.2L1009.8,446.3L1022.1,447.6L1033.5,449.1L1044.3,450.8L1054.4,452.7L1064.1,454.7L1073.3,456.8L1082.2,459.0L1090.9,461.2L1099.5,463.5L1108.2,465.8L1116.9,468.0L1125.8,470.2L1135.0,472.4L1144.6,474.4L1154.8,476.2L1165.5,477.9L1177.0,479.5L1189.2,480.8L1202.4,481.8L1216.6,482.6L1232.0,483.1L1248.5,483.3L1248.5,483.6L1231.9,483.5L1216.6,483.0L1202.4,482.2L1189.2,481.1L1176.9,479.8L1165.5,478.3L1154.7,476.6L1144.6,474.7L1134.9,472.7L1125.7,470.6L1116.8,468.4L1108.1,466.1L1099.5,463.8L1090.8,461.5L1082.1,459.3L1073.2,457.1L1064.0,455.0L1054.4,453.0L1044.2,451.1L1033.5,449.4L1022.0,447.9L1009.8,446.6L996.6,445.5L982.4,444.7L967.0,444.2L950.5,444.0Z" fill="url(#g144)"/>
<path class="s" d="M950.5,444.2L967.1,444.5L982.4,445.3L996.6,446.5L1009.8,448.1L1022.1,450.1L1033.5,452.5L1044.3,455.1L1054.4,458.0L1064.1,461.1L1073.3,464.4L1082.2,467.7L1090.9,471.2L1099.5,474.7L1108.2,478.2L1116.9,481.7L1125.8,485.1L1135.0,488.3L1144.6,491.4L1154.8,494.3L1165.5,496.9L1177.0,499.3L1189.2,501.3L1202.4,502.9L1216.6,504.2L1232.0,504.9L1248.5,505.2L1248.5,505.4L1231.9,505.2L1216.6,504.4L1202.4,503.2L1189.2,501.5L1176.9,499.5L1165.5,497.2L1154.7,494.5L1144.6,491.7L1134.9,488.6L1125.7,485.3L1116.8,481.9L1108.1,478.4L1099.5,474.9L1090.8,471.4L1082.1,468.0L1073.2,464.6L1064.0,461.3L1054.4,458.2L1044.2,455.3L1033.5,452.7L1022.0,450.3L1009.8,448.3L996.6,446.7L982.4,445.5L967.0,444.7L950.5,444.5Z" fill="url(#g145)"/>
<path class="s" d="M950.5,445.0L967.1,445.4L982.4,446.6L996.7,448.6L1009.9,451.2L1022.2,454.4L1033.7,458.2L1044.5,462.4L1054.6,467.0L1064.3,472.0L1073.5,477.2L1082.5,482.6L1091.2,488.1L1099.8,493.8L1108.4,499.4L1117.1,504.9L1126.0,510.3L1135.3,515.5L1144.9,520.4L1155.0,525.0L1165.7,529.2L1177.1,532.9L1189.4,536.1L1202.5,538.8L1216.7,540.7L1232.0,541.9L1248.5,542.3L1248.5,543.6L1231.9,543.1L1216.6,541.9L1202.3,540.0L1189.1,537.3L1176.8,534.1L1165.3,530.3L1154.5,526.1L1144.3,521.5L1134.7,516.5L1125.4,511.3L1116.5,505.9L1107.8,500.3L1099.2,494.7L1090.6,489.1L1081.9,483.6L1073.0,478.2L1063.8,473.0L1054.2,468.0L1044.0,463.4L1033.3,459.2L1021.9,455.5L1009.7,452.3L996.5,449.7L982.3,447.7L967.0,446.5L950.5,446.1Z" fill="url(#g146)"/>
<path class="s" d="M950.5,446.6L967.1,447.2L982.4,448.8L996.6,451.4L1009.8,454.9L1022.1,459.2L1033.6,464.3L1044.3,469.9L1054.5,476.1L1064.1,482.7L1073.3,489.7L1082.3,497.0L1091.0,504.4L1099.6,511.9L1108.2,519.4L1116.9,526.8L1125.9,534.1L1135.1,541.0L1144.7,547.7L1154.8,553.8L1165.6,559.5L1177.0,564.5L1189.3,568.8L1202.5,572.3L1216.7,574.9L1232.0,576.5L1248.5,577.1L1248.5,577.5L1231.9,576.9L1216.6,575.3L1202.4,572.7L1189.2,569.2L1176.9,564.8L1165.4,559.8L1154.6,554.2L1144.5,548.0L1134.9,541.3L1125.6,534.3L1116.7,527.1L1108.0,519.7L1099.4,512.1L1090.8,504.6L1082.1,497.2L1073.2,490.0L1063.9,483.0L1054.3,476.3L1044.2,470.2L1033.4,464.5L1022.0,459.5L1009.7,455.2L996.6,451.7L982.4,449.1L967.0,447.5L950.5,446.9Z" fill="url(#g147)"/>
<path class="s" d="M950.5,463.5L967.0,462.8L982.4,460.8L996.6,457.5L1009.8,453.1L1022.0,447.7L1033.5,441.5L1044.2,434.4L1054.4,426.7L1064.0,418.4L1073.2,409.7L1082.2,400.6L1090.9,391.3L1099.5,381.9L1108.1,372.5L1116.8,363.2L1125.7,354.2L1135.0,345.5L1144.6,337.2L1154.7,329.4L1165.5,322.4L1176.9,316.1L1189.2,310.7L1202.4,306.3L1216.6,303.1L1231.9,301.0L1248.5,300.3L1248.5,300.4L1232.0,301.1L1216.6,303.1L1202.4,306.4L1189.2,310.8L1177.0,316.2L1165.5,322.4L1154.8,329.5L1144.6,337.2L1135.0,345.5L1125.8,354.2L1116.8,363.3L1108.1,372.6L1099.5,382.0L1090.9,391.4L1082.2,400.6L1073.3,409.7L1064.0,418.4L1054.4,426.7L1044.3,434.5L1033.5,441.5L1022.1,447.8L1009.8,453.2L996.6,457.6L982.4,460.8L967.1,462.9L950.5,463.6Z" fill="url(#g148)"/>
<path class="s" d="M950.5,463.8L967.0,463.7L982.4,463.2L996.6,462.5L1009.8,461.5L1022.0,460.3L1033.5,458.9L1044.2,457.3L1054.4,455.6L1064.0,453.7L1073.2,451.7L1082.1,449.7L1090.8,447.6L1099.4,445.5L1108.0,443.4L1116.8,441.3L1125.7,439.3L1134.9,437.3L1144.6,435.4L1154.7,433.7L1165.5,432.1L1176.9,430.7L1189.2,429.5L1202.4,428.5L1216.6,427.8L1231.9,427.3L1248.5,427.2L1248.5,427.7L1232.0,427.9L1216.6,428.3L1202.4,429.1L1189.2,430.1L1177.0,431.3L1165.5,432.7L1154.8,434.3L1144.7,436.0L1135.0,437.9L1125.8,439.8L1116.9,441.8L1108.2,443.9L1099.6,446.0L1091.0,448.2L1082.2,450.2L1073.3,452.3L1064.1,454.2L1054.4,456.1L1044.3,457.8L1033.5,459.4L1022.1,460.8L1009.8,462.0L996.6,463.0L982.4,463.8L967.1,464.2L950.5,464.4Z" fill="url(#g149)"/>
<path class="s" d="M950.5,464.6L967.0,464.6L982.4,464.6L996.6,464.5L1009.8,464.4L1022.0,464.2L1033.5,464.0L1044.3,463.9L1054.4,463.6L1064.0,463.4L1073.3,463.2L1082.2,462.9L1090.9,462.7L1099.5,462.4L1108.1,462.2L1116.8,461.9L1125.7,461.7L1135.0,461.4L1144.6,461.2L1154.7,461.0L1165.5,460.8L1176.9,460.7L1189.2,460.5L1202.4,460.4L1216.6,460.3L1232.0,460.2L1248.5,460.2L1248.5,460.4L1232.0,460.4L1216.6,460.5L1202.4,460.5L1189.2,460.7L1177.0,460.8L1165.5,461.0L1154.7,461.2L1144.6,461.4L1135.0,461.6L1125.7,461.8L1116.8,462.1L1108.1,462.3L1099.5,462.6L1090.9,462.8L1082.2,463.1L1073.3,463.3L1064.0,463.5L1054.4,463.8L1044.3,464.0L1033.5,464.2L1022.1,464.3L1009.8,464.5L996.6,464.6L982.4,464.7L967.0,464.7L950.5,464.8Z" fill="url(#g150)"/>
<path class="s" d="M950.5,465.1L967.1,465.2L982.4,465.5L996.6,465.8L1009.8,466.4L1022.1,467.0L1033.5,467.7L1044.3,468.5L1054.4,469.4L1064.1,470.4L1073.3,471.4L1082.2,472.5L1090.9,473.6L1099.6,474.7L1108.2,475.8L1116.9,476.9L1125.8,477.9L1135.0,478.9L1144.6,479.9L1154.8,480.8L1165.5,481.6L1177.0,482.4L1189.2,483.0L1202.4,483.5L1216.6,483.9L1232.0,484.1L1248.5,484.2L1248.5,485.3L1231.9,485.2L1216.6,484.9L1202.4,484.6L1189.2,484.0L1176.9,483.4L1165.5,482.7L1154.7,481.8L1144.6,480.9L1134.9,479.9L1125.7,478.9L1116.8,477.8L1108.1,476.7L1099.4,475.6L1090.8,474.5L1082.1,473.4L1073.2,472.3L1064.0,471.3L1054.4,470.3L1044.2,469.4L1033.5,468.6L1022.0,467.8L1009.8,467.2L996.6,466.7L982.4,466.3L967.0,466.0L950.5,466.0Z" fill="url(#g151)"/>
<path class="s" d="M950.5,466.3L967.0,466.5L982.4,467.0L996.6,467.8L1009.8,468.8L1022.1,470.1L1033.5,471.6L1044.3,473.3L1054.4,475.2L1064.0,477.2L1073.3,479.3L1082.2,481.5L1090.9,483.7L1099.5,485.9L1108.1,488.2L1116.8,490.4L1125.8,492.6L1135.0,494.7L1144.6,496.7L1154.7,498.6L1165.5,500.3L1177.0,501.8L1189.2,503.1L1202.4,504.1L1216.6,504.9L1232.0,505.4L1248.5,505.6L1248.5,505.6L1232.0,505.5L1216.6,505.0L1202.4,504.2L1189.2,503.1L1176.9,501.8L1165.5,500.3L1154.7,498.6L1144.6,496.8L1135.0,494.8L1125.7,492.7L1116.8,490.5L1108.1,488.3L1099.5,486.0L1090.9,483.7L1082.2,481.5L1073.2,479.3L1064.0,477.2L1054.4,475.2L1044.3,473.4L1033.5,471.7L1022.0,470.2L1009.8,468.9L996.6,467.8L982.4,467.0L967.0,466.5L950.5,466.4Z" fill="url(#g152)"/>
<path class="s" d="M950.5,466.5L967.1,466.8L982.4,467.8L996.6,469.4L1009.8,471.4L1022.1,474.0L1033.5,477.0L1044.3,480.4L1054.4,484.0L1064.1,488.0L1073.3,492.1L1082.2,496.4L1090.9,500.9L1099.6,505.3L1108.2,509.8L1116.9,514.2L1125.8,518.5L1135.0,522.7L1144.6,526.6L1154.8,530.3L1165.5,533.7L1177.0,536.6L1189.2,539.2L1202.4,541.3L1216.6,542.8L1232.0,543.8L1248.5,544.2L1248.5,544.4L1231.9,544.1L1216.6,543.1L1202.4,541.5L1189.2,539.4L1176.9,536.9L1165.5,533.9L1154.7,530.5L1144.6,526.9L1134.9,522.9L1125.7,518.8L1116.8,514.4L1108.1,510.0L1099.4,505.5L1090.8,501.1L1082.1,496.6L1073.2,492.3L1064.0,488.2L1054.4,484.2L1044.2,480.6L1033.5,477.2L1022.0,474.2L1009.8,471.7L996.6,469.6L982.4,468.0L967.0,467.0L950.5,466.7Z" fill="url(#g153)"/>
<path class="s" d="M950.5,466.8L967.1,467.3L982.4,468.7L996.6,470.9L1009.8,473.9L1022.1,477.6L1033.5,481.8L1044.3,486.6L1054.4,491.9L1064.1,497.5L1073.3,503.4L1082.2,509.6L1090.9,515.9L1099.5,522.3L1108.2,528.7L1116.9,535.0L1125.8,541.1L1135.0,547.1L1144.6,552.7L1154.8,557.9L1165.5,562.7L1177.0,567.0L1189.2,570.6L1202.4,573.6L1216.6,575.8L1232.0,577.2L1248.5,577.7L1248.5,577.9L1231.9,577.4L1216.6,576.0L1202.4,573.8L1189.2,570.8L1176.9,567.1L1165.5,562.9L1154.7,558.1L1144.6,552.8L1134.9,547.2L1125.7,541.3L1116.8,535.1L1108.1,528.8L1099.5,522.4L1090.8,516.0L1082.1,509.7L1073.2,503.5L1064.0,497.6L1054.4,492.0L1044.2,486.7L1033.5,481.9L1022.0,477.7L1009.8,474.0L996.6,471.0L982.4,468.8L967.0,467.4L950.5,467.0Z" fill="url(#g154)"/>
<path class="s" d="M950.5,484.0L967.0,483.2L982.3,480.9L996.4,477.3L1009.5,472.4L1021.8,466.4L1033.2,459.4L1043.9,451.5L1054.0,442.8L1063.6,433.6L1072.8,423.8L1081.7,413.7L1090.4,403.3L1099.0,392.7L1107.6,382.2L1116.3,371.8L1125.3,361.6L1134.5,351.8L1144.1,342.5L1154.3,333.8L1165.1,325.8L1176.6,318.8L1189.0,312.7L1202.2,307.7L1216.5,304.1L1231.9,301.8L1248.5,301.0L1248.5,302.4L1232.0,303.2L1216.8,305.4L1202.6,309.1L1189.5,314.0L1177.3,320.0L1165.9,327.0L1155.2,334.8L1145.1,343.5L1135.4,352.7L1126.2,362.5L1117.3,372.6L1108.6,383.0L1100.0,393.5L1091.4,404.1L1082.7,414.5L1073.7,424.7L1064.5,434.5L1054.8,443.8L1044.6,452.4L1033.9,460.4L1022.3,467.4L1010.0,473.5L996.8,478.4L982.5,482.1L967.1,484.4L950.5,485.2Z" fill="url(#g155)"/>
<path class="s" d="M950.5,486.9L967.0,486.6L982.3,485.9L996.4,484.8L1009.6,483.2L1021.8,481.3L1033.2,479.1L1043.9,476.7L1054.0,474.0L1063.6,471.0L1072.8,468.0L1081.6,464.8L1090.3,461.5L1098.9,458.2L1107.6,454.9L1116.3,451.6L1125.2,448.4L1134.5,445.3L1144.2,442.4L1154.3,439.6L1165.1,437.1L1176.7,434.9L1189.0,433.0L1202.3,431.5L1216.5,430.3L1231.9,429.6L1248.5,429.3L1248.5,432.7L1232.0,432.9L1216.7,433.7L1202.6,434.8L1189.4,436.3L1177.2,438.2L1165.8,440.4L1155.1,442.8L1145.0,445.5L1135.5,448.4L1126.3,451.4L1117.4,454.6L1108.7,457.9L1100.1,461.1L1091.4,464.4L1082.7,467.7L1073.8,470.9L1064.5,473.9L1054.8,476.8L1044.6,479.6L1033.8,482.0L1022.3,484.2L1010.0,486.1L996.7,487.7L982.5,488.8L967.1,489.5L950.5,489.8Z" fill="url(#g156)"/>
<path class="s" d="M950.5,491.4L967.0,491.2L982.4,490.9L996.6,490.3L1009.7,489.4L1022.0,488.4L1033.5,487.3L1044.2,486.0L1054.3,484.5L1063.9,483.0L1073.1,481.4L1082.1,479.7L1090.8,478.0L1099.4,476.3L1108.0,474.5L1116.7,472.8L1125.6,471.1L1134.9,469.5L1144.5,467.9L1154.6,466.5L1165.4,465.2L1176.9,464.0L1189.2,463.0L1202.4,462.2L1216.6,461.6L1231.9,461.2L1248.5,461.1L1248.5,462.7L1232.0,462.8L1216.7,463.2L1202.5,463.8L1189.3,464.6L1177.0,465.6L1165.6,466.7L1154.8,468.0L1144.7,469.4L1135.1,470.9L1125.9,472.5L1117.0,474.1L1108.2,475.8L1099.6,477.5L1091.0,479.2L1082.3,480.9L1073.4,482.5L1064.1,484.1L1054.5,485.6L1044.3,487.0L1033.6,488.3L1022.1,489.5L1009.8,490.5L996.6,491.2L982.4,491.8L967.1,492.2L950.5,492.3Z" fill="url(#g157)"/>
<path class="s" d="M950.5,492.8L967.0,492.8L982.4,492.7L996.6,492.5L1009.8,492.4L1022.0,492.1L1033.5,491.9L1044.3,491.5L1054.4,491.2L1064.0,490.9L1073.3,490.5L1082.2,490.1L1090.9,489.7L1099.5,489.3L1108.1,488.9L1116.8,488.5L1125.7,488.1L1135.0,487.7L1144.6,487.4L1154.7,487.0L1165.5,486.7L1176.9,486.5L1189.2,486.2L1202.4,486.0L1216.6,485.9L1232.0,485.8L1248.5,485.8L1248.5,486.0L1232.0,486.0L1216.6,486.1L1202.4,486.3L1189.2,486.4L1177.0,486.7L1165.5,486.9L1154.7,487.2L1144.6,487.6L1135.0,487.9L1125.8,488.3L1116.8,488.7L1108.1,489.1L1099.5,489.5L1090.9,489.9L1082.2,490.3L1073.3,490.7L1064.0,491.0L1054.4,491.4L1044.3,491.7L1033.5,492.0L1022.1,492.3L1009.8,492.5L996.6,492.7L982.4,492.8L967.0,492.9L950.5,492.9Z" fill="url(#g158)"/>
<path class="s" d="M950.5,493.1L967.0,493.1L982.4,493.3L996.6,493.6L1009.8,493.9L1022.1,494.3L1033.5,494.8L1044.3,495.3L1054.4,495.9L1064.0,496.6L1073.3,497.3L1082.2,498.0L1090.9,498.7L1099.5,499.4L1108.1,500.1L1116.8,500.9L1125.8,501.6L1135.0,502.3L1144.6,502.9L1154.7,503.5L1165.5,504.0L1177.0,504.5L1189.2,504.9L1202.4,505.3L1216.6,505.5L1232.0,505.7L1248.5,505.8L1248.5,506.0L1232.0,506.0L1216.6,505.8L1202.4,505.5L1189.2,505.2L1176.9,504.8L1165.5,504.3L1154.7,503.7L1144.6,503.1L1135.0,502.5L1125.7,501.8L1116.8,501.1L1108.1,500.4L1099.5,499.6L1090.9,498.9L1082.2,498.2L1073.2,497.5L1064.0,496.8L1054.4,496.2L1044.3,495.5L1033.5,495.0L1022.0,494.5L1009.8,494.1L996.6,493.7L982.4,493.5L967.0,493.3L950.5,493.3Z" fill="url(#g159)"/>
<path class="s" d="M950.5,493.6L967.1,493.8L982.4,494.4L996.6,495.4L1009.8,496.8L1022.1,498.5L1033.6,500.5L1044.3,502.7L1054.5,505.1L1064.1,507.7L1073.3,510.5L1082.3,513.3L1091.0,516.2L1099.6,519.2L1108.2,522.1L1116.9,525.0L1125.8,527.9L1135.0,530.6L1144.7,533.2L1154.8,535.6L1165.5,537.8L1177.0,539.8L1189.3,541.5L1202.4,542.9L1216.6,543.9L1232.0,544.5L1248.5,544.8L1248.5,545.4L1231.9,545.1L1216.6,544.5L1202.4,543.5L1189.2,542.1L1176.9,540.4L1165.4,538.4L1154.7,536.2L1144.5,533.8L1134.9,531.2L1125.7,528.4L1116.7,525.6L1108.0,522.6L1099.4,519.7L1090.8,516.7L1082.1,513.8L1073.2,511.0L1064.0,508.2L1054.3,505.6L1044.2,503.2L1033.5,501.0L1022.0,499.0L1009.7,497.3L996.6,495.9L982.4,494.9L967.0,494.3L950.5,494.0Z" fill="url(#g160)"/>
<path class="s" d="M950.5,494.3L967.1,494.7L982.4,495.7L996.6,497.4L1009.8,499.6L1022.1,502.4L1033.5,505.6L1044.3,509.2L1054.4,513.2L1064.1,517.5L1073.3,521.9L1082.2,526.6L1090.9,531.4L1099.5,536.2L1108.2,541.0L1116.9,545.8L1125.8,550.4L1135.0,554.9L1144.6,559.1L1154.8,563.1L1165.5,566.7L1177.0,569.9L1189.2,572.7L1202.4,574.9L1216.6,576.6L1232.0,577.7L1248.5,578.0L1248.5,578.3L1231.9,577.9L1216.6,576.8L1202.4,575.2L1189.2,572.9L1176.9,570.1L1165.5,566.9L1154.7,563.3L1144.6,559.3L1134.9,555.1L1125.7,550.6L1116.8,545.9L1108.1,541.2L1099.5,536.3L1090.8,531.5L1082.1,526.7L1073.2,522.1L1064.0,517.6L1054.4,513.4L1044.2,509.4L1033.5,505.8L1022.0,502.5L1009.8,499.8L996.6,497.5L982.4,495.9L967.0,494.8L950.5,494.4Z" fill="url(#g161)"/>
<path class="s" d="M950.5,511.2L967.0,510.3L982.3,507.7L996.5,503.6L1009.7,498.0L1021.9,491.1L1033.3,483.2L1044.1,474.2L1054.2,464.3L1063.8,453.8L1073.0,442.7L1081.9,431.1L1090.7,419.3L1099.3,407.3L1107.9,395.3L1116.6,383.5L1125.5,371.9L1134.8,360.8L1144.4,350.2L1154.6,340.4L1165.3,331.4L1176.8,323.3L1189.1,316.5L1202.3,310.9L1216.6,306.7L1231.9,304.1L1248.5,303.2L1248.5,303.7L1232.0,304.6L1216.7,307.2L1202.5,311.4L1189.3,317.0L1177.1,323.8L1165.7,331.8L1154.9,340.8L1144.8,350.6L1135.2,361.2L1126.0,372.3L1117.1,383.8L1108.3,395.7L1099.7,407.6L1091.1,419.6L1082.4,431.5L1073.5,443.0L1064.2,454.2L1054.6,464.7L1044.4,474.6L1033.7,483.6L1022.2,491.6L1009.9,498.5L996.7,504.1L982.4,508.3L967.1,510.9L950.5,511.8Z" fill="url(#g162)"/>
<path class="s" d="M950.5,512.4L967.0,512.0L982.3,511.0L996.5,509.5L1009.7,507.4L1022.0,504.8L1033.4,501.8L1044.1,498.5L1054.2,494.8L1063.9,490.8L1073.1,486.7L1082.0,482.3L1090.7,477.9L1099.3,473.4L1107.9,468.9L1116.6,464.5L1125.6,460.2L1134.8,456.0L1144.4,452.0L1154.6,448.3L1165.4,445.0L1176.9,442.0L1189.1,439.4L1202.4,437.3L1216.6,435.7L1231.9,434.8L1248.5,434.4L1248.5,435.3L1232.0,435.6L1216.7,436.6L1202.5,438.1L1189.3,440.2L1177.0,442.8L1165.6,445.8L1154.9,449.1L1144.8,452.8L1135.1,456.8L1125.9,460.9L1117.0,465.3L1108.3,469.7L1099.7,474.2L1091.1,478.7L1082.4,483.1L1073.4,487.4L1064.2,491.6L1054.6,495.6L1044.4,499.3L1033.6,502.6L1022.1,505.6L1009.9,508.2L996.6,510.3L982.4,511.9L967.1,512.9L950.5,513.2Z" fill="url(#g163)"/>
<path class="s" d="M950.5,513.6L967.0,513.4L982.4,512.8L996.6,511.7L1009.8,510.4L1022.0,508.7L1033.5,506.8L1044.2,504.6L1054.4,502.3L1064.0,499.7L1073.2,497.0L1082.1,494.3L1090.9,491.4L1099.5,488.5L1108.1,485.6L1116.8,482.8L1125.7,480.0L1134.9,477.3L1144.6,474.8L1154.7,472.4L1165.5,470.2L1176.9,468.3L1189.2,466.6L1202.4,465.3L1216.6,464.3L1231.9,463.7L1248.5,463.4L1248.5,463.7L1232.0,463.9L1216.6,464.5L1202.4,465.5L1189.2,466.9L1177.0,468.5L1165.5,470.4L1154.8,472.6L1144.6,475.0L1135.0,477.5L1125.8,480.2L1116.9,483.0L1108.1,485.8L1099.5,488.7L1090.9,491.6L1082.2,494.4L1073.3,497.2L1064.1,499.9L1054.4,502.5L1044.3,504.8L1033.5,507.0L1022.1,508.9L1009.8,510.6L996.6,511.9L982.4,512.9L967.1,513.5L950.5,513.8Z" fill="url(#g164)"/>
<path class="s" d="M950.5,513.9L967.0,513.8L982.4,513.4L996.6,512.9L1009.8,512.1L1022.0,511.2L1033.5,510.1L1044.3,508.9L1054.4,507.6L1064.0,506.2L1073.2,504.7L1082.2,503.2L1090.9,501.6L1099.5,500.0L1108.1,498.4L1116.8,496.8L1125.7,495.3L1135.0,493.8L1144.6,492.4L1154.7,491.1L1165.5,489.9L1176.9,488.8L1189.2,487.9L1202.4,487.2L1216.6,486.6L1232.0,486.3L1248.5,486.1L1248.5,486.3L1232.0,486.4L1216.6,486.8L1202.4,487.3L1189.2,488.1L1177.0,489.0L1165.5,490.0L1154.7,491.2L1144.6,492.5L1135.0,493.9L1125.8,495.4L1116.8,497.0L1108.1,498.5L1099.5,500.1L1090.9,501.7L1082.2,503.3L1073.3,504.8L1064.0,506.3L1054.4,507.7L1044.3,509.0L1033.5,510.2L1022.1,511.3L1009.8,512.2L996.6,513.0L982.4,513.5L967.0,513.9L950.5,514.0Z" fill="url(#g165)"/>
<path class="s" d="M950.5,526.5L967.1,526.6L982.4,526.8L996.6,527.2L1009.8,527.8L1022.1,528.4L1033.5,529.2L1044.3,530.0L1054.4,530.9L1064.1,531.9L1073.3,532.9L1082.2,534.0L1090.9,535.1L1099.6,536.3L1108.2,537.4L1116.9,538.5L1125.8,539.6L1135.0,540.6L1144.6,541.6L1154.8,542.5L1165.5,543.4L1177.0,544.1L1189.2,544.7L1202.4,545.3L1216.6,545.7L1232.0,545.9L1248.5,546.0L1248.5,546.9L1231.9,546.8L1216.6,546.6L1202.4,546.2L1189.2,545.7L1176.9,545.0L1165.5,544.3L1154.7,543.4L1144.6,542.5L1134.9,541.5L1125.7,540.4L1116.8,539.4L1108.1,538.3L1099.4,537.1L1090.8,536.0L1082.1,534.9L1073.2,533.8L1064.0,532.8L1054.4,531.8L1044.2,530.8L1033.5,530.0L1022.0,529.2L1009.8,528.6L996.6,528.1L982.4,527.7L967.0,527.4L950.5,527.4Z" fill="url(#g167)"/>
<path class="s" d="M950.5,527.8L967.1,528.0L982.4,528.6L996.6,529.6L1009.8,531.0L1022.1,532.7L1033.5,534.6L1044.3,536.8L1054.4,539.2L1064.1,541.8L1073.3,544.5L1082.2,547.3L1090.9,550.2L1099.5,553.1L1108.1,556.0L1116.9,558.9L1125.8,561.7L1135.0,564.4L1144.6,567.0L1154.8,569.4L1165.5,571.6L1177.0,573.6L1189.2,575.2L1202.4,576.6L1216.6,577.6L1232.0,578.2L1248.5,578.5L1248.5,578.7L1231.9,578.5L1216.6,577.8L1202.4,576.8L1189.2,575.5L1176.9,573.8L1165.5,571.8L1154.7,569.6L1144.6,567.2L1134.9,564.7L1125.7,561.9L1116.8,559.1L1108.1,556.2L1099.5,553.3L1090.9,550.4L1082.1,547.5L1073.2,544.7L1064.0,542.0L1054.4,539.4L1044.2,537.0L1033.5,534.8L1022.0,532.8L1009.8,531.2L996.6,529.8L982.4,528.8L967.0,528.2L950.5,527.9Z" fill="url(#g168)"/>
<path class="s" d="M950.5,585.6L967.0,584.4L982.3,580.9L996.5,575.3L1009.7,567.8L1022.0,558.6L1033.4,547.8L1044.2,535.8L1054.3,522.6L1064.0,508.4L1073.2,493.4L1082.1,477.9L1090.8,462.0L1099.4,446.0L1108.0,429.9L1116.8,414.0L1125.7,398.5L1134.9,383.5L1144.5,369.4L1154.7,356.1L1165.4,344.0L1176.9,333.3L1189.2,324.1L1202.4,316.6L1216.6,311.0L1231.9,307.5L1248.5,306.3L1248.5,306.4L1232.0,307.6L1216.6,311.1L1202.5,316.7L1189.3,324.2L1177.0,333.4L1165.5,344.2L1154.8,356.2L1144.7,369.5L1135.0,383.6L1125.8,398.6L1116.9,414.1L1108.2,430.0L1099.6,446.0L1091.0,462.1L1082.2,478.0L1073.3,493.5L1064.1,508.5L1054.5,522.7L1044.3,535.9L1033.6,548.0L1022.1,558.7L1009.8,567.9L996.6,575.5L982.4,581.1L967.1,584.5L950.5,585.8Z" fill="url(#g176)"/>
<path class="s" d="M950.5,586.5L967.0,585.8L982.3,584.0L996.4,581.0L1009.5,577.1L1021.7,572.3L1033.1,566.6L1043.9,560.3L1054.0,553.3L1063.6,545.9L1072.8,538.0L1081.7,529.8L1090.4,521.4L1099.0,513.0L1107.6,504.5L1116.3,496.1L1125.3,487.9L1134.5,480.0L1144.2,472.4L1154.4,465.4L1165.1,459.0L1176.7,453.3L1189.0,448.5L1202.2,444.5L1216.5,441.5L1231.9,439.7L1248.5,439.0L1248.5,440.4L1232.0,441.1L1216.7,442.9L1202.6,445.8L1189.5,449.8L1177.2,454.6L1165.8,460.3L1155.1,466.6L1145.0,473.6L1135.4,481.1L1126.2,488.9L1117.3,497.1L1108.6,505.5L1100.0,514.0L1091.4,522.5L1082.7,530.9L1073.7,539.1L1064.5,547.0L1054.8,554.5L1044.7,561.5L1033.9,567.9L1022.4,573.6L1010.0,578.5L996.8,582.5L982.5,585.5L967.1,587.3L950.5,588.0Z" fill="url(#g177)"/>
<path class="s" d="M950.5,588.7L967.0,588.2L982.4,586.7L996.6,584.2L1009.7,580.9L1022.0,576.8L1033.4,572.0L1044.2,566.7L1054.3,560.8L1063.9,554.5L1073.2,547.9L1082.1,541.0L1090.8,534.0L1099.4,526.9L1108.0,519.8L1116.7,512.7L1125.6,505.8L1134.9,499.2L1144.5,492.9L1154.6,487.1L1165.4,481.7L1176.9,476.9L1189.2,472.8L1202.4,469.5L1216.6,467.0L1231.9,465.5L1248.5,464.9L1248.5,465.3L1232.0,465.9L1216.7,467.4L1202.5,469.9L1189.3,473.2L1177.0,477.3L1165.6,482.0L1154.8,487.4L1144.7,493.2L1135.1,499.5L1125.9,506.1L1116.9,513.0L1108.2,520.0L1099.6,527.1L1091.0,534.3L1082.3,541.3L1073.4,548.2L1064.1,554.8L1054.5,561.1L1044.3,567.0L1033.6,572.3L1022.1,577.1L1009.8,581.2L996.6,584.5L982.4,587.0L967.1,588.5L950.5,589.0Z" fill="url(#g178)"/>
<path class="s" d="M950.5,589.2L967.0,588.8L982.4,587.5L996.6,585.5L1009.8,582.7L1022.0,579.4L1033.5,575.4L1044.2,571.0L1054.4,566.2L1064.0,561.0L1073.2,555.6L1082.1,549.9L1090.9,544.1L1099.5,538.3L1108.1,532.4L1116.8,526.6L1125.7,520.9L1134.9,515.5L1144.6,510.3L1154.7,505.5L1165.5,501.1L1176.9,497.2L1189.2,493.8L1202.4,491.1L1216.6,489.0L1231.9,487.7L1248.5,487.3L1248.5,487.4L1232.0,487.9L1216.6,489.2L1202.4,491.2L1189.2,493.9L1177.0,497.3L1165.5,501.2L1154.8,505.6L1144.6,510.4L1135.0,515.6L1125.8,521.1L1116.9,526.7L1108.2,532.5L1099.5,538.4L1090.9,544.2L1082.2,550.0L1073.3,555.7L1064.1,561.2L1054.4,566.3L1044.3,571.2L1033.5,575.6L1022.1,579.5L1009.8,582.8L996.6,585.6L982.4,587.6L967.1,588.9L950.5,589.3Z" fill="url(#g179)"/>
<path class="s" d="M950.5,589.5L967.0,589.2L982.4,588.3L996.6,587.0L1009.8,585.2L1022.0,583.1L1033.5,580.5L1044.2,577.7L1054.4,574.5L1064.0,571.2L1073.2,567.6L1082.1,563.9L1090.8,560.2L1099.5,556.4L1108.1,552.5L1116.8,548.8L1125.7,545.1L1134.9,541.6L1144.6,538.2L1154.7,535.1L1165.5,532.2L1176.9,529.6L1189.2,527.5L1202.4,525.7L1216.6,524.3L1231.9,523.5L1248.5,523.2L1248.5,523.4L1232.0,523.7L1216.6,524.5L1202.4,525.9L1189.2,527.6L1177.0,529.8L1165.5,532.4L1154.8,535.2L1144.6,538.4L1135.0,541.7L1125.8,545.3L1116.9,548.9L1108.2,552.7L1099.5,556.5L1090.9,560.3L1082.2,564.1L1073.3,567.8L1064.1,571.3L1054.4,574.7L1044.3,577.8L1033.5,580.7L1022.1,583.2L1009.8,585.4L996.6,587.2L982.4,588.5L967.1,589.4L950.5,589.6Z" fill="url(#g180)"/>
<path class="s" d="M950.5,589.8L967.0,589.7L982.4,589.3L996.6,588.7L1009.8,587.9L1022.0,586.9L1033.5,585.7L1044.2,584.4L1054.4,582.9L1064.0,581.3L1073.2,579.7L1082.1,578.0L1090.9,576.2L1099.5,574.5L1108.1,572.7L1116.8,570.9L1125.7,569.2L1134.9,567.6L1144.6,566.0L1154.7,564.6L1165.5,563.2L1176.9,562.0L1189.2,561.0L1202.4,560.2L1216.6,559.6L1231.9,559.2L1248.5,559.1L1248.5,559.4L1232.0,559.5L1216.6,559.9L1202.4,560.5L1189.2,561.3L1177.0,562.4L1165.5,563.5L1154.8,564.9L1144.6,566.3L1135.0,567.9L1125.8,569.5L1116.9,571.2L1108.1,573.0L1099.5,574.8L1090.9,576.5L1082.2,578.3L1073.3,580.0L1064.1,581.6L1054.4,583.2L1044.3,584.7L1033.5,586.0L1022.1,587.2L1009.8,588.2L996.6,589.0L982.4,589.6L967.1,590.0L950.5,590.2Z" fill="url(#g181)"/>
<path class="s" d="M950.5,590.8L967.0,590.7L982.4,590.6L996.6,590.4L1009.8,590.1L1022.0,589.8L1033.5,589.4L1044.2,588.9L1054.4,588.4L1064.0,587.9L1073.2,587.3L1082.1,586.7L1090.8,586.1L1099.5,585.5L1108.1,584.9L1116.8,584.3L1125.7,583.7L1134.9,583.2L1144.6,582.7L1154.7,582.2L1165.5,581.7L1176.9,581.3L1189.2,581.0L1202.4,580.7L1216.6,580.5L1231.9,580.3L1248.5,580.3L1248.5,581.9L1232.0,581.9L1216.6,582.0L1202.4,582.2L1189.2,582.5L1177.0,582.8L1165.5,583.2L1154.8,583.7L1144.6,584.1L1135.0,584.7L1125.8,585.2L1116.9,585.8L1108.2,586.3L1099.5,586.9L1090.9,587.5L1082.2,588.1L1073.3,588.7L1064.1,589.2L1054.4,589.7L1044.3,590.2L1033.5,590.6L1022.1,591.0L1009.8,591.4L996.6,591.6L982.4,591.8L967.1,592.0L950.5,592.0Z" fill="url(#g182)"/>
</g>
<g fill-opacity="0.4" stroke-opacity=".4" stroke-width=".3">
<path d="M30.0,491.0L46.1,490.2L61.0,487.9L74.8,484.3L87.6,479.3L99.5,473.3L110.6,466.3L121.1,458.3L131.0,449.5L140.5,440.1L149.6,430.2L158.4,419.8L167.1,409.1L175.7,398.3L184.3,387.4L193.1,376.6L202.1,366.0L211.4,355.8L221.2,346.1L231.6,337.0L242.6,328.6L254.4,321.1L267.0,314.7L280.6,309.5L295.3,305.6L311.0,303.2L328.0,302.3L328.0,310.7L311.9,311.5L297.0,313.8L283.2,317.4L270.4,322.4L258.5,328.4L247.4,335.5L236.9,343.4L227.0,352.2L217.5,361.6L208.4,371.5L199.6,381.9L190.9,392.6L182.3,403.5L173.7,414.3L164.9,425.1L155.9,435.7L146.6,445.9L136.8,455.7L126.4,464.8L115.4,473.2L103.6,480.6L91.0,487.0L77.4,492.3L62.7,496.2L47.0,498.6L30.0,499.4Z" fill="url(#g15)" stroke="url(#g15)"/>
<path d="M30.0,499.4L46.3,499.1L61.4,498.0L75.4,496.4L88.4,494.2L100.4,491.5L111.6,488.4L122.1,484.9L132.0,481.0L141.5,476.9L150.5,472.5L159.3,468.0L167.9,463.3L176.5,458.5L185.1,453.7L193.9,448.9L202.9,444.3L212.2,439.7L222.1,435.4L232.4,431.4L243.4,427.7L255.1,424.5L267.7,421.7L281.1,419.4L295.6,417.7L311.2,416.6L328.0,416.3L328.0,427.4L311.7,427.8L296.6,428.8L282.7,430.4L269.8,432.5L257.8,435.2L246.6,438.2L236.1,441.7L226.1,445.4L216.7,449.5L207.6,453.8L198.8,458.3L190.1,462.9L181.5,467.6L172.8,472.3L164.0,477.0L155.0,481.5L145.6,486.0L135.8,490.2L125.4,494.1L114.4,497.7L102.7,500.9L90.2,503.7L76.8,505.9L62.3,507.6L46.8,508.6L30.0,509.0Z" fill="url(#g16)" stroke="url(#g16)"/>
<path d="M30.0,509.0L46.5,508.8L61.7,508.1L75.9,507.1L89.0,505.7L101.2,504.0L112.5,502.1L123.2,499.9L133.3,497.5L142.8,494.9L152.0,492.2L160.9,489.3L169.6,486.4L178.2,483.5L186.8,480.5L195.6,477.6L204.5,474.7L213.8,472.0L223.5,469.3L233.7,466.9L244.5,464.7L256.1,462.7L268.4,461.0L281.7,459.6L296.0,458.5L311.4,457.9L328.0,457.7L328.0,462.5L311.5,462.7L296.3,463.3L282.1,464.4L269.0,465.7L256.8,467.4L245.4,469.4L234.8,471.6L224.7,474.1L215.1,476.7L206.0,479.4L197.1,482.3L188.4,485.2L179.8,488.2L171.2,491.1L162.5,494.1L153.5,497.0L144.2,499.7L134.5,502.4L124.3,504.8L113.5,507.1L101.9,509.1L89.6,510.8L76.3,512.2L62.0,513.2L46.6,513.9L30.0,514.1Z" fill="url(#g17)" stroke="url(#g17)"/>
<path d="M30.0,514.1L46.5,514.0L61.7,513.7L75.8,513.2L89.0,512.6L101.1,511.8L112.5,510.9L123.2,509.9L133.2,508.7L142.8,507.5L151.9,506.2L160.8,504.9L169.5,503.5L178.1,502.2L186.7,500.8L195.5,499.4L204.4,498.1L213.7,496.8L223.4,495.5L233.7,494.4L244.5,493.4L256.1,492.4L268.4,491.6L281.7,491.0L296.0,490.5L311.4,490.2L328.0,490.1L328.0,501.0L311.5,501.1L296.3,501.4L282.1,501.9L269.0,502.5L256.8,503.3L245.5,504.3L234.8,505.3L224.8,506.4L215.2,507.7L206.0,509.0L197.2,510.3L188.5,511.7L179.9,513.1L171.3,514.5L162.5,515.9L153.6,517.3L144.3,518.6L134.6,519.9L124.3,521.0L113.5,522.1L102.0,523.0L89.6,523.8L76.3,524.5L62.0,525.0L46.6,525.3L30.0,525.4Z" fill="url(#g18)" stroke="url(#g18)"/>
<path d="M30.0,525.4L46.5,525.4L61.9,525.4L76.1,525.4L89.3,525.4L101.5,525.4L113.0,525.4L123.8,525.4L133.9,525.4L143.5,525.4L152.8,525.4L161.7,525.4L170.4,525.4L179.0,525.4L187.6,525.4L196.3,525.4L205.2,525.4L214.5,525.4L224.1,525.4L234.2,525.4L245.0,525.4L256.4,525.4L268.7,525.4L281.9,525.4L296.1,525.4L311.5,525.4L328.0,525.4L328.0,527.3L311.5,527.3L296.1,527.3L281.9,527.3L268.7,527.3L256.5,527.3L245.0,527.4L234.2,527.4L224.1,527.4L214.5,527.5L205.2,527.5L196.3,527.5L187.6,527.6L179.0,527.6L170.4,527.7L161.7,527.7L152.8,527.7L143.5,527.8L133.9,527.8L123.8,527.9L113.0,527.9L101.6,527.9L89.3,527.9L76.1,528.0L61.9,528.0L46.5,528.0L30.0,528.0Z" fill="url(#g19)" stroke="url(#g19)"/>
<path d="M30.0,528.0L46.7,528.1L62.1,528.4L76.4,529.0L89.7,529.8L102.1,530.7L113.7,531.8L124.6,533.0L134.9,534.3L144.6,535.8L153.9,537.3L162.9,538.8L171.7,540.4L180.3,542.0L188.9,543.6L197.6,545.2L206.4,546.7L215.6,548.2L225.1,549.6L235.1,550.9L245.7,552.1L257.0,553.2L269.2,554.1L282.3,554.8L296.3,555.4L311.6,555.7L328.0,555.8L328.0,570.1L311.3,570.0L295.9,569.6L281.6,569.0L268.3,568.3L255.9,567.3L244.3,566.2L233.4,565.0L223.1,563.7L213.4,562.2L204.1,560.7L195.1,559.1L186.3,557.5L177.7,555.9L169.1,554.3L160.4,552.7L151.6,551.1L142.5,549.6L132.9,548.2L122.9,546.9L112.3,545.7L101.0,544.6L88.8,543.7L75.7,543.0L61.7,542.4L46.4,542.1L30.0,541.9Z" fill="url(#g20)" stroke="url(#g20)"/>
<path d="M30.0,541.9L46.6,542.2L61.9,542.8L76.1,543.8L89.4,545.1L101.6,546.8L113.1,548.7L123.9,550.8L134.1,553.2L143.7,555.7L152.9,558.4L161.9,561.2L170.6,564.0L179.2,566.9L187.8,569.8L196.5,572.6L205.4,575.4L214.6,578.0L224.3,580.5L234.4,582.9L245.1,585.0L256.5,587.0L268.8,588.6L282.0,589.9L296.2,590.9L311.5,591.5L328.0,591.8L328.0,593.1L311.4,592.8L296.1,592.2L281.9,591.2L268.6,589.9L256.4,588.2L244.9,586.3L234.1,584.2L223.9,581.8L214.3,579.3L205.1,576.6L196.1,573.8L187.4,571.0L178.8,568.1L170.2,565.3L161.5,562.4L152.6,559.7L143.4,557.0L133.7,554.5L123.6,552.1L112.9,550.0L101.5,548.1L89.2,546.4L76.0,545.1L61.8,544.1L46.5,543.5L30.0,543.3Z" fill="url(#g21)" stroke="url(#g21)"/>
<path d="M337.0,549.0L353.4,548.0L368.5,545.1L382.6,540.5L395.6,534.3L407.8,526.7L419.1,517.9L429.8,507.9L439.9,496.9L449.5,485.2L458.6,472.8L467.5,459.9L476.2,446.7L484.8,433.4L493.4,420.0L502.1,406.7L511.0,393.8L520.3,381.4L529.9,369.5L540.1,358.5L550.9,348.4L562.4,339.4L574.8,331.6L588.1,325.3L602.4,320.6L617.8,317.7L634.5,316.7L634.5,319.0L618.1,320.0L603.0,322.9L588.9,327.5L575.9,333.7L563.7,341.2L552.4,350.1L541.7,360.1L531.6,371.0L522.1,382.8L512.9,395.1L504.0,408.0L495.3,421.2L486.7,434.6L478.1,448.0L469.4,461.2L460.5,474.1L451.2,486.6L441.6,498.4L431.4,509.5L420.6,519.6L409.1,528.6L396.7,536.3L383.4,542.6L369.1,547.3L353.7,550.2L337.0,551.2Z" fill="url(#g71)" stroke="url(#g71)"/>
<path d="M337.0,551.2L353.4,550.7L368.5,549.4L382.6,547.2L395.6,544.2L407.6,540.6L418.9,536.4L429.5,531.6L439.5,526.4L449.0,520.8L458.1,514.9L466.9,508.8L475.6,502.5L484.1,496.1L492.7,489.7L501.4,483.4L510.4,477.2L519.7,471.2L529.4,465.4L539.6,460.1L550.5,455.2L562.1,450.9L574.6,447.2L587.9,444.1L602.3,441.9L617.8,440.5L634.5,440.0L634.5,446.0L618.2,446.5L603.0,447.8L589.1,450.0L576.1,452.9L564.0,456.5L552.7,460.7L542.2,465.3L532.2,470.5L522.7,476.0L513.5,481.8L504.7,487.9L496.0,494.1L487.4,500.5L478.7,506.8L470.0,513.1L461.0,519.3L451.7,525.2L442.0,530.9L431.7,536.2L420.8,541.0L409.2,545.3L396.8,548.9L383.5,551.9L369.1,554.2L353.7,555.6L337.0,556.0Z" fill="url(#g72)" stroke="url(#g72)"/>
<path d="M337.0,556.0L353.5,555.7L368.8,554.6L383.0,553.0L396.1,550.7L408.3,548.0L419.8,544.8L430.5,541.2L440.6,537.3L450.2,533.0L459.4,528.6L468.3,524.0L476.9,519.2L485.5,514.4L494.1,509.6L502.8,504.9L511.8,500.3L521.0,495.8L530.6,491.6L540.7,487.6L551.5,484.0L563.0,480.8L575.2,478.0L588.4,475.8L602.6,474.1L618.0,473.1L634.5,472.7L634.5,473.7L618.0,474.0L602.7,475.0L588.6,476.7L575.4,478.9L563.2,481.7L551.8,484.9L541.1,488.5L530.9,492.4L521.3,496.6L512.1,501.0L503.3,505.7L494.6,510.4L486.0,515.2L477.4,520.0L468.6,524.7L459.7,529.3L450.5,533.8L440.9,538.0L430.7,541.9L420.0,545.5L408.5,548.8L396.3,551.5L383.1,553.7L368.9,555.4L353.5,556.4L337.0,556.8Z" fill="url(#g73)" stroke="url(#g73)"/>
<path d="M337.0,556.8L353.5,556.6L368.8,555.8L383.0,554.7L396.1,553.1L408.4,551.2L419.8,548.9L430.5,546.4L440.6,543.6L450.2,540.7L459.4,537.6L468.3,534.3L477.0,531.0L485.6,527.6L494.2,524.3L502.9,520.9L511.8,517.7L521.0,514.6L530.7,511.6L540.8,508.8L551.5,506.3L563.0,504.1L575.3,502.1L588.4,500.6L602.6,499.4L618.0,498.6L634.5,498.4L634.5,499.3L618.0,499.5L602.7,500.3L588.5,501.4L575.4,503.0L563.1,504.9L551.7,507.2L541.0,509.7L530.9,512.4L521.3,515.4L512.1,518.5L503.2,521.7L494.5,525.0L485.9,528.4L477.3,531.8L468.6,535.1L459.7,538.3L450.5,541.4L440.8,544.4L430.7,547.2L420.0,549.7L408.5,551.9L396.2,553.9L383.0,555.4L368.8,556.6L353.5,557.3L337.0,557.6Z" fill="url(#g74)" stroke="url(#g74)"/>
<path d="M337.0,557.6L353.5,557.5L368.8,557.3L383.0,556.9L396.2,556.4L408.4,555.7L419.8,555.0L430.6,554.2L440.7,553.3L450.3,552.3L459.5,551.3L468.4,550.2L477.1,549.1L485.7,548.0L494.3,546.9L503.0,545.8L511.9,544.8L521.1,543.7L530.7,542.8L540.8,541.8L551.6,541.0L563.0,540.3L575.3,539.6L588.5,539.1L602.7,538.7L618.0,538.5L634.5,538.4L634.5,539.6L618.0,539.7L602.7,540.0L588.5,540.3L575.4,540.8L563.1,541.5L551.7,542.2L540.9,543.0L530.8,543.9L521.2,544.9L512.0,545.9L503.1,546.9L494.4,548.0L485.8,549.1L477.2,550.2L468.5,551.2L459.6,552.3L450.4,553.3L440.8,554.3L430.6,555.2L419.9,556.0L408.5,556.7L396.2,557.3L383.0,557.8L368.8,558.2L353.5,558.5L337.0,558.5Z" fill="url(#g75)" stroke="url(#g75)"/>
<path d="M337.0,558.5L353.5,558.6L368.9,558.6L383.1,558.8L396.3,558.9L408.5,559.1L420.0,559.3L430.8,559.6L440.9,559.8L450.5,560.1L459.8,560.4L468.7,560.8L477.4,561.1L486.0,561.4L494.6,561.8L503.3,562.1L512.2,562.4L521.3,562.7L530.9,563.0L541.0,563.3L551.8,563.5L563.2,563.7L575.4,563.9L588.6,564.1L602.7,564.2L618.0,564.3L634.5,564.3L634.5,576.3L618.0,576.2L602.6,576.2L588.4,576.1L575.2,575.9L563.0,575.8L551.5,575.6L540.8,575.3L530.6,575.1L521.0,574.8L511.8,574.6L502.8,574.3L494.1,574.0L485.5,573.7L476.9,573.4L468.2,573.1L459.3,572.8L450.2,572.5L440.6,572.2L430.5,572.0L419.7,571.8L408.3,571.6L396.1,571.4L382.9,571.3L368.8,571.2L353.5,571.1L337.0,571.1Z" fill="url(#g76)" stroke="url(#g76)"/>
<path d="M337.0,571.1L353.5,571.2L368.8,571.5L383.0,572.0L396.2,572.6L408.5,573.4L419.9,574.3L430.7,575.3L440.8,576.5L450.4,577.7L459.6,579.0L468.5,580.3L477.2,581.7L485.8,583.0L494.4,584.4L503.1,585.8L512.0,587.1L521.2,588.4L530.8,589.6L540.9,590.7L551.7,591.8L563.1,592.7L575.4,593.5L588.5,594.1L602.7,594.6L618.0,594.9L634.5,595.0L634.5,596.0L618.0,595.9L602.7,595.6L588.5,595.1L575.3,594.5L563.0,593.7L551.6,592.8L540.8,591.7L530.7,590.6L521.1,589.4L511.9,588.1L503.0,586.8L494.3,585.4L485.7,584.0L477.1,582.6L468.4,581.3L459.5,579.9L450.3,578.7L440.7,577.4L430.6,576.3L419.8,575.3L408.4,574.4L396.1,573.6L383.0,572.9L368.8,572.4L353.5,572.1L337.0,572.0Z" fill="url(#g77)" stroke="url(#g77)"/>
<path d="M643.5,556.5L660.0,555.5L675.3,552.4L689.4,547.6L702.6,541.1L714.8,533.1L726.3,523.8L737.0,513.3L747.1,501.9L756.7,489.6L765.9,476.6L774.8,463.1L783.5,449.3L792.2,435.4L800.8,421.4L809.5,407.6L818.4,394.1L827.6,381.1L837.3,368.8L847.4,357.3L858.2,346.8L869.7,337.4L882.0,329.4L895.3,322.8L909.5,318.0L924.9,314.9L941.5,313.9L941.5,314.7L925.0,315.7L909.7,318.8L895.6,323.6L882.4,330.1L870.2,338.1L858.8,347.4L848.0,357.8L837.9,369.3L828.3,381.6L819.1,394.6L810.2,408.0L801.5,421.8L792.8,435.8L784.2,449.8L775.5,463.6L766.6,477.0L757.3,490.0L747.7,502.4L737.5,513.9L726.8,524.4L715.3,533.7L703.0,541.8L689.7,548.3L675.5,553.2L660.1,556.2L643.5,557.3Z" fill="url(#g120)" stroke="url(#g120)"/>
<path d="M643.5,557.3L659.9,556.8L675.2,555.3L689.2,553.0L702.3,549.9L714.5,546.1L725.8,541.7L736.5,536.7L746.5,531.2L756.0,525.4L765.2,519.2L774.0,512.8L782.7,506.2L791.3,499.5L799.9,492.8L808.6,486.2L817.6,479.7L826.8,473.4L836.5,467.5L846.8,461.9L857.6,456.8L869.2,452.3L881.6,448.4L895.0,445.3L909.3,442.9L924.8,441.4L941.5,440.9L941.5,445.5L925.1,446.0L909.9,447.4L895.9,449.7L882.8,452.7L870.7,456.5L859.4,460.9L848.7,465.8L838.7,471.2L829.1,477.0L819.9,483.1L811.1,489.5L802.3,496.0L793.7,502.7L785.1,509.3L776.3,515.9L767.3,522.3L758.0,528.5L748.3,534.4L738.1,539.9L727.2,544.9L715.6,549.4L703.2,553.3L689.9,556.4L675.6,558.7L660.2,560.2L643.5,560.7Z" fill="url(#g121)" stroke="url(#g121)"/>
<path d="M643.5,560.7L660.0,560.2L675.4,559.0L689.6,557.1L702.7,554.5L715.0,551.4L726.4,547.7L737.2,543.6L747.3,539.0L756.9,534.2L766.1,529.0L775.1,523.7L783.8,518.2L792.4,512.7L801.0,507.2L809.7,501.7L818.6,496.4L827.9,491.3L837.5,486.4L847.6,481.8L858.4,477.7L869.9,474.0L882.2,470.8L895.4,468.2L909.6,466.3L924.9,465.1L941.5,464.7L941.5,465.2L925.0,465.6L909.7,466.8L895.5,468.7L882.3,471.3L870.0,474.5L858.6,478.1L847.8,482.3L837.7,486.8L828.1,491.7L818.9,496.8L809.9,502.1L801.2,507.6L792.6,513.1L784.0,518.6L775.3,524.1L766.4,529.4L757.1,534.5L747.5,539.4L737.3,543.9L726.6,548.1L715.1,551.8L702.8,554.9L689.6,557.5L675.4,559.4L660.1,560.6L643.5,561.0Z" fill="url(#g122)" stroke="url(#g122)"/>
<path d="M643.5,561.0L660.0,560.7L675.4,559.9L689.6,558.5L702.7,556.7L715.0,554.4L726.4,551.8L737.2,548.8L747.3,545.6L756.9,542.1L766.1,538.4L775.1,534.6L783.8,530.7L792.4,526.8L801.0,522.8L809.7,518.9L818.6,515.1L827.9,511.4L837.5,507.9L847.6,504.7L858.4,501.7L869.9,499.1L882.2,496.8L895.4,494.9L909.6,493.6L924.9,492.7L941.5,492.4L941.5,493.1L925.0,493.4L909.7,494.3L895.5,495.6L882.3,497.5L870.0,499.7L858.6,502.3L847.8,505.3L837.7,508.5L828.1,512.0L818.9,515.7L810.0,519.5L801.2,523.4L792.6,527.3L784.0,531.2L775.3,535.1L766.4,538.9L757.1,542.6L747.5,546.1L737.3,549.3L726.6,552.3L715.1,554.9L702.8,557.2L689.6,559.0L675.4,560.4L660.1,561.2L643.5,561.5Z" fill="url(#g123)" stroke="url(#g123)"/>
<path d="M643.5,561.5L660.0,561.4L675.4,560.9L689.6,560.3L702.7,559.3L715.0,558.2L726.5,556.9L737.2,555.4L747.3,553.7L757.0,552.0L766.2,550.1L775.1,548.2L783.8,546.3L792.4,544.3L801.0,542.3L809.7,540.3L818.7,538.4L827.9,536.5L837.5,534.8L847.7,533.1L858.4,531.7L869.9,530.3L882.2,529.2L895.4,528.3L909.6,527.6L924.9,527.1L941.5,527.0L941.5,527.8L925.0,527.9L909.6,528.4L895.4,529.0L882.3,530.0L870.0,531.1L858.5,532.4L847.8,533.9L837.7,535.5L828.0,537.3L818.8,539.1L809.9,541.0L801.2,543.0L792.6,545.0L784.0,547.0L775.2,548.9L766.3,550.8L757.1,552.7L747.5,554.4L737.3,556.1L726.6,557.5L715.1,558.9L702.8,560.0L689.6,560.9L675.4,561.6L660.1,562.1L643.5,562.2Z" fill="url(#g124)" stroke="url(#g124)"/>
<path d="M643.5,562.2L660.0,562.2L675.3,562.1L689.5,562.0L702.7,561.9L715.0,561.7L726.4,561.5L737.1,561.3L747.3,561.1L756.9,560.8L766.1,560.6L775.0,560.3L783.7,560.0L792.3,559.7L800.9,559.4L809.7,559.1L818.6,558.9L827.8,558.6L837.5,558.3L847.6,558.1L858.4,557.9L869.9,557.7L882.2,557.5L895.4,557.4L909.6,557.3L924.9,557.2L941.5,557.2L941.5,567.7L925.0,567.7L909.7,567.8L895.5,567.9L882.3,568.0L870.0,568.2L858.6,568.4L847.9,568.6L837.7,568.8L828.1,569.1L818.9,569.3L810.0,569.6L801.3,569.9L792.7,570.2L784.1,570.5L775.3,570.7L766.4,571.0L757.2,571.3L747.5,571.5L737.4,571.8L726.6,572.0L715.1,572.2L702.8,572.3L689.6,572.5L675.4,572.6L660.1,572.6L643.5,572.6Z" fill="url(#g125)" stroke="url(#g125)"/>
<path d="M643.5,572.6L660.1,572.7L675.4,573.0L689.6,573.3L702.8,573.8L715.1,574.4L726.5,575.1L737.3,575.9L747.4,576.8L757.1,577.7L766.3,578.7L775.2,579.7L783.9,580.8L792.6,581.8L801.2,582.9L809.9,583.9L818.8,584.9L828.0,585.9L837.6,586.8L847.8,587.7L858.5,588.5L870.0,589.2L882.2,589.8L895.4,590.3L909.6,590.6L925.0,590.9L941.5,591.0L941.5,592.0L924.9,591.9L909.6,591.7L895.4,591.3L882.2,590.8L869.9,590.2L858.5,589.5L847.7,588.7L837.6,587.8L827.9,586.9L818.7,585.9L809.8,584.9L801.1,583.9L792.4,582.8L783.8,581.7L775.1,580.7L766.2,579.7L757.0,578.7L747.4,577.8L737.2,576.9L726.5,576.1L715.0,575.4L702.8,574.8L689.6,574.3L675.4,573.9L660.0,573.7L643.5,573.6Z" fill="url(#g126)" stroke="url(#g126)"/>
<path d="M950.5,544.5L966.9,543.5L982.1,540.5L996.2,535.7L1009.3,529.3L1021.5,521.4L1032.9,512.2L1043.5,501.9L1053.6,490.6L1063.2,478.4L1072.4,465.6L1081.3,452.2L1090.0,438.6L1098.6,424.7L1107.2,410.9L1115.9,397.2L1124.9,383.8L1134.1,370.9L1143.8,358.7L1153.9,347.2L1164.8,336.8L1176.3,327.4L1188.7,319.4L1202.0,312.9L1216.3,308.0L1231.8,305.0L1248.5,304.0L1248.5,306.2L1232.1,307.2L1216.9,310.2L1202.8,315.0L1189.8,321.4L1177.6,329.2L1166.2,338.4L1155.5,348.7L1145.4,360.0L1135.8,372.2L1126.6,385.0L1117.7,398.3L1109.0,412.0L1100.4,425.8L1091.8,439.7L1083.0,453.4L1074.1,466.7L1064.8,479.6L1055.2,491.8L1045.0,503.3L1034.2,513.7L1022.6,523.0L1010.3,531.0L997.0,537.5L982.6,542.4L967.2,545.4L950.5,546.4Z" fill="url(#g169)" stroke="url(#g169)"/>
<path d="M950.5,546.4L967.0,546.0L982.2,544.6L996.3,542.4L1009.4,539.4L1021.6,535.8L1033.0,531.6L1043.6,526.8L1053.7,521.6L1063.3,516.0L1072.5,510.1L1081.3,504.0L1090.0,497.7L1098.6,491.3L1107.3,484.9L1116.0,478.6L1124.9,472.4L1134.2,466.5L1143.9,460.8L1154.1,455.5L1164.9,450.7L1176.5,446.4L1188.9,442.7L1202.1,439.7L1216.5,437.5L1231.9,436.1L1248.5,435.6L1248.5,438.5L1232.0,438.9L1216.8,440.3L1202.7,442.5L1189.6,445.5L1177.4,449.1L1166.0,453.3L1155.4,458.1L1145.3,463.3L1135.7,468.9L1126.5,474.8L1117.7,480.9L1109.0,487.2L1100.4,493.6L1091.7,500.0L1083.0,506.3L1074.1,512.5L1064.8,518.5L1055.1,524.1L1044.9,529.4L1034.1,534.2L1022.5,538.5L1010.1,542.2L996.9,545.2L982.6,547.5L967.1,548.9L950.5,549.3Z" fill="url(#g170)" stroke="url(#g170)"/>
<path d="M950.5,549.3L967.0,549.0L982.3,547.9L996.5,546.2L1009.7,543.9L1022.0,541.1L1033.4,537.8L1044.1,534.1L1054.3,530.1L1063.9,525.7L1073.1,521.1L1082.0,516.4L1090.7,511.5L1099.3,506.6L1107.9,501.7L1116.6,496.8L1125.5,492.1L1134.8,487.5L1144.4,483.1L1154.6,479.1L1165.3,475.4L1176.8,472.1L1189.1,469.2L1202.3,466.9L1216.6,465.2L1231.9,464.1L1248.5,463.8L1248.5,464.8L1232.0,465.1L1216.7,466.2L1202.5,467.9L1189.3,470.2L1177.1,473.0L1165.6,476.3L1154.9,480.0L1144.8,484.0L1135.2,488.3L1126.0,492.9L1117.0,497.6L1108.3,502.4L1099.7,507.3L1091.1,512.3L1082.4,517.1L1073.4,521.8L1064.2,526.4L1054.5,530.7L1044.4,534.8L1033.6,538.5L1022.1,541.8L1009.8,544.6L996.6,546.9L982.4,548.6L967.1,549.7L950.5,550.0Z" fill="url(#g171)" stroke="url(#g171)"/>
<path d="M950.5,550.0L967.0,549.7L982.4,548.9L996.5,547.7L1009.7,546.0L1022.0,543.9L1033.4,541.4L1044.2,538.7L1054.3,535.7L1063.9,532.4L1073.1,529.0L1082.0,525.5L1090.7,521.9L1099.3,518.2L1108.0,514.5L1116.7,510.9L1125.6,507.4L1134.8,504.0L1144.5,500.7L1154.6,497.7L1165.4,495.0L1176.9,492.5L1189.2,490.4L1202.4,488.7L1216.6,487.4L1231.9,486.6L1248.5,486.3L1248.5,487.2L1232.0,487.5L1216.7,488.3L1202.5,489.6L1189.3,491.3L1177.0,493.4L1165.6,495.8L1154.9,498.5L1144.7,501.5L1135.1,504.8L1125.9,508.2L1117.0,511.7L1108.3,515.3L1099.7,518.9L1091.0,522.6L1082.3,526.2L1073.4,529.7L1064.2,533.1L1054.5,536.4L1044.4,539.4L1033.6,542.1L1022.1,544.6L1009.8,546.7L996.6,548.4L982.4,549.6L967.1,550.4L950.5,550.7Z" fill="url(#g172)" stroke="url(#g172)"/>
<path d="M950.5,550.7L967.0,550.6L982.4,550.2L996.6,549.6L1009.7,548.9L1022.0,547.9L1033.5,546.9L1044.2,545.6L1054.3,544.3L1064.0,542.8L1073.2,541.3L1082.1,539.7L1090.8,538.1L1099.4,536.5L1108.0,534.8L1116.8,533.2L1125.7,531.6L1134.9,530.1L1144.5,528.7L1154.7,527.3L1165.4,526.1L1176.9,525.0L1189.2,524.0L1202.4,523.3L1216.6,522.7L1231.9,522.4L1248.5,522.2L1248.5,523.2L1232.0,523.3L1216.6,523.6L1202.4,524.2L1189.3,525.0L1177.0,525.9L1165.5,527.0L1154.8,528.2L1144.7,529.5L1135.0,531.0L1125.8,532.5L1116.9,534.1L1108.2,535.7L1099.6,537.3L1091.0,538.9L1082.2,540.5L1073.3,542.1L1064.1,543.6L1054.5,545.1L1044.3,546.4L1033.6,547.6L1022.1,548.7L1009.8,549.7L996.6,550.4L982.4,551.0L967.1,551.3L950.5,551.5Z" fill="url(#g173)" stroke="url(#g173)"/>
<path d="M950.5,551.5L967.0,551.5L982.3,551.4L996.5,551.3L1009.7,551.2L1022.0,551.1L1033.4,550.9L1044.1,550.7L1054.2,550.5L1063.9,550.3L1073.1,550.1L1082.0,549.9L1090.7,549.6L1099.3,549.4L1107.9,549.1L1116.6,548.9L1125.6,548.7L1134.8,548.4L1144.5,548.2L1154.6,548.0L1165.4,547.8L1176.9,547.7L1189.2,547.5L1202.4,547.4L1216.6,547.3L1231.9,547.3L1248.5,547.3L1248.5,558.9L1232.0,559.0L1216.7,559.0L1202.5,559.2L1189.3,559.3L1177.0,559.5L1165.6,559.7L1154.9,559.9L1144.7,560.2L1135.1,560.5L1125.9,560.8L1117.0,561.1L1108.3,561.4L1099.7,561.7L1091.1,562.1L1082.4,562.4L1073.4,562.7L1064.2,563.0L1054.6,563.3L1044.4,563.5L1033.6,563.8L1022.1,564.0L1009.8,564.2L996.6,564.3L982.4,564.5L967.1,564.5L950.5,564.5Z" fill="url(#g174)" stroke="url(#g174)"/>
<path d="M950.5,564.5L967.1,564.6L982.4,564.8L996.6,565.1L1009.8,565.5L1022.1,565.9L1033.5,566.5L1044.3,567.1L1054.4,567.8L1064.1,568.5L1073.3,569.2L1082.2,570.0L1090.9,570.8L1099.5,571.7L1108.1,572.5L1116.9,573.3L1125.8,574.1L1135.0,574.8L1144.6,575.6L1154.8,576.2L1165.5,576.9L1177.0,577.4L1189.2,577.9L1202.4,578.3L1216.6,578.5L1232.0,578.7L1248.5,578.8L1248.5,579.6L1231.9,579.6L1216.6,579.4L1202.4,579.1L1189.2,578.7L1176.9,578.2L1165.5,577.7L1154.7,577.1L1144.6,576.4L1134.9,575.6L1125.7,574.9L1116.8,574.0L1108.1,573.2L1099.5,572.4L1090.9,571.5L1082.1,570.7L1073.2,569.9L1064.0,569.1L1054.4,568.4L1044.2,567.7L1033.5,567.1L1022.0,566.5L1009.8,566.1L996.6,565.7L982.4,565.4L967.0,565.2L950.5,565.1Z" fill="url(#g175)" stroke="url(#g175)"/>
</g>
<g>
<rect x="21" y="187" width="9" height="78" fill="#fa776c"/>
<rect x="21" y="281" width="9" height="106" fill="#4d90f7"/>
<rect x="21" y="491" width="9" height="53" fill="#8e8e8e"/>
<rect x="21" y="561" width="9" height="16" fill="#c4b08f"/>
<rect x="21" y="594" width="9" height="6" fill="#f5c518"/>
<rect x="328" y="237" width="9" height="76" fill="#fa776c"/>
<rect x="328" y="330" width="9" height="102" fill="#4d90f7"/>
<rect x="328" y="449" width="9" height="15" fill="#c3af90"/>
<rect x="328" y="480" width="9" height="25" fill="#f8651f"/>
<rect x="328" y="522" width="9" height="10" fill="#c4b08f"/>
<rect x="328" y="549" width="9" height="24" fill="#8e8e8e"/>
<rect x="328" y="590" width="9" height="6" fill="#f5c518"/>
<rect x="634.5" y="242" width="9" height="77.5" fill="#fa776c"/>
<rect x="634.5" y="336.5" width="9" height="111" fill="#4d90f7"/>
<rect x="634.5" y="464" width="9" height="10" fill="#1b2550"/>
<rect x="634.5" y="491" width="9" height="8.5" fill="#c4b08f"/>
<rect x="634.5" y="517" width="9" height="23" fill="#fa7d1e"/>
<rect x="634.5" y="556.5" width="9" height="20.5" fill="#8e8e8e"/>
<rect x="634.5" y="593.5" width="9" height="6" fill="#f5c518"/>
<rect x="941.5" y="235.5" width="9" height="79.5" fill="#fa776c"/>
<rect x="941.5" y="332.5" width="9" height="114.5" fill="#4d90f7"/>
<rect x="941.5" y="463.5" width="9" height="3.5" fill="#0b7d48"/>
<rect x="941.5" y="483.5" width="9" height="11" fill="#c4b08f"/>
<rect x="941.5" y="511" width="9" height="17" fill="#fa7d1e"/>
<rect x="941.5" y="544.5" width="9" height="24.5" fill="#8e8e8e"/>
<rect x="941.5" y="585.5" width="9" height="7" fill="#45b5b8"/>
<rect x="1248.5" y="225" width="9" height="81.5" fill="#fa776c"/>
<rect x="1248.5" y="323.5" width="9" height="117.5" fill="#4d90f7"/>
<rect x="1248.5" y="458" width="9" height="7.5" fill="#c4b08f"/>
<rect x="1248.5" y="483" width="9" height="4.5" fill="#0b7d48"/>
<rect x="1248.5" y="504.5" width="9" height="19" fill="#fa7d1e"/>
<rect x="1248.5" y="540.5" width="9" height="19" fill="#8e8e8e"/>
<rect x="1248.5" y="576.5" width="9" height="6" fill="#45b5b8"/>
</g>
<g>
<text x="21" y="140" text-anchor="start" class="hn">n = 1,508</text>
<text x="21" y="155" text-anchor="start" class="hn">23년 12월 3주</text>
<text x="21" y="177" text-anchor="start" class="hr">1차</text>
<text x="330" y="140" text-anchor="middle" class="hn">n = 1,314</text>
<text x="330" y="155" text-anchor="middle" class="hn">24년 1월 2주</text>
<text x="330" y="177" text-anchor="middle" class="hr">2차</text>
<text x="641.5" y="140" text-anchor="middle" class="hn">n = 1,265</text>
<text x="641.5" y="155" text-anchor="middle" class="hn">24년 2월 1주</text>
<text x="641.5" y="177" text-anchor="middle" class="hr">3차</text>
<text x="954" y="140" text-anchor="middle" class="hn">n = 1,216</text>
<text x="954" y="155" text-anchor="middle" class="hn">24년 2월 5주</text>
<text x="954" y="177" text-anchor="middle" class="hr">4차</text>
<text x="1257" y="140" text-anchor="end" class="hn">n = 1,171</text>
<text x="1257" y="155" text-anchor="end" class="hn">24년 3월 5주</text>
<text x="1257" y="177" text-anchor="end" class="hr">5차</text>
<text x="35.5" y="222.4" text-anchor="start" class="nm">국민의힘</text>
<text x="35.5" y="235" text-anchor="start" class="pc">30%</text>
<text x="35.5" y="330.4" text-anchor="start" class="nm">더불어민주당</text>
<text x="35.5" y="343" text-anchor="start" class="pc">41%</text>
<text x="35.5" y="513.9" text-anchor="start" class="nm">없음/모름</text>
<text x="35.5" y="526.5" text-anchor="start" class="pc">21%</text>
<text x="35.5" y="565.4" text-anchor="start" class="nm">기타</text>
<text x="35.5" y="578" text-anchor="start" class="pc">6%</text>
<text x="35.5" y="593.4" text-anchor="start" class="nm">정의당</text>
<text x="35.5" y="606" text-anchor="start" class="pc">2%</text>
<text x="342.5" y="271.4" text-anchor="start" class="nm">국민의힘</text>
<text x="342.5" y="284" text-anchor="start" class="pc">30%</text>
<text x="342.5" y="377.4" text-anchor="start" class="nm">더불어민주당</text>
<text x="342.5" y="390" text-anchor="start" class="pc">40%</text>
<text x="342.5" y="452.9" text-anchor="start" class="nm">이낙연신당</text>
<text x="342.5" y="465.5" text-anchor="start" class="pc">6%</text>
<text x="342.5" y="488.9" text-anchor="start" class="nm">이준석신당</text>
<text x="342.5" y="501.5" text-anchor="start" class="pc">10%</text>
<text x="342.5" y="523.4" text-anchor="start" class="nm">기타</text>
<text x="342.5" y="536" text-anchor="start" class="pc">4%</text>
<text x="342.5" y="557.4" text-anchor="start" class="nm">없음/모름</text>
<text x="342.5" y="570" text-anchor="start" class="pc">9%</text>
<text x="342.5" y="589.4" text-anchor="start" class="nm">정의당</text>
<text x="342.5" y="602" text-anchor="start" class="pc">2%</text>
<text x="649" y="277.15" text-anchor="start" class="nm">국민의힘</text>
<text x="649" y="289.75" text-anchor="start" class="pc">30%</text>
<text x="649" y="388.4" text-anchor="start" class="nm">더불어민주당</text>
<text x="649" y="401" text-anchor="start" class="pc">44%</text>
<text x="649" y="465.4" text-anchor="start" class="nm">개혁미래당</text>
<text x="649" y="478" text-anchor="start" class="pc">4%</text>
<text x="649" y="491.65" text-anchor="start" class="nm">기타</text>
<text x="649" y="504.25" text-anchor="start" class="pc">3%</text>
<text x="649" y="524.9" text-anchor="start" class="nm">개혁신당</text>
<text x="649" y="537.5" text-anchor="start" class="pc">9%</text>
<text x="649" y="563.15" text-anchor="start" class="nm">없음/모름</text>
<text x="649" y="575.75" text-anchor="start" class="pc">8%</text>
<text x="649" y="592.9" text-anchor="start" class="nm">정의당</text>
<text x="649" y="605.5" text-anchor="start" class="pc">2%</text>
<text x="937" y="271.65" text-anchor="end" class="nm">국민의힘</text>
<text x="937" y="284.25" text-anchor="end" class="pc">31%</text>
<text x="937" y="386.15" text-anchor="end" class="nm">더불어민주당</text>
<text x="937" y="398.75" text-anchor="end" class="pc">45%</text>
<text x="937" y="461.65" text-anchor="end" class="nm">녹색정의당</text>
<text x="937" y="474.25" text-anchor="end" class="pc">1%</text>
<text x="937" y="485.4" text-anchor="end" class="nm">기타</text>
<text x="937" y="498" text-anchor="end" class="pc">4%</text>
<text x="937" y="515.9" text-anchor="end" class="nm">개혁신당</text>
<text x="937" y="528.5" text-anchor="end" class="pc">6%</text>
<text x="937" y="553.15" text-anchor="end" class="nm">없음/모름</text>
<text x="937" y="565.75" text-anchor="end" class="pc">9%</text>
<text x="937" y="585.4" text-anchor="end" class="nm">새로운미래</text>
<text x="937" y="598" text-anchor="end" class="pc">3%</text>
<text x="1244" y="262.15" text-anchor="end" class="nm">국민의힘</text>
<text x="1244" y="274.75" text-anchor="end" class="pc">32%</text>
<text x="1244" y="378.65" text-anchor="end" class="nm">더불어민주당</text>
<text x="1244" y="391.25" text-anchor="end" class="pc">46%</text>
<text x="1244" y="458.15" text-anchor="end" class="nm">기타</text>
<text x="1244" y="470.75" text-anchor="end" class="pc">3%</text>
<text x="1244" y="481.65" text-anchor="end" class="nm">녹색정의당</text>
<text x="1244" y="494.25" text-anchor="end" class="pc">2%</text>
<text x="1244" y="510.4" text-anchor="end" class="nm">개혁신당</text>
<text x="1244" y="523" text-anchor="end" class="pc">7%</text>
<text x="1244" y="546.4" text-anchor="end" class="nm">없음/모름</text>
<text x="1244" y="559" text-anchor="end" class="pc">7%</text>
<text x="1244" y="575.9" text-anchor="end" class="nm">새로운미래</text>
<text x="1244" y="588.5" text-anchor="end" class="pc">2%</text>
</g>
</svg>
</body></html>
